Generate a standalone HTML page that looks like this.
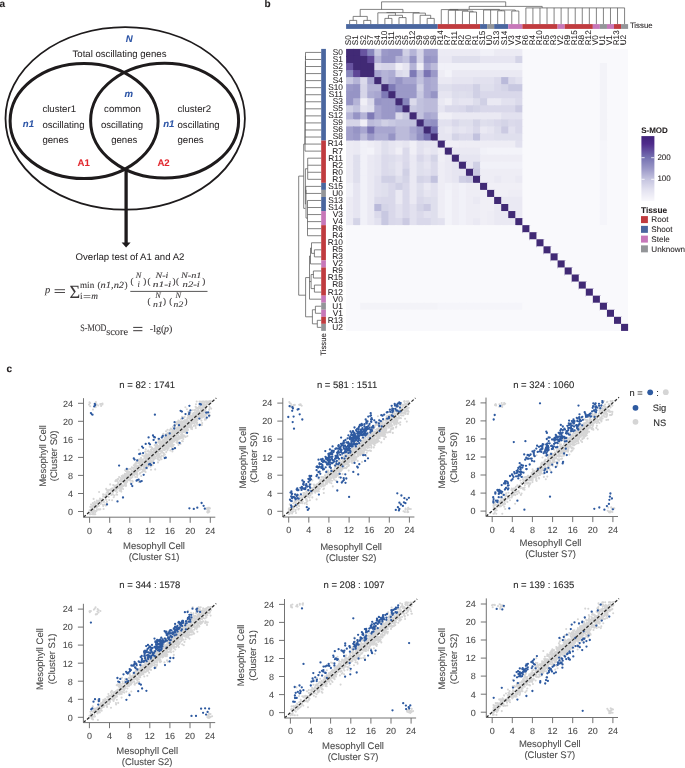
<!DOCTYPE html>
<html><head><meta charset="utf-8"><style>
html,body{margin:0;padding:0;background:#fff;}
body{width:685px;height:768px;overflow:hidden;}
svg{display:block;font-family:"Liberation Sans", sans-serif;text-rendering:geometricPrecision;filter:blur(0.35px);}
</style></head><body>
<svg width="685" height="768" viewBox="0 0 685 768">
<text x="-0.6" y="6.9" font-size="10" font-weight="bold" fill="#231f20" stroke="#231f20" stroke-width="0.08">a</text>
<text x="264.6" y="7" font-size="10" font-weight="bold" fill="#231f20" stroke="#231f20" stroke-width="0.08">b</text>
<text x="6.6" y="372" font-size="10" font-weight="bold" fill="#231f20" stroke="#231f20" stroke-width="0.08">c</text>
<ellipse cx="125.2" cy="118.4" rx="119.7" ry="91.3" fill="none" stroke="#1e1b1c" stroke-width="1.8"/>
<ellipse cx="84.1" cy="121.0" rx="74.0" ry="57.6" fill="none" stroke="#1e1b1c" stroke-width="3.0"/>
<ellipse cx="164.6" cy="120.7" rx="74.0" ry="57.4" fill="none" stroke="#1e1b1c" stroke-width="3.0"/>
<line x1="126.1" y1="168" x2="126.1" y2="243" stroke="#1e1b1c" stroke-width="3.3"/>
<path d="M121.6 242.4 L130.6 242.4 L126.1 247.6 Z" fill="#1e1b1c"/>
<text x="129.3" y="41.9" font-size="9.6" font-weight="bold" font-style="italic" text-anchor="middle" fill="#2d55a6" stroke="#2d55a6" stroke-width="0.08">N</text>
<text x="119.5" y="56.9" font-size="9.6" text-anchor="middle" fill="#2b2829" stroke="#2b2829" stroke-width="0.05">Total oscillating genes</text>
<text x="128.7" y="97.4" font-size="9.6" font-weight="bold" font-style="italic" text-anchor="middle" fill="#2d55a6" stroke="#2d55a6" stroke-width="0.08">m</text>
<text x="42.4" y="112" font-size="9.6" fill="#2b2829" stroke="#2b2829" stroke-width="0.05">cluster1</text>
<text x="42.4" y="127.5" font-size="9.6" fill="#2b2829" stroke="#2b2829" stroke-width="0.05">oscillating</text>
<text x="42.4" y="142.5" font-size="9.6" fill="#2b2829" stroke="#2b2829" stroke-width="0.05">genes</text>
<text x="22.8" y="127.3" font-size="9.6" font-weight="bold" font-style="italic" fill="#2d55a6" stroke="#2d55a6" stroke-width="0.08">n1</text>
<text x="122.5" y="112" font-size="9.6" text-anchor="middle" fill="#2b2829" stroke="#2b2829" stroke-width="0.05">common</text>
<text x="122" y="127.5" font-size="9.6" text-anchor="middle" fill="#2b2829" stroke="#2b2829" stroke-width="0.05">oscillating</text>
<text x="124.2" y="142.5" font-size="9.6" text-anchor="middle" fill="#2b2829" stroke="#2b2829" stroke-width="0.05">genes</text>
<text x="177.5" y="112" font-size="9.6" fill="#2b2829" stroke="#2b2829" stroke-width="0.05">cluster2</text>
<text x="177.5" y="127.5" font-size="9.6" fill="#2b2829" stroke="#2b2829" stroke-width="0.05">oscillating</text>
<text x="177.5" y="142.5" font-size="9.6" fill="#2b2829" stroke="#2b2829" stroke-width="0.05">genes</text>
<text x="163.2" y="127.3" font-size="9.6" font-weight="bold" font-style="italic" fill="#2d55a6" stroke="#2d55a6" stroke-width="0.08">n1</text>
<text x="77.6" y="166" font-size="9.6" font-weight="bold" fill="#e1272d" stroke="#e1272d" stroke-width="0.08">A1</text>
<text x="157.4" y="166" font-size="9.6" font-weight="bold" fill="#e1272d" stroke="#e1272d" stroke-width="0.08">A2</text>
<text x="130" y="260" font-size="9.6" text-anchor="middle" fill="#2b2829" stroke="#2b2829" stroke-width="0.05">Overlap test of A1 and A2</text>
<text x="45" y="292.8" font-size="10.5" font-family="Liberation Serif, serif" font-style="italic" fill="#3a3738" stroke="#3a3738" stroke-width="0.1">p</text>
<path d="M54.6 289.7H65M54.6 292.5H65" stroke="#3a3738" stroke-width="0.9"/>
<text x="69.4" y="297.6" font-size="18.5" font-family="Liberation Serif, serif" textLength="10.6" lengthAdjust="spacingAndGlyphs" fill="#3a3738" stroke="#3a3738" stroke-width="0.1">Σ</text>
<text x="80" y="287.6" font-size="9.3" font-family="Liberation Serif, serif" textLength="14.2" lengthAdjust="spacingAndGlyphs" fill="#3a3738" stroke="#3a3738" stroke-width="0.1">min</text>
<text x="97.4" y="287.6" font-size="9.3" font-family="Liberation Serif, serif" fill="#3a3738" stroke="#3a3738" stroke-width="0.1">(</text>
<text x="100.6" y="287.6" font-size="9.3" font-family="Liberation Serif, serif" font-style="italic" textLength="23.5" lengthAdjust="spacingAndGlyphs" fill="#3a3738" stroke="#3a3738" stroke-width="0.1">n1,n2</text>
<text x="124.6" y="287.6" font-size="9.3" font-family="Liberation Serif, serif" fill="#3a3738" stroke="#3a3738" stroke-width="0.1">)</text>
<text x="80" y="299.2" font-size="9.3" font-family="Liberation Serif, serif" fill="#3a3738" stroke="#3a3738" stroke-width="0.1">i</text>
<path d="M83.6 295.5H90.4M83.6 297.6H90.4" stroke="#3a3738" stroke-width="0.6"/>
<text x="91.2" y="299.2" font-size="9.3" font-family="Liberation Serif, serif" font-style="italic" fill="#3a3738" stroke="#3a3738" stroke-width="0.1">m</text>
<line x1="130.3" y1="291.4" x2="207.5" y2="291.4" stroke="#3a3738" stroke-width="0.85"/>
<text x="130.5" y="284.2" font-size="9" font-family="Liberation Serif, serif" fill="#3a3738" stroke="#3a3738" stroke-width="0.1">(</text>
<text x="138.6" y="277.9" font-size="8.4" font-family="Liberation Serif, serif" font-style="italic" text-anchor="middle" fill="#3a3738" stroke="#3a3738" stroke-width="0.1">N</text>
<text x="138.6" y="286.9" font-size="8.4" font-family="Liberation Serif, serif" font-style="italic" text-anchor="middle" fill="#3a3738" stroke="#3a3738" stroke-width="0.1">i</text>
<text x="143.2" y="284.2" font-size="9" font-family="Liberation Serif, serif" fill="#3a3738" stroke="#3a3738" stroke-width="0.1">)</text>
<text x="147.6" y="284.2" font-size="9" font-family="Liberation Serif, serif" fill="#3a3738" stroke="#3a3738" stroke-width="0.1">(</text>
<text x="162" y="277.9" font-size="8.4" font-family="Liberation Serif, serif" font-style="italic" text-anchor="middle" textLength="12.8" lengthAdjust="spacingAndGlyphs" fill="#3a3738" stroke="#3a3738" stroke-width="0.1">N-i</text>
<text x="162" y="286.9" font-size="8.4" font-family="Liberation Serif, serif" font-style="italic" text-anchor="middle" textLength="18.6" lengthAdjust="spacingAndGlyphs" fill="#3a3738" stroke="#3a3738" stroke-width="0.1">n1-i</text>
<text x="172.4" y="284.2" font-size="9" font-family="Liberation Serif, serif" fill="#3a3738" stroke="#3a3738" stroke-width="0.1">)</text>
<text x="175.9" y="284.2" font-size="9" font-family="Liberation Serif, serif" fill="#3a3738" stroke="#3a3738" stroke-width="0.1">(</text>
<text x="191.2" y="277.9" font-size="8.4" font-family="Liberation Serif, serif" font-style="italic" text-anchor="middle" textLength="20.6" lengthAdjust="spacingAndGlyphs" fill="#3a3738" stroke="#3a3738" stroke-width="0.1">N-n1</text>
<text x="191.2" y="286.9" font-size="8.4" font-family="Liberation Serif, serif" font-style="italic" text-anchor="middle" textLength="17.2" lengthAdjust="spacingAndGlyphs" fill="#3a3738" stroke="#3a3738" stroke-width="0.1">n2-i</text>
<text x="202.3" y="284.2" font-size="9" font-family="Liberation Serif, serif" fill="#3a3738" stroke="#3a3738" stroke-width="0.1">)</text>
<text x="147.6" y="303.8" font-size="9" font-family="Liberation Serif, serif" fill="#3a3738" stroke="#3a3738" stroke-width="0.1">(</text>
<text x="158" y="297.6" font-size="8.4" font-family="Liberation Serif, serif" font-style="italic" text-anchor="middle" fill="#3a3738" stroke="#3a3738" stroke-width="0.1">N</text>
<text x="158" y="306.8" font-size="8.4" font-family="Liberation Serif, serif" font-style="italic" text-anchor="middle" textLength="9.8" lengthAdjust="spacingAndGlyphs" fill="#3a3738" stroke="#3a3738" stroke-width="0.1">n1</text>
<text x="163" y="303.8" font-size="9" font-family="Liberation Serif, serif" fill="#3a3738" stroke="#3a3738" stroke-width="0.1">)</text>
<text x="169.2" y="303.8" font-size="9" font-family="Liberation Serif, serif" fill="#3a3738" stroke="#3a3738" stroke-width="0.1">(</text>
<text x="178.4" y="297.6" font-size="8.4" font-family="Liberation Serif, serif" font-style="italic" text-anchor="middle" fill="#3a3738" stroke="#3a3738" stroke-width="0.1">N</text>
<text x="178.4" y="306.8" font-size="8.4" font-family="Liberation Serif, serif" font-style="italic" text-anchor="middle" textLength="9.6" lengthAdjust="spacingAndGlyphs" fill="#3a3738" stroke="#3a3738" stroke-width="0.1">n2</text>
<text x="184.6" y="303.8" font-size="9" font-family="Liberation Serif, serif" fill="#3a3738" stroke="#3a3738" stroke-width="0.1">)</text>
<text x="80.2" y="331" font-size="9.8" font-family="Liberation Serif, serif" textLength="26.2" lengthAdjust="spacingAndGlyphs" fill="#3a3738" stroke="#3a3738" stroke-width="0.1">S-MOD</text>
<text x="106.2" y="335.3" font-size="10.2" font-family="Liberation Serif, serif" textLength="21.8" lengthAdjust="spacingAndGlyphs" fill="#3a3738" stroke="#3a3738" stroke-width="0.1">score</text>
<path d="M133.2 327.4H142.4M133.2 330.7H142.4" stroke="#3a3738" stroke-width="1.0"/>
<text x="149.8" y="332.2" font-size="10" font-family="Liberation Serif, serif" textLength="14.6" lengthAdjust="spacingAndGlyphs" fill="#3a3738" stroke="#3a3738" stroke-width="0.1">-lg(</text>
<text x="164" y="332.2" font-size="10" font-family="Liberation Serif, serif" font-style="italic" fill="#3a3738" stroke="#3a3738" stroke-width="0.1">p</text>
<text x="169" y="332.2" font-size="10" font-family="Liberation Serif, serif" fill="#3a3738" stroke="#3a3738" stroke-width="0.1">)</text>
<rect x="346.1" y="48.9" width="282" height="282" fill="#f9f9fc"/>
<rect x="346.1" y="48.9" width="8.05" height="8.05" fill="#412a75"/>
<rect x="353.15" y="48.9" width="8.05" height="8.05" fill="#412a75"/>
<rect x="360.2" y="48.9" width="8.05" height="8.05" fill="#6854a0"/>
<rect x="367.25" y="48.9" width="8.05" height="8.05" fill="#8785bc"/>
<rect x="374.3" y="48.9" width="8.05" height="8.05" fill="#c9c9e2"/>
<rect x="381.35" y="48.9" width="8.05" height="8.05" fill="#9b99c8"/>
<rect x="388.4" y="48.9" width="8.05" height="8.05" fill="#9694c5"/>
<rect x="395.45" y="48.9" width="8.05" height="8.05" fill="#9694c5"/>
<rect x="402.5" y="48.9" width="8.05" height="8.05" fill="#d0d0e5"/>
<rect x="409.55" y="48.9" width="8.05" height="8.05" fill="#b5b4d7"/>
<rect x="416.6" y="48.9" width="8.05" height="8.05" fill="#d6d5e8"/>
<rect x="423.65" y="48.9" width="8.05" height="8.05" fill="#a2a0cc"/>
<rect x="430.7" y="48.9" width="8.05" height="8.05" fill="#a2a0cc"/>
<rect x="437.75" y="48.9" width="8.05" height="8.05" fill="#ecebf4"/>
<rect x="444.8" y="48.9" width="8.05" height="8.05" fill="#ecebf4"/>
<rect x="451.85" y="48.9" width="8.05" height="8.05" fill="#ecebf4"/>
<rect x="458.9" y="48.9" width="8.05" height="8.05" fill="#ecebf4"/>
<rect x="465.95" y="48.9" width="8.05" height="8.05" fill="#ecebf4"/>
<rect x="473" y="48.9" width="8.05" height="8.05" fill="#ecebf4"/>
<rect x="480.05" y="48.9" width="8.05" height="8.05" fill="#f1f1f8"/>
<rect x="487.1" y="48.9" width="8.05" height="8.05" fill="#f1f1f8"/>
<rect x="494.15" y="48.9" width="8.05" height="8.05" fill="#ecebf4"/>
<rect x="501.2" y="48.9" width="8.05" height="8.05" fill="#ecebf4"/>
<rect x="508.25" y="48.9" width="8.05" height="8.05" fill="#ecebf4"/>
<rect x="515.3" y="48.9" width="8.05" height="8.05" fill="#ecebf4"/>
<rect x="522.35" y="48.9" width="8.05" height="8.05" fill="#f9f9fc"/>
<rect x="346.1" y="55.95" width="8.05" height="8.05" fill="#412a75"/>
<rect x="353.15" y="55.95" width="8.05" height="8.05" fill="#412a75"/>
<rect x="360.2" y="55.95" width="8.05" height="8.05" fill="#412a75"/>
<rect x="367.25" y="55.95" width="8.05" height="8.05" fill="#5e4696"/>
<rect x="374.3" y="55.95" width="8.05" height="8.05" fill="#b5b4d7"/>
<rect x="381.35" y="55.95" width="8.05" height="8.05" fill="#9694c5"/>
<rect x="388.4" y="55.95" width="8.05" height="8.05" fill="#9694c5"/>
<rect x="395.45" y="55.95" width="8.05" height="8.05" fill="#b5b4d7"/>
<rect x="402.5" y="55.95" width="8.05" height="8.05" fill="#c2c2de"/>
<rect x="409.55" y="55.95" width="8.05" height="8.05" fill="#9694c5"/>
<rect x="416.6" y="55.95" width="8.05" height="8.05" fill="#d6d5e8"/>
<rect x="423.65" y="55.95" width="8.05" height="8.05" fill="#9694c5"/>
<rect x="430.7" y="55.95" width="8.05" height="8.05" fill="#9b99c8"/>
<rect x="437.75" y="55.95" width="8.05" height="8.05" fill="#eae9f3"/>
<rect x="444.8" y="55.95" width="8.05" height="8.05" fill="#eae9f3"/>
<rect x="451.85" y="55.95" width="8.05" height="8.05" fill="#dfdfed"/>
<rect x="458.9" y="55.95" width="8.05" height="8.05" fill="#dfdfed"/>
<rect x="465.95" y="55.95" width="8.05" height="8.05" fill="#dfdfed"/>
<rect x="473" y="55.95" width="8.05" height="8.05" fill="#dfdfed"/>
<rect x="480.05" y="55.95" width="8.05" height="8.05" fill="#e6e5f1"/>
<rect x="487.1" y="55.95" width="8.05" height="8.05" fill="#e6e5f1"/>
<rect x="494.15" y="55.95" width="8.05" height="8.05" fill="#e6e5f1"/>
<rect x="501.2" y="55.95" width="8.05" height="8.05" fill="#e6e5f1"/>
<rect x="508.25" y="55.95" width="8.05" height="8.05" fill="#e6e5f1"/>
<rect x="515.3" y="55.95" width="8.05" height="8.05" fill="#d4d4e7"/>
<rect x="522.35" y="55.95" width="8.05" height="8.05" fill="#f9f9fc"/>
<rect x="346.1" y="63" width="8.05" height="8.05" fill="#6854a0"/>
<rect x="353.15" y="63" width="8.05" height="8.05" fill="#412a75"/>
<rect x="360.2" y="63" width="8.05" height="8.05" fill="#412a75"/>
<rect x="367.25" y="63" width="8.05" height="8.05" fill="#412a75"/>
<rect x="374.3" y="63" width="8.05" height="8.05" fill="#dbdaeb"/>
<rect x="381.35" y="63" width="8.05" height="8.05" fill="#d6d5e8"/>
<rect x="388.4" y="63" width="8.05" height="8.05" fill="#d6d5e8"/>
<rect x="395.45" y="63" width="8.05" height="8.05" fill="#f0eff6"/>
<rect x="402.5" y="63" width="8.05" height="8.05" fill="#e6e5f1"/>
<rect x="409.55" y="63" width="8.05" height="8.05" fill="#b5b4d7"/>
<rect x="416.6" y="63" width="8.05" height="8.05" fill="#f0eff6"/>
<rect x="423.65" y="63" width="8.05" height="8.05" fill="#a8a6d0"/>
<rect x="430.7" y="63" width="8.05" height="8.05" fill="#bcbbda"/>
<rect x="437.75" y="63" width="8.05" height="8.05" fill="#f1f1f8"/>
<rect x="444.8" y="63" width="8.05" height="8.05" fill="#f1f1f8"/>
<rect x="451.85" y="63" width="8.05" height="8.05" fill="#f1f1f8"/>
<rect x="458.9" y="63" width="8.05" height="8.05" fill="#f1f1f8"/>
<rect x="465.95" y="63" width="8.05" height="8.05" fill="#f1f1f8"/>
<rect x="473" y="63" width="8.05" height="8.05" fill="#f1f1f8"/>
<rect x="480.05" y="63" width="8.05" height="8.05" fill="#f1f1f8"/>
<rect x="487.1" y="63" width="8.05" height="8.05" fill="#f1f1f8"/>
<rect x="494.15" y="63" width="8.05" height="8.05" fill="#f1f1f8"/>
<rect x="501.2" y="63" width="8.05" height="8.05" fill="#f1f1f8"/>
<rect x="508.25" y="63" width="8.05" height="8.05" fill="#f1f1f8"/>
<rect x="515.3" y="63" width="8.05" height="8.05" fill="#f1f1f8"/>
<rect x="522.35" y="63" width="8.05" height="8.05" fill="#f9f9fc"/>
<rect x="599.9" y="63" width="8.05" height="8.05" fill="#f3f3f8"/>
<rect x="606.95" y="63" width="8.05" height="8.05" fill="#f9f9fc"/>
<rect x="346.1" y="70.05" width="8.05" height="8.05" fill="#8785bc"/>
<rect x="353.15" y="70.05" width="8.05" height="8.05" fill="#5e4696"/>
<rect x="360.2" y="70.05" width="8.05" height="8.05" fill="#412a75"/>
<rect x="367.25" y="70.05" width="8.05" height="8.05" fill="#412a75"/>
<rect x="374.3" y="70.05" width="8.05" height="8.05" fill="#a8a6d0"/>
<rect x="381.35" y="70.05" width="8.05" height="8.05" fill="#b5b4d7"/>
<rect x="388.4" y="70.05" width="8.05" height="8.05" fill="#aeadd3"/>
<rect x="395.45" y="70.05" width="8.05" height="8.05" fill="#dbdaeb"/>
<rect x="402.5" y="70.05" width="8.05" height="8.05" fill="#e0e0ee"/>
<rect x="409.55" y="70.05" width="8.05" height="8.05" fill="#7e7ab6"/>
<rect x="416.6" y="70.05" width="8.05" height="8.05" fill="#bcbbda"/>
<rect x="423.65" y="70.05" width="8.05" height="8.05" fill="#7a74b3"/>
<rect x="430.7" y="70.05" width="8.05" height="8.05" fill="#9b99c8"/>
<rect x="437.75" y="70.05" width="8.05" height="8.05" fill="#eeedf5"/>
<rect x="444.8" y="70.05" width="8.05" height="8.05" fill="#f3f3f9"/>
<rect x="451.85" y="70.05" width="8.05" height="8.05" fill="#eae9f3"/>
<rect x="458.9" y="70.05" width="8.05" height="8.05" fill="#eae9f3"/>
<rect x="465.95" y="70.05" width="8.05" height="8.05" fill="#eae9f3"/>
<rect x="473" y="70.05" width="8.05" height="8.05" fill="#eae9f3"/>
<rect x="480.05" y="70.05" width="8.05" height="8.05" fill="#eae9f3"/>
<rect x="487.1" y="70.05" width="8.05" height="8.05" fill="#eae9f3"/>
<rect x="494.15" y="70.05" width="8.05" height="8.05" fill="#eae9f3"/>
<rect x="501.2" y="70.05" width="8.05" height="8.05" fill="#eae9f3"/>
<rect x="508.25" y="70.05" width="8.05" height="8.05" fill="#eae9f3"/>
<rect x="515.3" y="70.05" width="8.05" height="8.05" fill="#eae9f3"/>
<rect x="522.35" y="70.05" width="8.05" height="8.05" fill="#f9f9fc"/>
<rect x="599.9" y="70.05" width="8.05" height="8.05" fill="#f3f3f8"/>
<rect x="606.95" y="70.05" width="8.05" height="8.05" fill="#f9f9fc"/>
<rect x="346.1" y="77.1" width="8.05" height="8.05" fill="#c9c9e2"/>
<rect x="353.15" y="77.1" width="8.05" height="8.05" fill="#b5b4d7"/>
<rect x="360.2" y="77.1" width="8.05" height="8.05" fill="#dbdaeb"/>
<rect x="367.25" y="77.1" width="8.05" height="8.05" fill="#a8a6d0"/>
<rect x="374.3" y="77.1" width="8.05" height="8.05" fill="#412a75"/>
<rect x="381.35" y="77.1" width="8.05" height="8.05" fill="#b5b4d7"/>
<rect x="388.4" y="77.1" width="8.05" height="8.05" fill="#a8a6d0"/>
<rect x="395.45" y="77.1" width="8.05" height="8.05" fill="#9694c5"/>
<rect x="402.5" y="77.1" width="8.05" height="8.05" fill="#a8a6d0"/>
<rect x="409.55" y="77.1" width="8.05" height="8.05" fill="#a8a6d0"/>
<rect x="416.6" y="77.1" width="8.05" height="8.05" fill="#c2c2de"/>
<rect x="423.65" y="77.1" width="8.05" height="8.05" fill="#a8a6d0"/>
<rect x="430.7" y="77.1" width="8.05" height="8.05" fill="#aeadd3"/>
<rect x="437.75" y="77.1" width="8.05" height="8.05" fill="#eae9f3"/>
<rect x="444.8" y="77.1" width="8.05" height="8.05" fill="#eae9f3"/>
<rect x="451.85" y="77.1" width="8.05" height="8.05" fill="#e6e5f1"/>
<rect x="458.9" y="77.1" width="8.05" height="8.05" fill="#e6e5f1"/>
<rect x="465.95" y="77.1" width="8.05" height="8.05" fill="#e6e5f1"/>
<rect x="473" y="77.1" width="8.05" height="8.05" fill="#e2e1ef"/>
<rect x="480.05" y="77.1" width="8.05" height="8.05" fill="#e2e1ef"/>
<rect x="487.1" y="77.1" width="8.05" height="8.05" fill="#e2e1ef"/>
<rect x="494.15" y="77.1" width="8.05" height="8.05" fill="#dbdaeb"/>
<rect x="501.2" y="77.1" width="8.05" height="8.05" fill="#babada"/>
<rect x="508.25" y="77.1" width="8.05" height="8.05" fill="#dbdaeb"/>
<rect x="515.3" y="77.1" width="8.05" height="8.05" fill="#e2e1ef"/>
<rect x="522.35" y="77.1" width="8.05" height="8.05" fill="#f9f9fc"/>
<rect x="599.9" y="77.1" width="8.05" height="8.05" fill="#f3f3f8"/>
<rect x="606.95" y="77.1" width="8.05" height="8.05" fill="#f9f9fc"/>
<rect x="346.1" y="84.15" width="8.05" height="8.05" fill="#9b99c8"/>
<rect x="353.15" y="84.15" width="8.05" height="8.05" fill="#9694c5"/>
<rect x="360.2" y="84.15" width="8.05" height="8.05" fill="#d6d5e8"/>
<rect x="367.25" y="84.15" width="8.05" height="8.05" fill="#b5b4d7"/>
<rect x="374.3" y="84.15" width="8.05" height="8.05" fill="#b5b4d7"/>
<rect x="381.35" y="84.15" width="8.05" height="8.05" fill="#412a75"/>
<rect x="388.4" y="84.15" width="8.05" height="8.05" fill="#7e7ab6"/>
<rect x="395.45" y="84.15" width="8.05" height="8.05" fill="#9b99c8"/>
<rect x="402.5" y="84.15" width="8.05" height="8.05" fill="#9b99c8"/>
<rect x="409.55" y="84.15" width="8.05" height="8.05" fill="#9b99c8"/>
<rect x="416.6" y="84.15" width="8.05" height="8.05" fill="#d0d0e5"/>
<rect x="423.65" y="84.15" width="8.05" height="8.05" fill="#a8a6d0"/>
<rect x="430.7" y="84.15" width="8.05" height="8.05" fill="#aeadd3"/>
<rect x="437.75" y="84.15" width="8.05" height="8.05" fill="#dfdfed"/>
<rect x="444.8" y="84.15" width="8.05" height="8.05" fill="#dfdfed"/>
<rect x="451.85" y="84.15" width="8.05" height="8.05" fill="#dbdaeb"/>
<rect x="458.9" y="84.15" width="8.05" height="8.05" fill="#dbdaeb"/>
<rect x="465.95" y="84.15" width="8.05" height="8.05" fill="#dbdaeb"/>
<rect x="473" y="84.15" width="8.05" height="8.05" fill="#d0d0e5"/>
<rect x="480.05" y="84.15" width="8.05" height="8.05" fill="#dfdfed"/>
<rect x="487.1" y="84.15" width="8.05" height="8.05" fill="#dfdfed"/>
<rect x="494.15" y="84.15" width="8.05" height="8.05" fill="#d9d8ea"/>
<rect x="501.2" y="84.15" width="8.05" height="8.05" fill="#d4d4e7"/>
<rect x="508.25" y="84.15" width="8.05" height="8.05" fill="#c8c8e1"/>
<rect x="515.3" y="84.15" width="8.05" height="8.05" fill="#c8c8e1"/>
<rect x="522.35" y="84.15" width="8.05" height="8.05" fill="#f9f9fc"/>
<rect x="599.9" y="84.15" width="8.05" height="8.05" fill="#f3f3f8"/>
<rect x="606.95" y="84.15" width="8.05" height="8.05" fill="#f9f9fc"/>
<rect x="346.1" y="91.2" width="8.05" height="8.05" fill="#9694c5"/>
<rect x="353.15" y="91.2" width="8.05" height="8.05" fill="#9694c5"/>
<rect x="360.2" y="91.2" width="8.05" height="8.05" fill="#d6d5e8"/>
<rect x="367.25" y="91.2" width="8.05" height="8.05" fill="#aeadd3"/>
<rect x="374.3" y="91.2" width="8.05" height="8.05" fill="#a8a6d0"/>
<rect x="381.35" y="91.2" width="8.05" height="8.05" fill="#7e7ab6"/>
<rect x="388.4" y="91.2" width="8.05" height="8.05" fill="#412a75"/>
<rect x="395.45" y="91.2" width="8.05" height="8.05" fill="#9b99c8"/>
<rect x="402.5" y="91.2" width="8.05" height="8.05" fill="#9b99c8"/>
<rect x="409.55" y="91.2" width="8.05" height="8.05" fill="#9b99c8"/>
<rect x="416.6" y="91.2" width="8.05" height="8.05" fill="#c9c9e2"/>
<rect x="423.65" y="91.2" width="8.05" height="8.05" fill="#a8a6d0"/>
<rect x="430.7" y="91.2" width="8.05" height="8.05" fill="#9694c5"/>
<rect x="437.75" y="91.2" width="8.05" height="8.05" fill="#e6e5f1"/>
<rect x="444.8" y="91.2" width="8.05" height="8.05" fill="#e6e5f1"/>
<rect x="451.85" y="91.2" width="8.05" height="8.05" fill="#ddddec"/>
<rect x="458.9" y="91.2" width="8.05" height="8.05" fill="#dfdfed"/>
<rect x="465.95" y="91.2" width="8.05" height="8.05" fill="#ddddec"/>
<rect x="473" y="91.2" width="8.05" height="8.05" fill="#d0d0e5"/>
<rect x="480.05" y="91.2" width="8.05" height="8.05" fill="#d9d8ea"/>
<rect x="487.1" y="91.2" width="8.05" height="8.05" fill="#d9d8ea"/>
<rect x="494.15" y="91.2" width="8.05" height="8.05" fill="#d9d8ea"/>
<rect x="501.2" y="91.2" width="8.05" height="8.05" fill="#d9d8ea"/>
<rect x="508.25" y="91.2" width="8.05" height="8.05" fill="#d9d8ea"/>
<rect x="515.3" y="91.2" width="8.05" height="8.05" fill="#d9d8ea"/>
<rect x="522.35" y="91.2" width="8.05" height="8.05" fill="#f9f9fc"/>
<rect x="599.9" y="91.2" width="8.05" height="8.05" fill="#f3f3f8"/>
<rect x="606.95" y="91.2" width="8.05" height="8.05" fill="#f9f9fc"/>
<rect x="346.1" y="98.25" width="8.05" height="8.05" fill="#9694c5"/>
<rect x="353.15" y="98.25" width="8.05" height="8.05" fill="#b5b4d7"/>
<rect x="360.2" y="98.25" width="8.05" height="8.05" fill="#f0eff6"/>
<rect x="367.25" y="98.25" width="8.05" height="8.05" fill="#dbdaeb"/>
<rect x="374.3" y="98.25" width="8.05" height="8.05" fill="#9694c5"/>
<rect x="381.35" y="98.25" width="8.05" height="8.05" fill="#9b99c8"/>
<rect x="388.4" y="98.25" width="8.05" height="8.05" fill="#9b99c8"/>
<rect x="395.45" y="98.25" width="8.05" height="8.05" fill="#412a75"/>
<rect x="402.5" y="98.25" width="8.05" height="8.05" fill="#8785bc"/>
<rect x="409.55" y="98.25" width="8.05" height="8.05" fill="#dbdaeb"/>
<rect x="416.6" y="98.25" width="8.05" height="8.05" fill="#c2c2de"/>
<rect x="423.65" y="98.25" width="8.05" height="8.05" fill="#bcbbda"/>
<rect x="430.7" y="98.25" width="8.05" height="8.05" fill="#bcbbda"/>
<rect x="437.75" y="98.25" width="8.05" height="8.05" fill="#eae9f3"/>
<rect x="444.8" y="98.25" width="8.05" height="8.05" fill="#f0eff6"/>
<rect x="451.85" y="98.25" width="8.05" height="8.05" fill="#e2e1ef"/>
<rect x="458.9" y="98.25" width="8.05" height="8.05" fill="#e6e5f1"/>
<rect x="465.95" y="98.25" width="8.05" height="8.05" fill="#e6e5f1"/>
<rect x="473" y="98.25" width="8.05" height="8.05" fill="#ddddec"/>
<rect x="480.05" y="98.25" width="8.05" height="8.05" fill="#d0d0e5"/>
<rect x="487.1" y="98.25" width="8.05" height="8.05" fill="#eae9f3"/>
<rect x="494.15" y="98.25" width="8.05" height="8.05" fill="#eae9f3"/>
<rect x="501.2" y="98.25" width="8.05" height="8.05" fill="#e2e1ef"/>
<rect x="508.25" y="98.25" width="8.05" height="8.05" fill="#e2e1ef"/>
<rect x="515.3" y="98.25" width="8.05" height="8.05" fill="#dbdaeb"/>
<rect x="522.35" y="98.25" width="8.05" height="8.05" fill="#f9f9fc"/>
<rect x="599.9" y="98.25" width="8.05" height="8.05" fill="#f3f3f8"/>
<rect x="606.95" y="98.25" width="8.05" height="8.05" fill="#f9f9fc"/>
<rect x="346.1" y="105.3" width="8.05" height="8.05" fill="#d0d0e5"/>
<rect x="353.15" y="105.3" width="8.05" height="8.05" fill="#c2c2de"/>
<rect x="360.2" y="105.3" width="8.05" height="8.05" fill="#e6e5f1"/>
<rect x="367.25" y="105.3" width="8.05" height="8.05" fill="#e0e0ee"/>
<rect x="374.3" y="105.3" width="8.05" height="8.05" fill="#a8a6d0"/>
<rect x="381.35" y="105.3" width="8.05" height="8.05" fill="#9b99c8"/>
<rect x="388.4" y="105.3" width="8.05" height="8.05" fill="#9b99c8"/>
<rect x="395.45" y="105.3" width="8.05" height="8.05" fill="#8785bc"/>
<rect x="402.5" y="105.3" width="8.05" height="8.05" fill="#412a75"/>
<rect x="409.55" y="105.3" width="8.05" height="8.05" fill="#c9c9e2"/>
<rect x="416.6" y="105.3" width="8.05" height="8.05" fill="#c2c2de"/>
<rect x="423.65" y="105.3" width="8.05" height="8.05" fill="#bcbbda"/>
<rect x="430.7" y="105.3" width="8.05" height="8.05" fill="#bcbbda"/>
<rect x="437.75" y="105.3" width="8.05" height="8.05" fill="#e6e5f1"/>
<rect x="444.8" y="105.3" width="8.05" height="8.05" fill="#dbdaeb"/>
<rect x="451.85" y="105.3" width="8.05" height="8.05" fill="#dbdaeb"/>
<rect x="458.9" y="105.3" width="8.05" height="8.05" fill="#d9d8ea"/>
<rect x="465.95" y="105.3" width="8.05" height="8.05" fill="#d0d0e5"/>
<rect x="473" y="105.3" width="8.05" height="8.05" fill="#d4d4e7"/>
<rect x="480.05" y="105.3" width="8.05" height="8.05" fill="#d9d8ea"/>
<rect x="487.1" y="105.3" width="8.05" height="8.05" fill="#d9d8ea"/>
<rect x="494.15" y="105.3" width="8.05" height="8.05" fill="#d9d8ea"/>
<rect x="501.2" y="105.3" width="8.05" height="8.05" fill="#d9d8ea"/>
<rect x="508.25" y="105.3" width="8.05" height="8.05" fill="#d9d8ea"/>
<rect x="515.3" y="105.3" width="8.05" height="8.05" fill="#cbcae2"/>
<rect x="522.35" y="105.3" width="8.05" height="8.05" fill="#f9f9fc"/>
<rect x="599.9" y="105.3" width="8.05" height="8.05" fill="#f3f3f8"/>
<rect x="606.95" y="105.3" width="8.05" height="8.05" fill="#f9f9fc"/>
<rect x="346.1" y="112.35" width="8.05" height="8.05" fill="#b5b4d7"/>
<rect x="353.15" y="112.35" width="8.05" height="8.05" fill="#9694c5"/>
<rect x="360.2" y="112.35" width="8.05" height="8.05" fill="#b5b4d7"/>
<rect x="367.25" y="112.35" width="8.05" height="8.05" fill="#7e7ab6"/>
<rect x="374.3" y="112.35" width="8.05" height="8.05" fill="#a8a6d0"/>
<rect x="381.35" y="112.35" width="8.05" height="8.05" fill="#9b99c8"/>
<rect x="388.4" y="112.35" width="8.05" height="8.05" fill="#9b99c8"/>
<rect x="395.45" y="112.35" width="8.05" height="8.05" fill="#dbdaeb"/>
<rect x="402.5" y="112.35" width="8.05" height="8.05" fill="#c9c9e2"/>
<rect x="409.55" y="112.35" width="8.05" height="8.05" fill="#412a75"/>
<rect x="416.6" y="112.35" width="8.05" height="8.05" fill="#c2c2de"/>
<rect x="423.65" y="112.35" width="8.05" height="8.05" fill="#a8a6d0"/>
<rect x="430.7" y="112.35" width="8.05" height="8.05" fill="#aeadd3"/>
<rect x="437.75" y="112.35" width="8.05" height="8.05" fill="#f0eff6"/>
<rect x="444.8" y="112.35" width="8.05" height="8.05" fill="#f0eff6"/>
<rect x="451.85" y="112.35" width="8.05" height="8.05" fill="#eae9f3"/>
<rect x="458.9" y="112.35" width="8.05" height="8.05" fill="#eae9f3"/>
<rect x="465.95" y="112.35" width="8.05" height="8.05" fill="#eae9f3"/>
<rect x="473" y="112.35" width="8.05" height="8.05" fill="#eae9f3"/>
<rect x="480.05" y="112.35" width="8.05" height="8.05" fill="#eae9f3"/>
<rect x="487.1" y="112.35" width="8.05" height="8.05" fill="#eae9f3"/>
<rect x="494.15" y="112.35" width="8.05" height="8.05" fill="#eae9f3"/>
<rect x="501.2" y="112.35" width="8.05" height="8.05" fill="#e2e1ef"/>
<rect x="508.25" y="112.35" width="8.05" height="8.05" fill="#e2e1ef"/>
<rect x="515.3" y="112.35" width="8.05" height="8.05" fill="#e2e1ef"/>
<rect x="522.35" y="112.35" width="8.05" height="8.05" fill="#f9f9fc"/>
<rect x="599.9" y="112.35" width="8.05" height="8.05" fill="#f3f3f8"/>
<rect x="606.95" y="112.35" width="8.05" height="8.05" fill="#f9f9fc"/>
<rect x="346.1" y="119.4" width="8.05" height="8.05" fill="#d6d5e8"/>
<rect x="353.15" y="119.4" width="8.05" height="8.05" fill="#d6d5e8"/>
<rect x="360.2" y="119.4" width="8.05" height="8.05" fill="#f0eff6"/>
<rect x="367.25" y="119.4" width="8.05" height="8.05" fill="#bcbbda"/>
<rect x="374.3" y="119.4" width="8.05" height="8.05" fill="#c2c2de"/>
<rect x="381.35" y="119.4" width="8.05" height="8.05" fill="#d0d0e5"/>
<rect x="388.4" y="119.4" width="8.05" height="8.05" fill="#c9c9e2"/>
<rect x="395.45" y="119.4" width="8.05" height="8.05" fill="#c2c2de"/>
<rect x="402.5" y="119.4" width="8.05" height="8.05" fill="#c2c2de"/>
<rect x="409.55" y="119.4" width="8.05" height="8.05" fill="#c2c2de"/>
<rect x="416.6" y="119.4" width="8.05" height="8.05" fill="#412a75"/>
<rect x="423.65" y="119.4" width="8.05" height="8.05" fill="#9694c5"/>
<rect x="430.7" y="119.4" width="8.05" height="8.05" fill="#918fc2"/>
<rect x="437.75" y="119.4" width="8.05" height="8.05" fill="#e2e1ef"/>
<rect x="444.8" y="119.4" width="8.05" height="8.05" fill="#e2e1ef"/>
<rect x="451.85" y="119.4" width="8.05" height="8.05" fill="#d9d8ea"/>
<rect x="458.9" y="119.4" width="8.05" height="8.05" fill="#dfdfed"/>
<rect x="465.95" y="119.4" width="8.05" height="8.05" fill="#dfdfed"/>
<rect x="473" y="119.4" width="8.05" height="8.05" fill="#d4d4e7"/>
<rect x="480.05" y="119.4" width="8.05" height="8.05" fill="#dfdfed"/>
<rect x="487.1" y="119.4" width="8.05" height="8.05" fill="#ddddec"/>
<rect x="494.15" y="119.4" width="8.05" height="8.05" fill="#d9d8ea"/>
<rect x="501.2" y="119.4" width="8.05" height="8.05" fill="#d4d4e7"/>
<rect x="508.25" y="119.4" width="8.05" height="8.05" fill="#dbdaeb"/>
<rect x="515.3" y="119.4" width="8.05" height="8.05" fill="#d9d8ea"/>
<rect x="522.35" y="119.4" width="8.05" height="8.05" fill="#f9f9fc"/>
<rect x="599.9" y="119.4" width="8.05" height="8.05" fill="#f3f3f8"/>
<rect x="606.95" y="119.4" width="8.05" height="8.05" fill="#f9f9fc"/>
<rect x="346.1" y="126.45" width="8.05" height="8.05" fill="#a2a0cc"/>
<rect x="353.15" y="126.45" width="8.05" height="8.05" fill="#9694c5"/>
<rect x="360.2" y="126.45" width="8.05" height="8.05" fill="#a8a6d0"/>
<rect x="367.25" y="126.45" width="8.05" height="8.05" fill="#7a74b3"/>
<rect x="374.3" y="126.45" width="8.05" height="8.05" fill="#a8a6d0"/>
<rect x="381.35" y="126.45" width="8.05" height="8.05" fill="#a8a6d0"/>
<rect x="388.4" y="126.45" width="8.05" height="8.05" fill="#a8a6d0"/>
<rect x="395.45" y="126.45" width="8.05" height="8.05" fill="#bcbbda"/>
<rect x="402.5" y="126.45" width="8.05" height="8.05" fill="#bcbbda"/>
<rect x="409.55" y="126.45" width="8.05" height="8.05" fill="#a8a6d0"/>
<rect x="416.6" y="126.45" width="8.05" height="8.05" fill="#9694c5"/>
<rect x="423.65" y="126.45" width="8.05" height="8.05" fill="#412a75"/>
<rect x="430.7" y="126.45" width="8.05" height="8.05" fill="#756fb0"/>
<rect x="437.75" y="126.45" width="8.05" height="8.05" fill="#e6e5f1"/>
<rect x="444.8" y="126.45" width="8.05" height="8.05" fill="#eae9f3"/>
<rect x="451.85" y="126.45" width="8.05" height="8.05" fill="#e2e1ef"/>
<rect x="458.9" y="126.45" width="8.05" height="8.05" fill="#e6e5f1"/>
<rect x="465.95" y="126.45" width="8.05" height="8.05" fill="#e2e1ef"/>
<rect x="473" y="126.45" width="8.05" height="8.05" fill="#d9d8ea"/>
<rect x="480.05" y="126.45" width="8.05" height="8.05" fill="#eae9f3"/>
<rect x="487.1" y="126.45" width="8.05" height="8.05" fill="#e6e5f1"/>
<rect x="494.15" y="126.45" width="8.05" height="8.05" fill="#ddddec"/>
<rect x="501.2" y="126.45" width="8.05" height="8.05" fill="#cbcae2"/>
<rect x="508.25" y="126.45" width="8.05" height="8.05" fill="#e2e1ef"/>
<rect x="515.3" y="126.45" width="8.05" height="8.05" fill="#d9d8ea"/>
<rect x="522.35" y="126.45" width="8.05" height="8.05" fill="#f9f9fc"/>
<rect x="599.9" y="126.45" width="8.05" height="8.05" fill="#f3f3f8"/>
<rect x="606.95" y="126.45" width="8.05" height="8.05" fill="#f9f9fc"/>
<rect x="346.1" y="133.5" width="8.05" height="8.05" fill="#a2a0cc"/>
<rect x="353.15" y="133.5" width="8.05" height="8.05" fill="#9b99c8"/>
<rect x="360.2" y="133.5" width="8.05" height="8.05" fill="#bcbbda"/>
<rect x="367.25" y="133.5" width="8.05" height="8.05" fill="#9b99c8"/>
<rect x="374.3" y="133.5" width="8.05" height="8.05" fill="#aeadd3"/>
<rect x="381.35" y="133.5" width="8.05" height="8.05" fill="#aeadd3"/>
<rect x="388.4" y="133.5" width="8.05" height="8.05" fill="#9694c5"/>
<rect x="395.45" y="133.5" width="8.05" height="8.05" fill="#bcbbda"/>
<rect x="402.5" y="133.5" width="8.05" height="8.05" fill="#bcbbda"/>
<rect x="409.55" y="133.5" width="8.05" height="8.05" fill="#aeadd3"/>
<rect x="416.6" y="133.5" width="8.05" height="8.05" fill="#918fc2"/>
<rect x="423.65" y="133.5" width="8.05" height="8.05" fill="#756fb0"/>
<rect x="430.7" y="133.5" width="8.05" height="8.05" fill="#412a75"/>
<rect x="437.75" y="133.5" width="8.05" height="8.05" fill="#e6e5f1"/>
<rect x="444.8" y="133.5" width="8.05" height="8.05" fill="#e6e5f1"/>
<rect x="451.85" y="133.5" width="8.05" height="8.05" fill="#d4d4e7"/>
<rect x="458.9" y="133.5" width="8.05" height="8.05" fill="#dbdaeb"/>
<rect x="465.95" y="133.5" width="8.05" height="8.05" fill="#dbdaeb"/>
<rect x="473" y="133.5" width="8.05" height="8.05" fill="#c2c2de"/>
<rect x="480.05" y="133.5" width="8.05" height="8.05" fill="#e2e1ef"/>
<rect x="487.1" y="133.5" width="8.05" height="8.05" fill="#e2e1ef"/>
<rect x="494.15" y="133.5" width="8.05" height="8.05" fill="#dfdfed"/>
<rect x="501.2" y="133.5" width="8.05" height="8.05" fill="#dfdfed"/>
<rect x="508.25" y="133.5" width="8.05" height="8.05" fill="#dfdfed"/>
<rect x="515.3" y="133.5" width="8.05" height="8.05" fill="#dfdfed"/>
<rect x="522.35" y="133.5" width="8.05" height="8.05" fill="#f9f9fc"/>
<rect x="599.9" y="133.5" width="8.05" height="8.05" fill="#f3f3f8"/>
<rect x="606.95" y="133.5" width="8.05" height="8.05" fill="#f9f9fc"/>
<rect x="346.1" y="140.55" width="8.05" height="8.05" fill="#ecebf4"/>
<rect x="353.15" y="140.55" width="8.05" height="8.05" fill="#eae9f3"/>
<rect x="360.2" y="140.55" width="8.05" height="8.05" fill="#f1f1f8"/>
<rect x="367.25" y="140.55" width="8.05" height="8.05" fill="#eeedf5"/>
<rect x="374.3" y="140.55" width="8.05" height="8.05" fill="#eae9f3"/>
<rect x="381.35" y="140.55" width="8.05" height="8.05" fill="#dfdfed"/>
<rect x="388.4" y="140.55" width="8.05" height="8.05" fill="#e6e5f1"/>
<rect x="395.45" y="140.55" width="8.05" height="8.05" fill="#eae9f3"/>
<rect x="402.5" y="140.55" width="8.05" height="8.05" fill="#e6e5f1"/>
<rect x="409.55" y="140.55" width="8.05" height="8.05" fill="#f0eff6"/>
<rect x="416.6" y="140.55" width="8.05" height="8.05" fill="#e2e1ef"/>
<rect x="423.65" y="140.55" width="8.05" height="8.05" fill="#e6e5f1"/>
<rect x="430.7" y="140.55" width="8.05" height="8.05" fill="#e6e5f1"/>
<rect x="437.75" y="140.55" width="8.05" height="8.05" fill="#412a75"/>
<rect x="444.8" y="140.55" width="8.05" height="8.05" fill="#f0eff6"/>
<rect x="451.85" y="140.55" width="8.05" height="8.05" fill="#f0eff6"/>
<rect x="458.9" y="140.55" width="8.05" height="8.05" fill="#eeedf5"/>
<rect x="465.95" y="140.55" width="8.05" height="8.05" fill="#eeedf5"/>
<rect x="473" y="140.55" width="8.05" height="8.05" fill="#eeedf5"/>
<rect x="480.05" y="140.55" width="8.05" height="8.05" fill="#eeedf5"/>
<rect x="487.1" y="140.55" width="8.05" height="8.05" fill="#eeedf5"/>
<rect x="494.15" y="140.55" width="8.05" height="8.05" fill="#eeedf5"/>
<rect x="501.2" y="140.55" width="8.05" height="8.05" fill="#eeedf5"/>
<rect x="508.25" y="140.55" width="8.05" height="8.05" fill="#eeedf5"/>
<rect x="515.3" y="140.55" width="8.05" height="8.05" fill="#e2e1ef"/>
<rect x="522.35" y="140.55" width="8.05" height="8.05" fill="#f9f9fc"/>
<rect x="599.9" y="140.55" width="8.05" height="8.05" fill="#f5f5fa"/>
<rect x="606.95" y="140.55" width="8.05" height="8.05" fill="#f9f9fc"/>
<rect x="346.1" y="147.6" width="8.05" height="8.05" fill="#ecebf4"/>
<rect x="353.15" y="147.6" width="8.05" height="8.05" fill="#eae9f3"/>
<rect x="360.2" y="147.6" width="8.05" height="8.05" fill="#f1f1f8"/>
<rect x="367.25" y="147.6" width="8.05" height="8.05" fill="#f3f3f9"/>
<rect x="374.3" y="147.6" width="8.05" height="8.05" fill="#eae9f3"/>
<rect x="381.35" y="147.6" width="8.05" height="8.05" fill="#dfdfed"/>
<rect x="388.4" y="147.6" width="8.05" height="8.05" fill="#e6e5f1"/>
<rect x="395.45" y="147.6" width="8.05" height="8.05" fill="#f0eff6"/>
<rect x="402.5" y="147.6" width="8.05" height="8.05" fill="#dbdaeb"/>
<rect x="409.55" y="147.6" width="8.05" height="8.05" fill="#f0eff6"/>
<rect x="416.6" y="147.6" width="8.05" height="8.05" fill="#e2e1ef"/>
<rect x="423.65" y="147.6" width="8.05" height="8.05" fill="#eae9f3"/>
<rect x="430.7" y="147.6" width="8.05" height="8.05" fill="#e6e5f1"/>
<rect x="437.75" y="147.6" width="8.05" height="8.05" fill="#f0eff6"/>
<rect x="444.8" y="147.6" width="8.05" height="8.05" fill="#412a75"/>
<rect x="451.85" y="147.6" width="8.05" height="8.05" fill="#eae9f3"/>
<rect x="458.9" y="147.6" width="8.05" height="8.05" fill="#eae9f3"/>
<rect x="465.95" y="147.6" width="8.05" height="8.05" fill="#eae9f3"/>
<rect x="473" y="147.6" width="8.05" height="8.05" fill="#eae9f3"/>
<rect x="480.05" y="147.6" width="8.05" height="8.05" fill="#f1f1f8"/>
<rect x="487.1" y="147.6" width="8.05" height="8.05" fill="#f3f3f9"/>
<rect x="494.15" y="147.6" width="8.05" height="8.05" fill="#f3f3f9"/>
<rect x="501.2" y="147.6" width="8.05" height="8.05" fill="#f3f3f9"/>
<rect x="508.25" y="147.6" width="8.05" height="8.05" fill="#f3f3f9"/>
<rect x="515.3" y="147.6" width="8.05" height="8.05" fill="#f3f3f9"/>
<rect x="522.35" y="147.6" width="8.05" height="8.05" fill="#f9f9fc"/>
<rect x="599.9" y="147.6" width="8.05" height="8.05" fill="#f5f5fa"/>
<rect x="606.95" y="147.6" width="8.05" height="8.05" fill="#f9f9fc"/>
<rect x="346.1" y="154.65" width="8.05" height="8.05" fill="#ecebf4"/>
<rect x="353.15" y="154.65" width="8.05" height="8.05" fill="#dfdfed"/>
<rect x="360.2" y="154.65" width="8.05" height="8.05" fill="#f1f1f8"/>
<rect x="367.25" y="154.65" width="8.05" height="8.05" fill="#eae9f3"/>
<rect x="374.3" y="154.65" width="8.05" height="8.05" fill="#e6e5f1"/>
<rect x="381.35" y="154.65" width="8.05" height="8.05" fill="#dbdaeb"/>
<rect x="388.4" y="154.65" width="8.05" height="8.05" fill="#ddddec"/>
<rect x="395.45" y="154.65" width="8.05" height="8.05" fill="#e2e1ef"/>
<rect x="402.5" y="154.65" width="8.05" height="8.05" fill="#dbdaeb"/>
<rect x="409.55" y="154.65" width="8.05" height="8.05" fill="#eae9f3"/>
<rect x="416.6" y="154.65" width="8.05" height="8.05" fill="#d9d8ea"/>
<rect x="423.65" y="154.65" width="8.05" height="8.05" fill="#e2e1ef"/>
<rect x="430.7" y="154.65" width="8.05" height="8.05" fill="#d4d4e7"/>
<rect x="437.75" y="154.65" width="8.05" height="8.05" fill="#f0eff6"/>
<rect x="444.8" y="154.65" width="8.05" height="8.05" fill="#eae9f3"/>
<rect x="451.85" y="154.65" width="8.05" height="8.05" fill="#412a75"/>
<rect x="458.9" y="154.65" width="8.05" height="8.05" fill="#e6e5f1"/>
<rect x="465.95" y="154.65" width="8.05" height="8.05" fill="#e6e5f1"/>
<rect x="473" y="154.65" width="8.05" height="8.05" fill="#e6e5f1"/>
<rect x="480.05" y="154.65" width="8.05" height="8.05" fill="#eeedf5"/>
<rect x="487.1" y="154.65" width="8.05" height="8.05" fill="#eeedf5"/>
<rect x="494.15" y="154.65" width="8.05" height="8.05" fill="#eeedf5"/>
<rect x="501.2" y="154.65" width="8.05" height="8.05" fill="#eeedf5"/>
<rect x="508.25" y="154.65" width="8.05" height="8.05" fill="#eeedf5"/>
<rect x="515.3" y="154.65" width="8.05" height="8.05" fill="#eeedf5"/>
<rect x="522.35" y="154.65" width="8.05" height="8.05" fill="#f9f9fc"/>
<rect x="599.9" y="154.65" width="8.05" height="8.05" fill="#f5f5fa"/>
<rect x="606.95" y="154.65" width="8.05" height="8.05" fill="#f9f9fc"/>
<rect x="346.1" y="161.7" width="8.05" height="8.05" fill="#ecebf4"/>
<rect x="353.15" y="161.7" width="8.05" height="8.05" fill="#dfdfed"/>
<rect x="360.2" y="161.7" width="8.05" height="8.05" fill="#f1f1f8"/>
<rect x="367.25" y="161.7" width="8.05" height="8.05" fill="#eae9f3"/>
<rect x="374.3" y="161.7" width="8.05" height="8.05" fill="#e6e5f1"/>
<rect x="381.35" y="161.7" width="8.05" height="8.05" fill="#dbdaeb"/>
<rect x="388.4" y="161.7" width="8.05" height="8.05" fill="#dfdfed"/>
<rect x="395.45" y="161.7" width="8.05" height="8.05" fill="#e6e5f1"/>
<rect x="402.5" y="161.7" width="8.05" height="8.05" fill="#d9d8ea"/>
<rect x="409.55" y="161.7" width="8.05" height="8.05" fill="#eae9f3"/>
<rect x="416.6" y="161.7" width="8.05" height="8.05" fill="#dfdfed"/>
<rect x="423.65" y="161.7" width="8.05" height="8.05" fill="#e6e5f1"/>
<rect x="430.7" y="161.7" width="8.05" height="8.05" fill="#dbdaeb"/>
<rect x="437.75" y="161.7" width="8.05" height="8.05" fill="#eeedf5"/>
<rect x="444.8" y="161.7" width="8.05" height="8.05" fill="#eae9f3"/>
<rect x="451.85" y="161.7" width="8.05" height="8.05" fill="#e6e5f1"/>
<rect x="458.9" y="161.7" width="8.05" height="8.05" fill="#412a75"/>
<rect x="465.95" y="161.7" width="8.05" height="8.05" fill="#e6e5f1"/>
<rect x="473" y="161.7" width="8.05" height="8.05" fill="#d0d0e5"/>
<rect x="480.05" y="161.7" width="8.05" height="8.05" fill="#f1f1f8"/>
<rect x="487.1" y="161.7" width="8.05" height="8.05" fill="#f1f1f8"/>
<rect x="494.15" y="161.7" width="8.05" height="8.05" fill="#f1f1f8"/>
<rect x="501.2" y="161.7" width="8.05" height="8.05" fill="#f1f1f8"/>
<rect x="508.25" y="161.7" width="8.05" height="8.05" fill="#f1f1f8"/>
<rect x="515.3" y="161.7" width="8.05" height="8.05" fill="#f1f1f8"/>
<rect x="522.35" y="161.7" width="8.05" height="8.05" fill="#f9f9fc"/>
<rect x="599.9" y="161.7" width="8.05" height="8.05" fill="#f5f5fa"/>
<rect x="606.95" y="161.7" width="8.05" height="8.05" fill="#f9f9fc"/>
<rect x="346.1" y="168.75" width="8.05" height="8.05" fill="#ecebf4"/>
<rect x="353.15" y="168.75" width="8.05" height="8.05" fill="#dfdfed"/>
<rect x="360.2" y="168.75" width="8.05" height="8.05" fill="#f1f1f8"/>
<rect x="367.25" y="168.75" width="8.05" height="8.05" fill="#eae9f3"/>
<rect x="374.3" y="168.75" width="8.05" height="8.05" fill="#e6e5f1"/>
<rect x="381.35" y="168.75" width="8.05" height="8.05" fill="#dbdaeb"/>
<rect x="388.4" y="168.75" width="8.05" height="8.05" fill="#ddddec"/>
<rect x="395.45" y="168.75" width="8.05" height="8.05" fill="#e6e5f1"/>
<rect x="402.5" y="168.75" width="8.05" height="8.05" fill="#d0d0e5"/>
<rect x="409.55" y="168.75" width="8.05" height="8.05" fill="#eae9f3"/>
<rect x="416.6" y="168.75" width="8.05" height="8.05" fill="#dfdfed"/>
<rect x="423.65" y="168.75" width="8.05" height="8.05" fill="#e2e1ef"/>
<rect x="430.7" y="168.75" width="8.05" height="8.05" fill="#dbdaeb"/>
<rect x="437.75" y="168.75" width="8.05" height="8.05" fill="#eeedf5"/>
<rect x="444.8" y="168.75" width="8.05" height="8.05" fill="#eae9f3"/>
<rect x="451.85" y="168.75" width="8.05" height="8.05" fill="#e6e5f1"/>
<rect x="458.9" y="168.75" width="8.05" height="8.05" fill="#e6e5f1"/>
<rect x="465.95" y="168.75" width="8.05" height="8.05" fill="#412a75"/>
<rect x="473" y="168.75" width="8.05" height="8.05" fill="#cbcae2"/>
<rect x="480.05" y="168.75" width="8.05" height="8.05" fill="#eeedf5"/>
<rect x="487.1" y="168.75" width="8.05" height="8.05" fill="#eeedf5"/>
<rect x="494.15" y="168.75" width="8.05" height="8.05" fill="#eeedf5"/>
<rect x="501.2" y="168.75" width="8.05" height="8.05" fill="#eeedf5"/>
<rect x="508.25" y="168.75" width="8.05" height="8.05" fill="#eeedf5"/>
<rect x="515.3" y="168.75" width="8.05" height="8.05" fill="#eeedf5"/>
<rect x="522.35" y="168.75" width="8.05" height="8.05" fill="#f9f9fc"/>
<rect x="599.9" y="168.75" width="8.05" height="8.05" fill="#f5f5fa"/>
<rect x="606.95" y="168.75" width="8.05" height="8.05" fill="#f9f9fc"/>
<rect x="346.1" y="175.8" width="8.05" height="8.05" fill="#ecebf4"/>
<rect x="353.15" y="175.8" width="8.05" height="8.05" fill="#dfdfed"/>
<rect x="360.2" y="175.8" width="8.05" height="8.05" fill="#f1f1f8"/>
<rect x="367.25" y="175.8" width="8.05" height="8.05" fill="#eae9f3"/>
<rect x="374.3" y="175.8" width="8.05" height="8.05" fill="#e2e1ef"/>
<rect x="381.35" y="175.8" width="8.05" height="8.05" fill="#d0d0e5"/>
<rect x="388.4" y="175.8" width="8.05" height="8.05" fill="#d0d0e5"/>
<rect x="395.45" y="175.8" width="8.05" height="8.05" fill="#ddddec"/>
<rect x="402.5" y="175.8" width="8.05" height="8.05" fill="#d4d4e7"/>
<rect x="409.55" y="175.8" width="8.05" height="8.05" fill="#eae9f3"/>
<rect x="416.6" y="175.8" width="8.05" height="8.05" fill="#d4d4e7"/>
<rect x="423.65" y="175.8" width="8.05" height="8.05" fill="#d9d8ea"/>
<rect x="430.7" y="175.8" width="8.05" height="8.05" fill="#c2c2de"/>
<rect x="437.75" y="175.8" width="8.05" height="8.05" fill="#eeedf5"/>
<rect x="444.8" y="175.8" width="8.05" height="8.05" fill="#eae9f3"/>
<rect x="451.85" y="175.8" width="8.05" height="8.05" fill="#e6e5f1"/>
<rect x="458.9" y="175.8" width="8.05" height="8.05" fill="#d0d0e5"/>
<rect x="465.95" y="175.8" width="8.05" height="8.05" fill="#cbcae2"/>
<rect x="473" y="175.8" width="8.05" height="8.05" fill="#412a75"/>
<rect x="480.05" y="175.8" width="8.05" height="8.05" fill="#eeedf5"/>
<rect x="487.1" y="175.8" width="8.05" height="8.05" fill="#eeedf5"/>
<rect x="494.15" y="175.8" width="8.05" height="8.05" fill="#eae9f3"/>
<rect x="501.2" y="175.8" width="8.05" height="8.05" fill="#eeedf5"/>
<rect x="508.25" y="175.8" width="8.05" height="8.05" fill="#eeedf5"/>
<rect x="515.3" y="175.8" width="8.05" height="8.05" fill="#eae9f3"/>
<rect x="522.35" y="175.8" width="8.05" height="8.05" fill="#f9f9fc"/>
<rect x="599.9" y="175.8" width="8.05" height="8.05" fill="#f5f5fa"/>
<rect x="606.95" y="175.8" width="8.05" height="8.05" fill="#f9f9fc"/>
<rect x="346.1" y="182.85" width="8.05" height="8.05" fill="#f1f1f8"/>
<rect x="353.15" y="182.85" width="8.05" height="8.05" fill="#e6e5f1"/>
<rect x="360.2" y="182.85" width="8.05" height="8.05" fill="#f1f1f8"/>
<rect x="367.25" y="182.85" width="8.05" height="8.05" fill="#eae9f3"/>
<rect x="374.3" y="182.85" width="8.05" height="8.05" fill="#e2e1ef"/>
<rect x="381.35" y="182.85" width="8.05" height="8.05" fill="#dfdfed"/>
<rect x="388.4" y="182.85" width="8.05" height="8.05" fill="#d9d8ea"/>
<rect x="395.45" y="182.85" width="8.05" height="8.05" fill="#d0d0e5"/>
<rect x="402.5" y="182.85" width="8.05" height="8.05" fill="#d9d8ea"/>
<rect x="409.55" y="182.85" width="8.05" height="8.05" fill="#eae9f3"/>
<rect x="416.6" y="182.85" width="8.05" height="8.05" fill="#dfdfed"/>
<rect x="423.65" y="182.85" width="8.05" height="8.05" fill="#eae9f3"/>
<rect x="430.7" y="182.85" width="8.05" height="8.05" fill="#e2e1ef"/>
<rect x="437.75" y="182.85" width="8.05" height="8.05" fill="#eeedf5"/>
<rect x="444.8" y="182.85" width="8.05" height="8.05" fill="#f1f1f8"/>
<rect x="451.85" y="182.85" width="8.05" height="8.05" fill="#eeedf5"/>
<rect x="458.9" y="182.85" width="8.05" height="8.05" fill="#f1f1f8"/>
<rect x="465.95" y="182.85" width="8.05" height="8.05" fill="#eeedf5"/>
<rect x="473" y="182.85" width="8.05" height="8.05" fill="#eeedf5"/>
<rect x="480.05" y="182.85" width="8.05" height="8.05" fill="#412a75"/>
<rect x="487.1" y="182.85" width="8.05" height="8.05" fill="#f0eff6"/>
<rect x="494.15" y="182.85" width="8.05" height="8.05" fill="#f0eff6"/>
<rect x="501.2" y="182.85" width="8.05" height="8.05" fill="#f0eff6"/>
<rect x="508.25" y="182.85" width="8.05" height="8.05" fill="#f0eff6"/>
<rect x="515.3" y="182.85" width="8.05" height="8.05" fill="#f0eff6"/>
<rect x="522.35" y="182.85" width="8.05" height="8.05" fill="#f9f9fc"/>
<rect x="599.9" y="182.85" width="8.05" height="8.05" fill="#f5f5fa"/>
<rect x="606.95" y="182.85" width="8.05" height="8.05" fill="#f9f9fc"/>
<rect x="346.1" y="189.9" width="8.05" height="8.05" fill="#f1f1f8"/>
<rect x="353.15" y="189.9" width="8.05" height="8.05" fill="#e6e5f1"/>
<rect x="360.2" y="189.9" width="8.05" height="8.05" fill="#f1f1f8"/>
<rect x="367.25" y="189.9" width="8.05" height="8.05" fill="#eae9f3"/>
<rect x="374.3" y="189.9" width="8.05" height="8.05" fill="#e2e1ef"/>
<rect x="381.35" y="189.9" width="8.05" height="8.05" fill="#dfdfed"/>
<rect x="388.4" y="189.9" width="8.05" height="8.05" fill="#d9d8ea"/>
<rect x="395.45" y="189.9" width="8.05" height="8.05" fill="#eae9f3"/>
<rect x="402.5" y="189.9" width="8.05" height="8.05" fill="#d9d8ea"/>
<rect x="409.55" y="189.9" width="8.05" height="8.05" fill="#eae9f3"/>
<rect x="416.6" y="189.9" width="8.05" height="8.05" fill="#ddddec"/>
<rect x="423.65" y="189.9" width="8.05" height="8.05" fill="#e6e5f1"/>
<rect x="430.7" y="189.9" width="8.05" height="8.05" fill="#e2e1ef"/>
<rect x="437.75" y="189.9" width="8.05" height="8.05" fill="#eeedf5"/>
<rect x="444.8" y="189.9" width="8.05" height="8.05" fill="#f3f3f9"/>
<rect x="451.85" y="189.9" width="8.05" height="8.05" fill="#eeedf5"/>
<rect x="458.9" y="189.9" width="8.05" height="8.05" fill="#f1f1f8"/>
<rect x="465.95" y="189.9" width="8.05" height="8.05" fill="#eeedf5"/>
<rect x="473" y="189.9" width="8.05" height="8.05" fill="#eeedf5"/>
<rect x="480.05" y="189.9" width="8.05" height="8.05" fill="#f0eff6"/>
<rect x="487.1" y="189.9" width="8.05" height="8.05" fill="#412a75"/>
<rect x="494.15" y="189.9" width="8.05" height="8.05" fill="#f0eff6"/>
<rect x="501.2" y="189.9" width="8.05" height="8.05" fill="#f0eff6"/>
<rect x="508.25" y="189.9" width="8.05" height="8.05" fill="#eeedf5"/>
<rect x="515.3" y="189.9" width="8.05" height="8.05" fill="#eeedf5"/>
<rect x="522.35" y="189.9" width="8.05" height="8.05" fill="#f9f9fc"/>
<rect x="599.9" y="189.9" width="8.05" height="8.05" fill="#f5f5fa"/>
<rect x="606.95" y="189.9" width="8.05" height="8.05" fill="#f9f9fc"/>
<rect x="346.1" y="196.95" width="8.05" height="8.05" fill="#ecebf4"/>
<rect x="353.15" y="196.95" width="8.05" height="8.05" fill="#e6e5f1"/>
<rect x="360.2" y="196.95" width="8.05" height="8.05" fill="#f1f1f8"/>
<rect x="367.25" y="196.95" width="8.05" height="8.05" fill="#eae9f3"/>
<rect x="374.3" y="196.95" width="8.05" height="8.05" fill="#dbdaeb"/>
<rect x="381.35" y="196.95" width="8.05" height="8.05" fill="#d9d8ea"/>
<rect x="388.4" y="196.95" width="8.05" height="8.05" fill="#d9d8ea"/>
<rect x="395.45" y="196.95" width="8.05" height="8.05" fill="#eae9f3"/>
<rect x="402.5" y="196.95" width="8.05" height="8.05" fill="#d9d8ea"/>
<rect x="409.55" y="196.95" width="8.05" height="8.05" fill="#eae9f3"/>
<rect x="416.6" y="196.95" width="8.05" height="8.05" fill="#d9d8ea"/>
<rect x="423.65" y="196.95" width="8.05" height="8.05" fill="#ddddec"/>
<rect x="430.7" y="196.95" width="8.05" height="8.05" fill="#dfdfed"/>
<rect x="437.75" y="196.95" width="8.05" height="8.05" fill="#eeedf5"/>
<rect x="444.8" y="196.95" width="8.05" height="8.05" fill="#f3f3f9"/>
<rect x="451.85" y="196.95" width="8.05" height="8.05" fill="#eeedf5"/>
<rect x="458.9" y="196.95" width="8.05" height="8.05" fill="#f1f1f8"/>
<rect x="465.95" y="196.95" width="8.05" height="8.05" fill="#eeedf5"/>
<rect x="473" y="196.95" width="8.05" height="8.05" fill="#eae9f3"/>
<rect x="480.05" y="196.95" width="8.05" height="8.05" fill="#f0eff6"/>
<rect x="487.1" y="196.95" width="8.05" height="8.05" fill="#f0eff6"/>
<rect x="494.15" y="196.95" width="8.05" height="8.05" fill="#412a75"/>
<rect x="501.2" y="196.95" width="8.05" height="8.05" fill="#eae9f3"/>
<rect x="508.25" y="196.95" width="8.05" height="8.05" fill="#eae9f3"/>
<rect x="515.3" y="196.95" width="8.05" height="8.05" fill="#eae9f3"/>
<rect x="522.35" y="196.95" width="8.05" height="8.05" fill="#f9f9fc"/>
<rect x="599.9" y="196.95" width="8.05" height="8.05" fill="#f5f5fa"/>
<rect x="606.95" y="196.95" width="8.05" height="8.05" fill="#f9f9fc"/>
<rect x="346.1" y="204" width="8.05" height="8.05" fill="#ecebf4"/>
<rect x="353.15" y="204" width="8.05" height="8.05" fill="#e6e5f1"/>
<rect x="360.2" y="204" width="8.05" height="8.05" fill="#f1f1f8"/>
<rect x="367.25" y="204" width="8.05" height="8.05" fill="#eae9f3"/>
<rect x="374.3" y="204" width="8.05" height="8.05" fill="#babada"/>
<rect x="381.35" y="204" width="8.05" height="8.05" fill="#d4d4e7"/>
<rect x="388.4" y="204" width="8.05" height="8.05" fill="#d9d8ea"/>
<rect x="395.45" y="204" width="8.05" height="8.05" fill="#e2e1ef"/>
<rect x="402.5" y="204" width="8.05" height="8.05" fill="#d9d8ea"/>
<rect x="409.55" y="204" width="8.05" height="8.05" fill="#e2e1ef"/>
<rect x="416.6" y="204" width="8.05" height="8.05" fill="#d4d4e7"/>
<rect x="423.65" y="204" width="8.05" height="8.05" fill="#cbcae2"/>
<rect x="430.7" y="204" width="8.05" height="8.05" fill="#dfdfed"/>
<rect x="437.75" y="204" width="8.05" height="8.05" fill="#eeedf5"/>
<rect x="444.8" y="204" width="8.05" height="8.05" fill="#f3f3f9"/>
<rect x="451.85" y="204" width="8.05" height="8.05" fill="#eeedf5"/>
<rect x="458.9" y="204" width="8.05" height="8.05" fill="#f1f1f8"/>
<rect x="465.95" y="204" width="8.05" height="8.05" fill="#eeedf5"/>
<rect x="473" y="204" width="8.05" height="8.05" fill="#eeedf5"/>
<rect x="480.05" y="204" width="8.05" height="8.05" fill="#f0eff6"/>
<rect x="487.1" y="204" width="8.05" height="8.05" fill="#f0eff6"/>
<rect x="494.15" y="204" width="8.05" height="8.05" fill="#eae9f3"/>
<rect x="501.2" y="204" width="8.05" height="8.05" fill="#412a75"/>
<rect x="508.25" y="204" width="8.05" height="8.05" fill="#eae9f3"/>
<rect x="515.3" y="204" width="8.05" height="8.05" fill="#eae9f3"/>
<rect x="522.35" y="204" width="8.05" height="8.05" fill="#f9f9fc"/>
<rect x="599.9" y="204" width="8.05" height="8.05" fill="#f5f5fa"/>
<rect x="606.95" y="204" width="8.05" height="8.05" fill="#f9f9fc"/>
<rect x="346.1" y="211.05" width="8.05" height="8.05" fill="#ecebf4"/>
<rect x="353.15" y="211.05" width="8.05" height="8.05" fill="#e6e5f1"/>
<rect x="360.2" y="211.05" width="8.05" height="8.05" fill="#f1f1f8"/>
<rect x="367.25" y="211.05" width="8.05" height="8.05" fill="#eae9f3"/>
<rect x="374.3" y="211.05" width="8.05" height="8.05" fill="#dbdaeb"/>
<rect x="381.35" y="211.05" width="8.05" height="8.05" fill="#c8c8e1"/>
<rect x="388.4" y="211.05" width="8.05" height="8.05" fill="#d9d8ea"/>
<rect x="395.45" y="211.05" width="8.05" height="8.05" fill="#e2e1ef"/>
<rect x="402.5" y="211.05" width="8.05" height="8.05" fill="#d9d8ea"/>
<rect x="409.55" y="211.05" width="8.05" height="8.05" fill="#e2e1ef"/>
<rect x="416.6" y="211.05" width="8.05" height="8.05" fill="#dbdaeb"/>
<rect x="423.65" y="211.05" width="8.05" height="8.05" fill="#e2e1ef"/>
<rect x="430.7" y="211.05" width="8.05" height="8.05" fill="#dfdfed"/>
<rect x="437.75" y="211.05" width="8.05" height="8.05" fill="#eeedf5"/>
<rect x="444.8" y="211.05" width="8.05" height="8.05" fill="#f3f3f9"/>
<rect x="451.85" y="211.05" width="8.05" height="8.05" fill="#eeedf5"/>
<rect x="458.9" y="211.05" width="8.05" height="8.05" fill="#f1f1f8"/>
<rect x="465.95" y="211.05" width="8.05" height="8.05" fill="#eeedf5"/>
<rect x="473" y="211.05" width="8.05" height="8.05" fill="#eeedf5"/>
<rect x="480.05" y="211.05" width="8.05" height="8.05" fill="#f0eff6"/>
<rect x="487.1" y="211.05" width="8.05" height="8.05" fill="#eeedf5"/>
<rect x="494.15" y="211.05" width="8.05" height="8.05" fill="#eae9f3"/>
<rect x="501.2" y="211.05" width="8.05" height="8.05" fill="#eae9f3"/>
<rect x="508.25" y="211.05" width="8.05" height="8.05" fill="#412a75"/>
<rect x="515.3" y="211.05" width="8.05" height="8.05" fill="#eae9f3"/>
<rect x="522.35" y="211.05" width="8.05" height="8.05" fill="#f9f9fc"/>
<rect x="599.9" y="211.05" width="8.05" height="8.05" fill="#f5f5fa"/>
<rect x="606.95" y="211.05" width="8.05" height="8.05" fill="#f9f9fc"/>
<rect x="346.1" y="218.1" width="8.05" height="8.05" fill="#ecebf4"/>
<rect x="353.15" y="218.1" width="8.05" height="8.05" fill="#d4d4e7"/>
<rect x="360.2" y="218.1" width="8.05" height="8.05" fill="#f1f1f8"/>
<rect x="367.25" y="218.1" width="8.05" height="8.05" fill="#eae9f3"/>
<rect x="374.3" y="218.1" width="8.05" height="8.05" fill="#e2e1ef"/>
<rect x="381.35" y="218.1" width="8.05" height="8.05" fill="#c8c8e1"/>
<rect x="388.4" y="218.1" width="8.05" height="8.05" fill="#d9d8ea"/>
<rect x="395.45" y="218.1" width="8.05" height="8.05" fill="#dbdaeb"/>
<rect x="402.5" y="218.1" width="8.05" height="8.05" fill="#cbcae2"/>
<rect x="409.55" y="218.1" width="8.05" height="8.05" fill="#e2e1ef"/>
<rect x="416.6" y="218.1" width="8.05" height="8.05" fill="#d9d8ea"/>
<rect x="423.65" y="218.1" width="8.05" height="8.05" fill="#d9d8ea"/>
<rect x="430.7" y="218.1" width="8.05" height="8.05" fill="#dfdfed"/>
<rect x="437.75" y="218.1" width="8.05" height="8.05" fill="#e2e1ef"/>
<rect x="444.8" y="218.1" width="8.05" height="8.05" fill="#f3f3f9"/>
<rect x="451.85" y="218.1" width="8.05" height="8.05" fill="#eeedf5"/>
<rect x="458.9" y="218.1" width="8.05" height="8.05" fill="#f1f1f8"/>
<rect x="465.95" y="218.1" width="8.05" height="8.05" fill="#eeedf5"/>
<rect x="473" y="218.1" width="8.05" height="8.05" fill="#eae9f3"/>
<rect x="480.05" y="218.1" width="8.05" height="8.05" fill="#f0eff6"/>
<rect x="487.1" y="218.1" width="8.05" height="8.05" fill="#eeedf5"/>
<rect x="494.15" y="218.1" width="8.05" height="8.05" fill="#eae9f3"/>
<rect x="501.2" y="218.1" width="8.05" height="8.05" fill="#eae9f3"/>
<rect x="508.25" y="218.1" width="8.05" height="8.05" fill="#eae9f3"/>
<rect x="515.3" y="218.1" width="8.05" height="8.05" fill="#412a75"/>
<rect x="522.35" y="218.1" width="8.05" height="8.05" fill="#f9f9fc"/>
<rect x="599.9" y="218.1" width="8.05" height="8.05" fill="#f5f5fa"/>
<rect x="606.95" y="218.1" width="8.05" height="8.05" fill="#f9f9fc"/>
<rect x="346.1" y="225.15" width="8.05" height="8.05" fill="#f9f9fc"/>
<rect x="353.15" y="225.15" width="8.05" height="8.05" fill="#f9f9fc"/>
<rect x="360.2" y="225.15" width="8.05" height="8.05" fill="#f9f9fc"/>
<rect x="367.25" y="225.15" width="8.05" height="8.05" fill="#f9f9fc"/>
<rect x="374.3" y="225.15" width="8.05" height="8.05" fill="#f9f9fc"/>
<rect x="381.35" y="225.15" width="8.05" height="8.05" fill="#f9f9fc"/>
<rect x="388.4" y="225.15" width="8.05" height="8.05" fill="#f9f9fc"/>
<rect x="395.45" y="225.15" width="8.05" height="8.05" fill="#f9f9fc"/>
<rect x="402.5" y="225.15" width="8.05" height="8.05" fill="#f9f9fc"/>
<rect x="409.55" y="225.15" width="8.05" height="8.05" fill="#f9f9fc"/>
<rect x="416.6" y="225.15" width="8.05" height="8.05" fill="#f9f9fc"/>
<rect x="423.65" y="225.15" width="8.05" height="8.05" fill="#f9f9fc"/>
<rect x="430.7" y="225.15" width="8.05" height="8.05" fill="#f9f9fc"/>
<rect x="437.75" y="225.15" width="8.05" height="8.05" fill="#f9f9fc"/>
<rect x="444.8" y="225.15" width="8.05" height="8.05" fill="#f9f9fc"/>
<rect x="451.85" y="225.15" width="8.05" height="8.05" fill="#f9f9fc"/>
<rect x="458.9" y="225.15" width="8.05" height="8.05" fill="#f9f9fc"/>
<rect x="465.95" y="225.15" width="8.05" height="8.05" fill="#f9f9fc"/>
<rect x="473" y="225.15" width="8.05" height="8.05" fill="#f9f9fc"/>
<rect x="480.05" y="225.15" width="8.05" height="8.05" fill="#f9f9fc"/>
<rect x="487.1" y="225.15" width="8.05" height="8.05" fill="#f9f9fc"/>
<rect x="494.15" y="225.15" width="8.05" height="8.05" fill="#f9f9fc"/>
<rect x="501.2" y="225.15" width="8.05" height="8.05" fill="#f9f9fc"/>
<rect x="508.25" y="225.15" width="8.05" height="8.05" fill="#f9f9fc"/>
<rect x="515.3" y="225.15" width="8.05" height="8.05" fill="#f9f9fc"/>
<rect x="522.35" y="225.15" width="8.05" height="8.05" fill="#412a75"/>
<rect x="529.4" y="225.15" width="8.05" height="8.05" fill="#f9f9fc"/>
<rect x="599.9" y="225.15" width="8.05" height="8.05" fill="#f9f9fc"/>
<rect x="606.95" y="225.15" width="8.05" height="8.05" fill="#f9f9fc"/>
<rect x="522.35" y="232.2" width="8.05" height="8.05" fill="#f9f9fc"/>
<rect x="529.4" y="232.2" width="8.05" height="8.05" fill="#412a75"/>
<rect x="536.45" y="232.2" width="8.05" height="8.05" fill="#f9f9fc"/>
<rect x="529.4" y="239.25" width="8.05" height="8.05" fill="#f9f9fc"/>
<rect x="536.45" y="239.25" width="8.05" height="8.05" fill="#412a75"/>
<rect x="543.5" y="239.25" width="8.05" height="8.05" fill="#f9f9fc"/>
<rect x="536.45" y="246.3" width="8.05" height="8.05" fill="#f9f9fc"/>
<rect x="543.5" y="246.3" width="8.05" height="8.05" fill="#412a75"/>
<rect x="550.55" y="246.3" width="8.05" height="8.05" fill="#f9f9fc"/>
<rect x="543.5" y="253.35" width="8.05" height="8.05" fill="#f9f9fc"/>
<rect x="550.55" y="253.35" width="8.05" height="8.05" fill="#412a75"/>
<rect x="557.6" y="253.35" width="8.05" height="8.05" fill="#f9f9fc"/>
<rect x="550.55" y="260.4" width="8.05" height="8.05" fill="#f9f9fc"/>
<rect x="557.6" y="260.4" width="8.05" height="8.05" fill="#412a75"/>
<rect x="564.65" y="260.4" width="8.05" height="8.05" fill="#f9f9fc"/>
<rect x="557.6" y="267.45" width="8.05" height="8.05" fill="#f9f9fc"/>
<rect x="564.65" y="267.45" width="8.05" height="8.05" fill="#412a75"/>
<rect x="571.7" y="267.45" width="8.05" height="8.05" fill="#f9f9fc"/>
<rect x="564.65" y="274.5" width="8.05" height="8.05" fill="#f9f9fc"/>
<rect x="571.7" y="274.5" width="8.05" height="8.05" fill="#412a75"/>
<rect x="578.75" y="274.5" width="8.05" height="8.05" fill="#f9f9fc"/>
<rect x="571.7" y="281.55" width="8.05" height="8.05" fill="#f9f9fc"/>
<rect x="578.75" y="281.55" width="8.05" height="8.05" fill="#412a75"/>
<rect x="585.8" y="281.55" width="8.05" height="8.05" fill="#f9f9fc"/>
<rect x="578.75" y="288.6" width="8.05" height="8.05" fill="#f9f9fc"/>
<rect x="585.8" y="288.6" width="8.05" height="8.05" fill="#412a75"/>
<rect x="592.85" y="288.6" width="8.05" height="8.05" fill="#f9f9fc"/>
<rect x="585.8" y="295.65" width="8.05" height="8.05" fill="#f9f9fc"/>
<rect x="592.85" y="295.65" width="8.05" height="8.05" fill="#412a75"/>
<rect x="599.9" y="295.65" width="8.05" height="8.05" fill="#f9f9fc"/>
<rect x="360.2" y="302.7" width="8.05" height="8.05" fill="#f3f3f8"/>
<rect x="367.25" y="302.7" width="8.05" height="8.05" fill="#f3f3f8"/>
<rect x="374.3" y="302.7" width="8.05" height="8.05" fill="#f3f3f8"/>
<rect x="381.35" y="302.7" width="8.05" height="8.05" fill="#f3f3f8"/>
<rect x="388.4" y="302.7" width="8.05" height="8.05" fill="#f3f3f8"/>
<rect x="395.45" y="302.7" width="8.05" height="8.05" fill="#f3f3f8"/>
<rect x="402.5" y="302.7" width="8.05" height="8.05" fill="#f3f3f8"/>
<rect x="409.55" y="302.7" width="8.05" height="8.05" fill="#f3f3f8"/>
<rect x="416.6" y="302.7" width="8.05" height="8.05" fill="#f3f3f8"/>
<rect x="423.65" y="302.7" width="8.05" height="8.05" fill="#f3f3f8"/>
<rect x="430.7" y="302.7" width="8.05" height="8.05" fill="#f3f3f8"/>
<rect x="437.75" y="302.7" width="8.05" height="8.05" fill="#f5f5fa"/>
<rect x="444.8" y="302.7" width="8.05" height="8.05" fill="#f5f5fa"/>
<rect x="451.85" y="302.7" width="8.05" height="8.05" fill="#f5f5fa"/>
<rect x="458.9" y="302.7" width="8.05" height="8.05" fill="#f5f5fa"/>
<rect x="465.95" y="302.7" width="8.05" height="8.05" fill="#f5f5fa"/>
<rect x="473" y="302.7" width="8.05" height="8.05" fill="#f5f5fa"/>
<rect x="480.05" y="302.7" width="8.05" height="8.05" fill="#f5f5fa"/>
<rect x="487.1" y="302.7" width="8.05" height="8.05" fill="#f5f5fa"/>
<rect x="494.15" y="302.7" width="8.05" height="8.05" fill="#f5f5fa"/>
<rect x="501.2" y="302.7" width="8.05" height="8.05" fill="#f5f5fa"/>
<rect x="508.25" y="302.7" width="8.05" height="8.05" fill="#f5f5fa"/>
<rect x="515.3" y="302.7" width="8.05" height="8.05" fill="#f5f5fa"/>
<rect x="522.35" y="302.7" width="8.05" height="8.05" fill="#f9f9fc"/>
<rect x="592.85" y="302.7" width="8.05" height="8.05" fill="#f9f9fc"/>
<rect x="599.9" y="302.7" width="8.05" height="8.05" fill="#412a75"/>
<rect x="606.95" y="302.7" width="8.05" height="8.05" fill="#f9f9fc"/>
<rect x="360.2" y="309.75" width="8.05" height="8.05" fill="#f9f9fc"/>
<rect x="367.25" y="309.75" width="8.05" height="8.05" fill="#f9f9fc"/>
<rect x="374.3" y="309.75" width="8.05" height="8.05" fill="#f9f9fc"/>
<rect x="381.35" y="309.75" width="8.05" height="8.05" fill="#f9f9fc"/>
<rect x="388.4" y="309.75" width="8.05" height="8.05" fill="#f9f9fc"/>
<rect x="395.45" y="309.75" width="8.05" height="8.05" fill="#f9f9fc"/>
<rect x="402.5" y="309.75" width="8.05" height="8.05" fill="#f9f9fc"/>
<rect x="409.55" y="309.75" width="8.05" height="8.05" fill="#f9f9fc"/>
<rect x="416.6" y="309.75" width="8.05" height="8.05" fill="#f9f9fc"/>
<rect x="423.65" y="309.75" width="8.05" height="8.05" fill="#f9f9fc"/>
<rect x="430.7" y="309.75" width="8.05" height="8.05" fill="#f9f9fc"/>
<rect x="437.75" y="309.75" width="8.05" height="8.05" fill="#f9f9fc"/>
<rect x="444.8" y="309.75" width="8.05" height="8.05" fill="#f9f9fc"/>
<rect x="451.85" y="309.75" width="8.05" height="8.05" fill="#f9f9fc"/>
<rect x="458.9" y="309.75" width="8.05" height="8.05" fill="#f9f9fc"/>
<rect x="465.95" y="309.75" width="8.05" height="8.05" fill="#f9f9fc"/>
<rect x="473" y="309.75" width="8.05" height="8.05" fill="#f9f9fc"/>
<rect x="480.05" y="309.75" width="8.05" height="8.05" fill="#f9f9fc"/>
<rect x="487.1" y="309.75" width="8.05" height="8.05" fill="#f9f9fc"/>
<rect x="494.15" y="309.75" width="8.05" height="8.05" fill="#f9f9fc"/>
<rect x="501.2" y="309.75" width="8.05" height="8.05" fill="#f9f9fc"/>
<rect x="508.25" y="309.75" width="8.05" height="8.05" fill="#f9f9fc"/>
<rect x="515.3" y="309.75" width="8.05" height="8.05" fill="#f9f9fc"/>
<rect x="522.35" y="309.75" width="8.05" height="8.05" fill="#f9f9fc"/>
<rect x="599.9" y="309.75" width="8.05" height="8.05" fill="#f9f9fc"/>
<rect x="606.95" y="309.75" width="8.05" height="8.05" fill="#412a75"/>
<rect x="614" y="309.75" width="8.05" height="8.05" fill="#f9f9fc"/>
<rect x="606.95" y="316.8" width="8.05" height="8.05" fill="#f9f9fc"/>
<rect x="614" y="316.8" width="8.05" height="8.05" fill="#412a75"/>
<rect x="621.05" y="316.8" width="7.05" height="8.05" fill="#f9f9fc"/>
<rect x="614" y="323.85" width="8.05" height="7.05" fill="#f9f9fc"/>
<rect x="621.05" y="323.85" width="7.05" height="7.05" fill="#412a75"/>
<rect x="346.1" y="24.1" width="91.65" height="4.8" fill="#4a669f"/>
<rect x="321.2" y="48.9" width="4.7" height="91.65" fill="#4a669f"/>
<rect x="437.75" y="24.1" width="42.3" height="4.8" fill="#c03b3f"/>
<rect x="321.2" y="140.55" width="4.7" height="42.3" fill="#c03b3f"/>
<rect x="480.05" y="24.1" width="7.05" height="4.8" fill="#4a669f"/>
<rect x="321.2" y="182.85" width="4.7" height="7.05" fill="#4a669f"/>
<rect x="487.1" y="24.1" width="7.05" height="4.8" fill="#939598"/>
<rect x="321.2" y="189.9" width="4.7" height="7.05" fill="#939598"/>
<rect x="494.15" y="24.1" width="14.1" height="4.8" fill="#4a669f"/>
<rect x="321.2" y="196.95" width="4.7" height="14.1" fill="#4a669f"/>
<rect x="508.25" y="24.1" width="14.1" height="4.8" fill="#c777b9"/>
<rect x="321.2" y="211.05" width="4.7" height="14.1" fill="#c777b9"/>
<rect x="522.35" y="24.1" width="35.25" height="4.8" fill="#c03b3f"/>
<rect x="321.2" y="225.15" width="4.7" height="35.25" fill="#c03b3f"/>
<rect x="557.6" y="24.1" width="7.05" height="4.8" fill="#c777b9"/>
<rect x="321.2" y="260.4" width="4.7" height="7.05" fill="#c777b9"/>
<rect x="564.65" y="24.1" width="28.2" height="4.8" fill="#c03b3f"/>
<rect x="321.2" y="267.45" width="4.7" height="28.2" fill="#c03b3f"/>
<rect x="592.85" y="24.1" width="7.05" height="4.8" fill="#c777b9"/>
<rect x="321.2" y="295.65" width="4.7" height="7.05" fill="#c777b9"/>
<rect x="599.9" y="24.1" width="7.05" height="4.8" fill="#939598"/>
<rect x="321.2" y="302.7" width="4.7" height="7.05" fill="#939598"/>
<rect x="606.95" y="24.1" width="7.05" height="4.8" fill="#c777b9"/>
<rect x="321.2" y="309.75" width="4.7" height="7.05" fill="#c777b9"/>
<rect x="614" y="24.1" width="7.05" height="4.8" fill="#c03b3f"/>
<rect x="321.2" y="316.8" width="4.7" height="7.05" fill="#c03b3f"/>
<rect x="621.05" y="24.1" width="7.05" height="4.8" fill="#939598"/>
<rect x="321.2" y="323.85" width="4.7" height="7.05" fill="#939598"/>
<text x="629.9" y="28.4" font-size="7.8" fill="#231f20" stroke="#231f20" stroke-width="0.08">Tissue</text>
<text transform="translate(326.0,355.8) rotate(-90)" font-size="7.8" fill="#231f20" stroke="#231f20" stroke-width="0.08">Tissue</text>
<text transform="translate(351.43,45.3) rotate(-90)" font-size="8.2" fill="#1f1c1d" stroke="#1f1c1d" stroke-width="0.06">S0</text>
<text x="342.9" y="54.82" font-size="8.3" text-anchor="end" fill="#1f1c1d" stroke="#1f1c1d" stroke-width="0.06">S0</text>
<text transform="translate(358.48,45.3) rotate(-90)" font-size="8.2" fill="#1f1c1d" stroke="#1f1c1d" stroke-width="0.06">S1</text>
<text x="342.9" y="61.87" font-size="8.3" text-anchor="end" fill="#1f1c1d" stroke="#1f1c1d" stroke-width="0.06">S1</text>
<text transform="translate(365.53,45.3) rotate(-90)" font-size="8.2" fill="#1f1c1d" stroke="#1f1c1d" stroke-width="0.06">S2</text>
<text x="342.9" y="68.93" font-size="8.3" text-anchor="end" fill="#1f1c1d" stroke="#1f1c1d" stroke-width="0.06">S2</text>
<text transform="translate(372.58,45.3) rotate(-90)" font-size="8.2" fill="#1f1c1d" stroke="#1f1c1d" stroke-width="0.06">S7</text>
<text x="342.9" y="75.98" font-size="8.3" text-anchor="end" fill="#1f1c1d" stroke="#1f1c1d" stroke-width="0.06">S7</text>
<text transform="translate(379.63,45.3) rotate(-90)" font-size="8.2" fill="#1f1c1d" stroke="#1f1c1d" stroke-width="0.06">S4</text>
<text x="342.9" y="83.03" font-size="8.3" text-anchor="end" fill="#1f1c1d" stroke="#1f1c1d" stroke-width="0.06">S4</text>
<text transform="translate(386.68,45.3) rotate(-90)" font-size="8.2" fill="#1f1c1d" stroke="#1f1c1d" stroke-width="0.06">S10</text>
<text x="342.9" y="90.08" font-size="8.3" text-anchor="end" fill="#1f1c1d" stroke="#1f1c1d" stroke-width="0.06">S10</text>
<text transform="translate(393.73,45.3) rotate(-90)" font-size="8.2" fill="#1f1c1d" stroke="#1f1c1d" stroke-width="0.06">S11</text>
<text x="342.9" y="97.12" font-size="8.3" text-anchor="end" fill="#1f1c1d" stroke="#1f1c1d" stroke-width="0.06">S11</text>
<text transform="translate(400.78,45.3) rotate(-90)" font-size="8.2" fill="#1f1c1d" stroke="#1f1c1d" stroke-width="0.06">S3</text>
<text x="342.9" y="104.18" font-size="8.3" text-anchor="end" fill="#1f1c1d" stroke="#1f1c1d" stroke-width="0.06">S3</text>
<text transform="translate(407.83,45.3) rotate(-90)" font-size="8.2" fill="#1f1c1d" stroke="#1f1c1d" stroke-width="0.06">S5</text>
<text x="342.9" y="111.22" font-size="8.3" text-anchor="end" fill="#1f1c1d" stroke="#1f1c1d" stroke-width="0.06">S5</text>
<text transform="translate(414.88,45.3) rotate(-90)" font-size="8.2" fill="#1f1c1d" stroke="#1f1c1d" stroke-width="0.06">S12</text>
<text x="342.9" y="118.28" font-size="8.3" text-anchor="end" fill="#1f1c1d" stroke="#1f1c1d" stroke-width="0.06">S12</text>
<text transform="translate(421.93,45.3) rotate(-90)" font-size="8.2" fill="#1f1c1d" stroke="#1f1c1d" stroke-width="0.06">S9</text>
<text x="342.9" y="125.32" font-size="8.3" text-anchor="end" fill="#1f1c1d" stroke="#1f1c1d" stroke-width="0.06">S9</text>
<text transform="translate(428.98,45.3) rotate(-90)" font-size="8.2" fill="#1f1c1d" stroke="#1f1c1d" stroke-width="0.06">S6</text>
<text x="342.9" y="132.38" font-size="8.3" text-anchor="end" fill="#1f1c1d" stroke="#1f1c1d" stroke-width="0.06">S6</text>
<text transform="translate(436.03,45.3) rotate(-90)" font-size="8.2" fill="#1f1c1d" stroke="#1f1c1d" stroke-width="0.06">S8</text>
<text x="342.9" y="139.43" font-size="8.3" text-anchor="end" fill="#1f1c1d" stroke="#1f1c1d" stroke-width="0.06">S8</text>
<text transform="translate(443.08,45.3) rotate(-90)" font-size="8.2" fill="#1f1c1d" stroke="#1f1c1d" stroke-width="0.06">R14</text>
<text x="342.9" y="146.47" font-size="8.3" text-anchor="end" fill="#1f1c1d" stroke="#1f1c1d" stroke-width="0.06">R14</text>
<text transform="translate(450.13,45.3) rotate(-90)" font-size="8.2" fill="#1f1c1d" stroke="#1f1c1d" stroke-width="0.06">R7</text>
<text x="342.9" y="153.53" font-size="8.3" text-anchor="end" fill="#1f1c1d" stroke="#1f1c1d" stroke-width="0.06">R7</text>
<text transform="translate(457.18,45.3) rotate(-90)" font-size="8.2" fill="#1f1c1d" stroke="#1f1c1d" stroke-width="0.06">R11</text>
<text x="342.9" y="160.57" font-size="8.3" text-anchor="end" fill="#1f1c1d" stroke="#1f1c1d" stroke-width="0.06">R11</text>
<text transform="translate(464.23,45.3) rotate(-90)" font-size="8.2" fill="#1f1c1d" stroke="#1f1c1d" stroke-width="0.06">R2</text>
<text x="342.9" y="167.62" font-size="8.3" text-anchor="end" fill="#1f1c1d" stroke="#1f1c1d" stroke-width="0.06">R2</text>
<text transform="translate(471.28,45.3) rotate(-90)" font-size="8.2" fill="#1f1c1d" stroke="#1f1c1d" stroke-width="0.06">R0</text>
<text x="342.9" y="174.68" font-size="8.3" text-anchor="end" fill="#1f1c1d" stroke="#1f1c1d" stroke-width="0.06">R0</text>
<text transform="translate(478.32,45.3) rotate(-90)" font-size="8.2" fill="#1f1c1d" stroke="#1f1c1d" stroke-width="0.06">R1</text>
<text x="342.9" y="181.72" font-size="8.3" text-anchor="end" fill="#1f1c1d" stroke="#1f1c1d" stroke-width="0.06">R1</text>
<text transform="translate(485.38,45.3) rotate(-90)" font-size="8.2" fill="#1f1c1d" stroke="#1f1c1d" stroke-width="0.06">S15</text>
<text x="342.9" y="188.78" font-size="8.3" text-anchor="end" fill="#1f1c1d" stroke="#1f1c1d" stroke-width="0.06">S15</text>
<text transform="translate(492.43,45.3) rotate(-90)" font-size="8.2" fill="#1f1c1d" stroke="#1f1c1d" stroke-width="0.06">U0</text>
<text x="342.9" y="195.83" font-size="8.3" text-anchor="end" fill="#1f1c1d" stroke="#1f1c1d" stroke-width="0.06">U0</text>
<text transform="translate(499.48,45.3) rotate(-90)" font-size="8.2" fill="#1f1c1d" stroke="#1f1c1d" stroke-width="0.06">S13</text>
<text x="342.9" y="202.88" font-size="8.3" text-anchor="end" fill="#1f1c1d" stroke="#1f1c1d" stroke-width="0.06">S13</text>
<text transform="translate(506.53,45.3) rotate(-90)" font-size="8.2" fill="#1f1c1d" stroke="#1f1c1d" stroke-width="0.06">S14</text>
<text x="342.9" y="209.93" font-size="8.3" text-anchor="end" fill="#1f1c1d" stroke="#1f1c1d" stroke-width="0.06">S14</text>
<text transform="translate(513.57,45.3) rotate(-90)" font-size="8.2" fill="#1f1c1d" stroke="#1f1c1d" stroke-width="0.06">V3</text>
<text x="342.9" y="216.97" font-size="8.3" text-anchor="end" fill="#1f1c1d" stroke="#1f1c1d" stroke-width="0.06">V3</text>
<text transform="translate(520.62,45.3) rotate(-90)" font-size="8.2" fill="#1f1c1d" stroke="#1f1c1d" stroke-width="0.06">V4</text>
<text x="342.9" y="224.03" font-size="8.3" text-anchor="end" fill="#1f1c1d" stroke="#1f1c1d" stroke-width="0.06">V4</text>
<text transform="translate(527.67,45.3) rotate(-90)" font-size="8.2" fill="#1f1c1d" stroke="#1f1c1d" stroke-width="0.06">R6</text>
<text x="342.9" y="231.08" font-size="8.3" text-anchor="end" fill="#1f1c1d" stroke="#1f1c1d" stroke-width="0.06">R6</text>
<text transform="translate(534.72,45.3) rotate(-90)" font-size="8.2" fill="#1f1c1d" stroke="#1f1c1d" stroke-width="0.06">R4</text>
<text x="342.9" y="238.12" font-size="8.3" text-anchor="end" fill="#1f1c1d" stroke="#1f1c1d" stroke-width="0.06">R4</text>
<text transform="translate(541.77,45.3) rotate(-90)" font-size="8.2" fill="#1f1c1d" stroke="#1f1c1d" stroke-width="0.06">R10</text>
<text x="342.9" y="245.18" font-size="8.3" text-anchor="end" fill="#1f1c1d" stroke="#1f1c1d" stroke-width="0.06">R10</text>
<text transform="translate(548.82,45.3) rotate(-90)" font-size="8.2" fill="#1f1c1d" stroke="#1f1c1d" stroke-width="0.06">R5</text>
<text x="342.9" y="252.22" font-size="8.3" text-anchor="end" fill="#1f1c1d" stroke="#1f1c1d" stroke-width="0.06">R5</text>
<text transform="translate(555.88,45.3) rotate(-90)" font-size="8.2" fill="#1f1c1d" stroke="#1f1c1d" stroke-width="0.06">R3</text>
<text x="342.9" y="259.27" font-size="8.3" text-anchor="end" fill="#1f1c1d" stroke="#1f1c1d" stroke-width="0.06">R3</text>
<text transform="translate(562.92,45.3) rotate(-90)" font-size="8.2" fill="#1f1c1d" stroke="#1f1c1d" stroke-width="0.06">V2</text>
<text x="342.9" y="266.32" font-size="8.3" text-anchor="end" fill="#1f1c1d" stroke="#1f1c1d" stroke-width="0.06">V2</text>
<text transform="translate(569.97,45.3) rotate(-90)" font-size="8.2" fill="#1f1c1d" stroke="#1f1c1d" stroke-width="0.06">R9</text>
<text x="342.9" y="273.37" font-size="8.3" text-anchor="end" fill="#1f1c1d" stroke="#1f1c1d" stroke-width="0.06">R9</text>
<text transform="translate(577.02,45.3) rotate(-90)" font-size="8.2" fill="#1f1c1d" stroke="#1f1c1d" stroke-width="0.06">R15</text>
<text x="342.9" y="280.42" font-size="8.3" text-anchor="end" fill="#1f1c1d" stroke="#1f1c1d" stroke-width="0.06">R15</text>
<text transform="translate(584.07,45.3) rotate(-90)" font-size="8.2" fill="#1f1c1d" stroke="#1f1c1d" stroke-width="0.06">R8</text>
<text x="342.9" y="287.47" font-size="8.3" text-anchor="end" fill="#1f1c1d" stroke="#1f1c1d" stroke-width="0.06">R8</text>
<text transform="translate(591.12,45.3) rotate(-90)" font-size="8.2" fill="#1f1c1d" stroke="#1f1c1d" stroke-width="0.06">R12</text>
<text x="342.9" y="294.52" font-size="8.3" text-anchor="end" fill="#1f1c1d" stroke="#1f1c1d" stroke-width="0.06">R12</text>
<text transform="translate(598.17,45.3) rotate(-90)" font-size="8.2" fill="#1f1c1d" stroke="#1f1c1d" stroke-width="0.06">V0</text>
<text x="342.9" y="301.57" font-size="8.3" text-anchor="end" fill="#1f1c1d" stroke="#1f1c1d" stroke-width="0.06">V0</text>
<text transform="translate(605.22,45.3) rotate(-90)" font-size="8.2" fill="#1f1c1d" stroke="#1f1c1d" stroke-width="0.06">U1</text>
<text x="342.9" y="308.62" font-size="8.3" text-anchor="end" fill="#1f1c1d" stroke="#1f1c1d" stroke-width="0.06">U1</text>
<text transform="translate(612.27,45.3) rotate(-90)" font-size="8.2" fill="#1f1c1d" stroke="#1f1c1d" stroke-width="0.06">V1</text>
<text x="342.9" y="315.67" font-size="8.3" text-anchor="end" fill="#1f1c1d" stroke="#1f1c1d" stroke-width="0.06">V1</text>
<text transform="translate(619.33,45.3) rotate(-90)" font-size="8.2" fill="#1f1c1d" stroke="#1f1c1d" stroke-width="0.06">R13</text>
<text x="342.9" y="322.72" font-size="8.3" text-anchor="end" fill="#1f1c1d" stroke="#1f1c1d" stroke-width="0.06">R13</text>
<text transform="translate(626.38,45.3) rotate(-90)" font-size="8.2" fill="#1f1c1d" stroke="#1f1c1d" stroke-width="0.06">U2</text>
<text x="342.9" y="329.77" font-size="8.3" text-anchor="end" fill="#1f1c1d" stroke="#1f1c1d" stroke-width="0.06">U2</text>
<g stroke="#5a5a5a" stroke-width="0.75" fill="none">
<path d="M349.62 24.1L349.62 20.4M356.68 24.1L356.68 20.4M349.62 20.4L356.68 20.4M363.73 24.1L363.73 20.4M370.78 24.1L370.78 20.4M363.73 20.4L370.78 20.4M353.15 20.4L353.15 16.4M367.25 20.4L367.25 16.4M353.15 16.4L367.25 16.4M384.88 24.1L384.88 18.4M391.93 24.1L391.93 18.4M384.88 18.4L391.93 18.4M398.98 24.1L398.98 17.6M406.03 24.1L406.03 17.6M398.98 17.6L406.03 17.6M388.4 18.4L388.4 15.3M402.5 17.6L402.5 15.3M388.4 15.3L402.5 15.3M377.83 24.1L377.83 12.8M395.45 15.3L395.45 12.8M377.83 12.8L395.45 12.8M427.18 24.1L427.18 18.4M434.23 24.1L434.23 18.4M427.18 18.4L434.23 18.4M420.12 24.1L420.12 15.3M430.7 18.4L430.7 15.3M420.12 15.3L430.7 15.3M413.08 24.1L413.08 13.1M425.41 15.3L425.41 13.1M413.08 13.1L425.41 13.1M386.64 12.8L386.64 12.6M419.24 13.1L419.24 12.6M386.64 12.6L419.24 12.6M360.2 16.4L360.2 9.4M402.94 12.6L402.94 9.4M360.2 9.4L402.94 9.4M469.48 24.1L469.48 12M476.52 24.1L476.52 12M469.48 12L476.52 12M462.43 24.1L462.43 11.2M473 12L473 11.2M462.43 11.2L473 11.2M448.33 24.1L448.33 10.3M455.38 24.1L455.38 10.3M467.71 11.2L467.71 10.3M448.33 10.3L467.71 10.3M441.28 24.1L441.28 9.6M458.02 10.3L458.02 9.6M441.28 9.6L458.02 9.6M497.68 24.1L497.68 10.8M504.73 24.1L504.73 10.8M497.68 10.8L504.73 10.8M511.77 24.1L511.77 11M518.83 24.1L518.83 11M511.77 11L518.83 11M483.58 24.1L483.58 10M490.62 24.1L490.62 10M501.2 10.8L501.2 10M515.3 11L515.3 10M483.58 10L515.3 10M449.65 9.6L449.65 9.4M499.44 10L499.44 9.4M449.65 9.4L499.44 9.4M525.88 24.1L525.88 7.9M532.92 24.1L532.92 7.9M539.98 24.1L539.98 7.9M547.02 24.1L547.02 7.9M554.08 24.1L554.08 7.9M561.12 24.1L561.12 7.9M568.17 24.1L568.17 7.9M575.23 24.1L575.23 7.9M582.27 24.1L582.27 7.9M589.33 24.1L589.33 7.9M596.38 24.1L596.38 7.9M603.42 24.1L603.42 7.9M610.48 24.1L610.48 7.9M617.53 24.1L617.53 7.9M624.58 24.1L624.58 7.9M525.88 7.9L624.58 7.9M469.2 9.4L469.2 6.4M542.2 7.9L542.2 6.4M469.2 6.4L542.2 6.4M381.57 9.4L381.57 1.84M505.7 6.4L505.7 1.84M381.57 1.84L505.7 1.84"/>
<path d="M321.2 52.42L305.5 52.42M321.2 59.47L305.5 59.47M305.5 52.42L305.5 59.47M305.5 55.95L305.46 55.95M321.2 66.53L305.46 66.53M305.46 55.95L305.46 66.53M305.46 61.24L305.42 61.24M321.2 73.58L305.42 73.58M305.42 61.24L305.42 73.58M305.42 67.41L305.38 67.41M321.2 80.62L305.38 80.62M305.38 67.41L305.38 80.62M305.38 74.02L305.35 74.02M321.2 87.67L305.35 87.67M305.35 74.02L305.35 87.67M305.35 80.85L305.31 80.85M321.2 94.72L305.31 94.72M305.31 80.85L305.31 94.72M305.31 87.79L305.27 87.79M321.2 101.78L305.27 101.78M305.27 87.79L305.27 101.78M305.27 94.78L305.23 94.78M321.2 108.82L305.23 108.82M305.23 94.78L305.23 108.82M305.23 101.8L305.19 101.8M321.2 115.88L305.19 115.88M305.19 101.8L305.19 115.88M305.19 108.84L305.15 108.84M321.2 122.92L305.15 122.92M305.15 108.84L305.15 122.92M305.15 115.88L305.12 115.88M321.2 129.97L305.12 129.97M305.12 115.88L305.12 129.97M305.12 122.93L305.08 122.93M321.2 137.03L305.08 137.03M305.08 122.93L305.08 137.03M305.08 129.98L305.04 129.98M321.2 144.07L305.04 144.07M305.04 129.98L305.04 144.07M305.04 137.03L305 137.03M321.2 151.12L305 151.12M305 137.03L305 151.12M321.2 158.17L307.7 158.17M321.2 165.22L307.7 165.22M321.2 172.28L307.7 172.28M321.2 179.32L307.7 179.32M307.7 158.17L307.7 179.32M321.2 186.38L305.8 186.38M321.2 193.43L305.8 193.43M305.8 186.38L305.8 193.43M321.2 200.47L307.5 200.47M321.2 207.53L307.5 207.53M321.2 214.57L307.5 214.57M321.2 221.62L307.5 221.62M321.2 228.68L307.5 228.68M321.2 235.72L307.5 235.72M307.5 200.47L307.5 235.72M305.8 189.9L306 189.9M307.5 218.1L306 218.1M306 189.9L306 218.1M307.7 168.75L305.4 168.75M306 204L305.4 204M305.4 168.75L305.4 204M305 144.08L303.7 144.08M305.4 208.4L303.7 208.4M303.7 144.08L303.7 208.4M321.2 249.82L314.4 249.82M321.2 256.88L314.4 256.88M314.4 249.82L314.4 256.88M321.2 242.78L311.5 242.78M314.4 253.35L311.5 253.35M311.5 242.78L311.5 253.35M311.5 248.06L310.5 248.06M321.2 263.93L310.5 263.93M310.5 248.06L310.5 263.93M321.2 270.97L313.4 270.97M321.2 278.02L313.4 278.02M313.4 270.97L313.4 278.02M321.2 285.07L314.4 285.07M321.2 292.12L314.4 292.12M314.4 285.07L314.4 292.12M313.4 274.5L311.1 274.5M314.4 288.6L311.1 288.6M311.1 274.5L311.1 288.6M310.5 255.99L309.5 255.99M311.1 281.55L309.5 281.55M321.2 299.18L309.5 299.18M309.5 255.99L309.5 299.18M321.2 306.22L315.4 306.22M321.2 313.27L315.4 313.27M315.4 306.22L315.4 313.27M321.2 320.32L317.3 320.32M321.2 327.37L317.3 327.37M317.3 320.32L317.3 327.37M315.4 309.75L312.4 309.75M317.3 323.85L312.4 323.85M312.4 309.75L312.4 323.85M309.5 277.58L305.6 277.58M312.4 316.8L305.6 316.8M305.6 277.58L305.6 316.8M303.7 176.1L298.7 176.1M305.6 295.2L298.7 295.2M298.7 176.1L298.7 295.2"/>
</g>
<text x="641.2" y="132.9" font-size="8" font-weight="bold" fill="#231f20" stroke="#231f20" stroke-width="0.08">S-MOD</text>
<defs><linearGradient id="cb" x1="0" y1="0" x2="0" y2="1"><stop offset="0" stop-color="#3f2379"/><stop offset="0.12" stop-color="#4f2b8b"/><stop offset="0.33" stop-color="#7571b1"/><stop offset="0.5" stop-color="#9a97c7"/><stop offset="0.66" stop-color="#c4c3df"/><stop offset="0.83" stop-color="#e3e2f0"/><stop offset="1" stop-color="#f9f8fc"/></linearGradient></defs>
<rect x="641.4" y="136.1" width="13" height="64.9" fill="url(#cb)"/>
<line x1="641.4" y1="157.7" x2="644.6" y2="157.7" stroke="#fff" stroke-width="0.8"/>
<line x1="651.2" y1="157.7" x2="654.4" y2="157.7" stroke="#fff" stroke-width="0.8"/>
<line x1="641.4" y1="179.3" x2="644.6" y2="179.3" stroke="#fff" stroke-width="0.8"/>
<line x1="651.2" y1="179.3" x2="654.4" y2="179.3" stroke="#fff" stroke-width="0.8"/>
<text x="657.4" y="159.9" font-size="8" fill="#231f20" stroke="#231f20" stroke-width="0.08">200</text>
<text x="657.4" y="181.3" font-size="8" fill="#231f20" stroke="#231f20" stroke-width="0.08">100</text>
<text x="641.0" y="212.9" font-size="8.3" font-weight="bold" fill="#231f20" stroke="#231f20" stroke-width="0.08">Tissue</text>
<rect x="641.0" y="216.1" width="6.9" height="7.0" fill="#c03b3f"/>
<text x="651.3" y="222.4" font-size="8.1" fill="#231f20" stroke="#231f20" stroke-width="0.08">Root</text>
<rect x="641.0" y="225.85" width="6.9" height="7.0" fill="#4a669f"/>
<text x="651.3" y="232.15" font-size="8.1" fill="#231f20" stroke="#231f20" stroke-width="0.08">Shoot</text>
<rect x="641.0" y="235.6" width="6.9" height="7.0" fill="#c777b9"/>
<text x="651.3" y="241.9" font-size="8.1" fill="#231f20" stroke="#231f20" stroke-width="0.08">Stele</text>
<rect x="641.0" y="245.35" width="6.9" height="7.0" fill="#939598"/>
<text x="651.3" y="251.65" font-size="8.1" fill="#231f20" stroke="#231f20" stroke-width="0.08">Unknown</text>
<path d="M145 463.9h0M187 432.7h0M145.1 451.8h0M127.3 481.8h0M111.3 495h0M146.1 453.6h0M193.8 413.7h0M90.3 506.9h0M172.5 431h0M144.2 470.9h0M136.8 463.4h0M184.4 427.9h0M161.5 452.4h0M148.5 451.2h0M192.8 419.1h0M180.9 419.3h0M168 436.7h0M141.3 459.9h0M136 472.4h0M165.2 445.7h0M172.6 434.5h0M153.5 454h0M137.1 477h0M177.9 427.5h0M180.1 427.1h0M113.7 497.3h0M106.6 495.3h0M161.8 445.5h0M157.5 448.4h0M107.3 491.1h0M202.8 404.1h0M176.1 434.6h0M161 448h0M207.1 401.5h0M90.8 511.8h0M189.8 414.1h0M171.6 438.4h0M118.3 488.2h0M187.1 423.8h0M180.3 430.5h0M136.1 469.2h0M171.5 435.1h0M176.4 439.6h0M126.2 482.9h0M147.3 466.7h0M131.3 472.4h0M92 508.2h0M132.5 471.9h0M138.5 470h0M182.1 430.2h0M133.8 470.7h0M185 428.6h0M179.5 431.7h0M151.3 455.2h0M166.4 448.5h0M95.4 505.3h0M173.8 449.1h0M179.5 433.1h0M148.2 454.5h0M135.9 469.8h0M196.9 411.9h0M131.4 475.1h0M197.3 410.6h0M122.2 480.6h0M181.7 426.3h0M189.1 424.1h0M203 415.9h0M113.3 490.2h0M116.1 480.1h0M93 513.2h0M142.5 460.6h0M164.6 441.7h0M169.6 430.2h0M150.3 455.4h0M158.4 450.2h0M181.2 422.3h0M129.1 476.5h0M175.5 439.2h0M132.8 471.2h0M188.1 422.2h0M205 410.9h0M179.5 438.8h0M169 440.5h0M161.9 451.4h0M198.2 414.1h0M186.5 433.1h0M167.1 441.3h0M123.3 486.3h0M143.2 470h0M170.3 438.7h0M205.9 419.5h0M158.1 442.4h0M182.8 441.2h0M141.2 461.7h0M153 461h0M191.5 417.6h0M167.8 436.4h0M167.4 440.7h0M200.2 407.4h0M147.2 466.5h0M153.4 459.9h0M135.4 466.1h0M120.9 479.3h0M92.1 508.8h0M151.3 452.9h0M183.1 421.4h0M158 462.4h0M125 474.2h0M183.4 430h0M209.1 409.8h0M158.7 454.1h0M115.1 485.7h0M175.6 430.3h0M185.6 436.9h0M187.4 436.1h0M186.9 409.3h0M173 432.9h0M197.2 417h0M127.4 480.6h0M107.4 495.6h0M132.5 477h0M211.2 408.6h0M154 459h0M185.9 429h0M167.3 448.7h0M208.1 401.5h0M156.3 446.7h0M191 420.7h0M146.4 453.9h0M165.5 440.5h0M137.8 471.3h0M171.5 442.5h0M184.6 416.9h0M182.4 424.6h0M155.9 445.5h0M198.2 408h0M190 422.4h0M143.1 464.1h0M126.9 473.1h0M183.5 429h0M125.2 480.6h0M149.9 462.7h0M137.9 465.9h0M89.6 510.2h0M200 413.4h0M126.6 476.9h0M188 429.9h0M191.6 423.9h0M203.2 410.5h0M94 506.6h0M181.8 433h0M172 429.8h0M171.6 436.5h0M170.6 440.9h0M172 434.2h0M169 446.8h0M124.4 483.8h0M154.1 455.6h0M192.2 421.4h0M103.6 509h0M190.1 426.8h0M161.3 444.9h0M127.9 473.2h0M206.4 401.5h0M169.7 437.2h0M168 434.8h0M150.6 455.4h0M170.3 440.5h0M172.7 439.9h0M144.7 466.3h0M189 414.3h0M165.1 438.1h0M187.6 423.5h0M132.4 473.5h0M174.9 436.7h0M200.8 416.2h0M187.7 429.5h0M150.9 449.7h0M151.6 455.8h0M167.6 437.1h0M133.3 470.7h0M118.4 482.6h0M179.3 431.4h0M178.5 444.9h0M153.6 452.8h0M133.7 467.7h0M129.7 472.4h0M126.3 470.7h0M165.1 446.6h0M194.9 415.2h0M167.5 440.3h0M171.1 437.2h0M181 429.9h0M178.1 438.5h0M136.9 472.3h0M161.8 455.6h0M122.3 479h0M205.5 401.5h0M102.3 498.9h0M186.8 422.1h0M95.8 503.5h0M205 414.9h0M178.3 439.5h0M122.8 478.1h0M168.6 438.3h0M170.6 436.9h0M113.1 488.7h0M145.2 468.9h0M143.5 462.3h0M119.5 490.7h0M165.6 441.1h0M125.8 470.9h0M174.2 448.2h0M200.7 410.1h0M187.4 419.4h0M127 474h0M184.3 426.1h0M148.1 466.3h0M177.8 433.7h0M117.1 494.8h0M145.4 460.1h0M187.6 424.1h0M196.6 416h0M125.4 482.6h0M169 443h0M126.6 481.9h0M123.9 478.4h0M172.2 434.1h0M125.8 483.5h0M143.2 463.9h0M158.2 451.8h0M100.3 500.7h0M198.1 409.9h0M148.6 454.4h0M167.7 449.1h0M152.7 458.8h0M151 469.7h0M192.8 423h0M124.8 479.5h0M146.1 457.2h0M126.5 473.5h0M126.3 479.6h0M182.8 422.4h0M155.8 446.2h0M182.5 427.2h0M192.9 423h0M96.4 510.9h0M173.2 435.9h0M179.4 431.8h0M210.7 401.5h0M197.5 419.7h0M210.6 401.5h0M151.2 462.1h0M181.9 434.2h0M161 446.8h0M128 471.6h0M203.6 411.1h0M165.1 443.3h0M210.8 402.9h0M172.9 446.5h0M168.4 444.1h0M199.7 404.8h0M197.6 414.9h0M183.1 429.3h0M151.1 450.9h0M172.6 437.8h0M200.4 418.6h0M185.4 423.4h0M191.2 423.3h0M162.3 442.7h0M153.3 449.1h0M94.7 501.8h0M125.7 475.2h0M172.1 432.1h0M124.9 474.6h0M145.7 449.4h0M171 438.3h0M116.6 488.6h0M125.2 481.8h0M176 432.8h0M178.3 442.5h0M194 417.1h0M201.6 415.1h0M206 405h0M170.9 428.6h0M194 418.6h0M155 445h0M205.1 404.9h0M112.8 494.4h0M165.3 438.5h0M104.5 504.5h0M176.6 431.1h0M161.9 447.4h0M97.3 509.6h0M93.8 504.4h0M116.4 494.4h0M182 434.1h0M177.1 442.9h0M168.7 434.7h0M192.8 421.4h0M164.6 444.4h0M174.1 438.2h0M133.8 465.3h0M158 458h0M185.3 421.2h0M146.6 457.6h0M184.7 430.2h0M145.2 463.1h0M178.3 428.4h0M113.9 488.2h0M155.1 456.7h0M159.1 449.5h0M149.5 464h0M181.5 427.3h0M130.1 477.9h0M187.2 427.3h0M172.6 432h0M189.4 425.9h0M93.5 505.7h0M196 413h0M157.5 457.5h0M206 406.1h0M124.8 478.9h0M161.5 446.6h0M185.2 431.6h0M195.2 410.1h0M181 426.8h0M93.6 498.9h0M160.7 446.9h0M179.2 427.7h0M132.7 481.7h0M171.5 440h0M136.1 465.7h0M142.9 459.5h0M123 475.3h0M156 451.2h0M189.8 424.9h0M209.7 401.5h0M196.4 417.2h0M181.4 424.3h0M167.5 436.4h0M140.5 460h0M144.4 464.2h0M97.2 502.5h0M183.6 417.9h0M186.4 420.5h0M95.9 503.2h0M130.8 468.7h0M195.9 414.2h0M187.3 420.8h0M177.4 439.5h0M101.6 502.7h0M132.4 470.6h0M170.4 432.4h0M138.1 471h0M203.1 401.5h0M93.9 511.8h0M187.9 417.9h0M123.4 481.8h0M173.3 445.6h0M199.5 401.5h0M167.6 434.4h0M168.5 436.6h0M106.9 501.7h0M197.6 424.6h0M145.3 462.8h0M159.9 445.6h0M191.2 418.8h0M134.4 467.3h0M185 426.2h0M197.1 422.8h0M185.1 420.3h0M182.1 427.7h0M187.3 429.1h0M167 447.1h0M156.3 452.2h0M106.4 489.5h0M192.1 427.5h0M140 469.7h0M190.4 415h0M162.7 443.7h0M134.7 473.8h0M185.7 428h0M198.6 407.5h0M167 440.2h0M176.5 434h0M176.2 422.9h0M149 463.5h0M113.6 485.5h0M155 449.4h0M137.9 469.5h0M175.5 434h0M195 417.3h0M167.2 447.7h0M150.7 455.9h0M205.4 406.1h0M175.1 439.5h0M210.6 401.5h0M108.4 491.5h0M202.4 409.4h0M184.7 425.4h0M191 425.4h0M186.9 428.3h0M131 475.3h0M179 437.6h0M187.9 427.4h0M193.4 416.9h0M110.3 490.1h0M143.1 471.1h0M181.4 423.8h0M132.4 473.4h0M195.1 418h0M128.3 475.8h0M145.3 462.6h0M152.1 454.3h0M117.4 488h0M158 446.3h0M185.9 431.2h0M176.2 438.5h0M162.2 446h0M176.9 433.7h0M147.1 464.9h0M156.8 451.7h0M122.6 481.7h0M169.5 446.4h0M134 470.1h0M187.3 423.3h0M153.1 456.8h0M148 465.2h0M210 415.5h0M205.2 401.5h0M167.9 446h0M171.6 437.8h0M154.9 449.6h0M130 479.9h0M171.9 442.5h0M164.8 454.6h0M180.8 428.7h0M137.7 460.1h0M157.2 454.3h0M166 431.2h0M148.2 461h0M183.7 430.5h0M171.6 433.1h0M94.1 506h0M208.5 401.5h0M91.5 511.3h0M190.5 425.9h0M144.2 461.3h0M129.4 477h0M201.4 403.2h0M93.4 504.3h0M197.9 413.1h0M201 412.7h0M170.8 433h0M171.1 440.9h0M199.1 406.4h0M173.6 437.8h0M127.2 471.4h0M146.3 455.8h0M192.8 418.2h0M152.9 457.8h0M99 501.7h0M147.3 456.6h0M176.1 432.7h0M194.1 421.3h0M111.1 489h0M167.4 433.3h0M169.4 441.5h0M183.3 439h0M150.3 460.5h0M195.6 406.8h0M172.1 436.7h0M205.4 415.7h0M145.7 461.2h0M147.9 460.2h0M152.5 461.5h0M177.3 429.5h0M199.6 404.6h0M181.2 421.4h0M180.1 430.4h0M114.8 488.8h0M167.4 437.9h0M166.8 438.5h0M138.9 482h0M164.9 444.6h0M127.3 477.3h0M166.1 438.6h0M199.1 415.6h0M158.8 454.8h0M202.2 403.6h0M154.2 457.8h0M149.9 454.3h0M182.3 431.8h0M164.1 446h0M117.8 484h0M192.1 429.1h0M165.5 437h0M119.7 480.8h0M139 463.1h0M124.9 473.8h0M159.2 443h0M173.8 444.7h0M141.3 465.6h0M179.1 429.1h0M195.1 418.4h0M122.7 478.8h0M175.2 436.2h0M145.6 458.6h0M152 455.6h0M138.9 463.5h0M150 462.2h0M204.5 408.1h0M96.2 510.9h0M126.1 483.2h0M150.6 453.1h0M167.7 443.1h0M181.3 427.6h0M202.5 413.4h0M189.4 415.3h0M165 441.5h0M197.3 420.4h0M153.5 454.6h0M135.5 463.4h0M194.7 425.3h0M153.8 458.9h0M180.3 430.6h0M156.1 452.4h0M106.2 488.9h0M116.6 489.9h0M190.6 413h0M185.5 432.7h0M131.2 472.5h0M161.5 459.2h0M148.6 451.7h0M151.6 455.3h0M181.9 430.8h0M164.8 446h0M136.4 470.1h0M163.7 440.6h0M145.1 458.7h0M152 453.8h0M186.9 420.3h0M161.3 450.5h0M116.1 486.5h0M164.1 453.6h0M175 431.1h0M177.9 432.4h0M202 417.3h0M155 448.4h0M135.8 468.9h0M193.5 414h0M203.7 412.3h0M115.9 489.9h0M96.8 500.5h0M123.2 477.3h0M179.7 430.8h0M107.1 495.5h0M181.7 430.5h0M160.1 445.5h0M135.6 468.1h0M180.6 429.3h0M108.7 490.5h0M166.8 443.4h0M151.2 464.9h0M199.5 413.1h0M92.8 503.1h0M151.2 462.4h0M94.3 514.2h0M102.9 504.7h0M99.6 502.1h0M149.9 465.3h0M174.5 436.1h0M149.8 460.8h0M176 435.2h0M178.2 429h0M105.3 496.5h0M138.5 467.5h0M182.1 441h0M163.9 444.5h0M204.9 419.7h0M158.1 452.3h0M128.5 475.3h0M159.2 456.9h0M138.7 461.6h0M132.5 471h0M132.7 481.2h0M167.5 429.8h0M179.7 429.5h0M139.9 466.2h0M133 473.3h0M196 404.3h0M165.8 444.9h0M120.7 481.6h0M166.2 436.8h0M111.2 491.1h0M176.2 422.7h0M158.5 439.9h0M163.4 446.1h0M178.6 437.1h0M100.6 504h0M207 414.2h0M170.3 450.4h0M207.9 402.5h0M187.5 425.2h0M164.4 444.1h0M146.9 459.1h0M186.7 421.2h0M197.8 416.2h0M109.1 489.9h0M92.5 506.8h0M159 448.8h0M157.6 451.7h0M106.7 492.7h0M160.8 457.4h0M188.1 421.7h0M203.6 409.8h0M160.7 446.5h0M209.7 403.3h0M143.8 469.9h0M173.6 428.2h0M176.5 430h0M194.4 421.2h0M168.7 442.7h0M176.7 430.2h0M93.8 503.1h0M179.4 430.1h0M179.8 432.8h0M164.8 440.5h0M166.7 446.1h0M137 474.7h0M134.6 473.9h0M133.1 470.2h0M133.1 468.2h0M204.4 412.4h0M117.7 484.9h0M148.3 463.9h0M161 451.5h0M197.7 418.3h0M137 470.6h0M195.3 422.3h0M202.2 423.1h0M179.9 426.9h0M127.4 470.3h0M190.9 424.8h0M138.1 467.7h0M165.9 438.6h0M190.6 420.3h0M180.8 426.6h0M177.6 433.7h0M146.8 460.1h0M174.7 437.2h0M138.8 449.7h0M161.7 452.5h0M140.9 467.6h0M170.5 441.1h0M121.3 491.6h0M175 426.6h0M186.7 425.2h0M182.6 425.8h0M168.4 433.8h0M163.2 434.6h0M176.5 430.7h0M124.3 478.7h0M156.8 444.8h0M200.6 408.9h0M139.7 473.8h0M209.5 412.6h0M155.3 451.6h0M160.4 458.5h0M186.9 427.5h0M178.8 435.9h0M165.3 440.6h0M179.1 428.1h0M163.6 456.4h0M179.7 429.8h0M124.2 482.2h0M174.1 433.1h0M104.8 496.7h0M163.9 439.9h0M159.2 450.8h0M150.8 460h0M177.5 437.7h0M121 489.9h0M162.2 436.5h0M164.9 444.5h0M168 439.4h0M154 457.8h0M105.6 499.2h0M154.6 454h0M180.1 427.9h0M143.3 463.1h0M124.9 475.6h0M184.4 427.1h0M195.6 418.4h0M175.9 432.8h0M153.9 459.5h0M117 484.8h0M192.5 410.3h0M188.5 415.4h0M162.8 440.3h0M148.5 456.7h0M144.4 458h0M172.7 440.7h0M115.4 481.1h0M191.4 423.9h0M203.6 401.5h0M189.8 423.7h0M143.2 466.8h0M170 438.3h0M159.2 450.3h0M130.3 474.9h0M129.2 471.7h0M166.1 443.8h0M124.4 476.4h0M132.7 475.3h0M167.3 439.3h0M121 480.5h0M161.6 451.3h0M164.9 449.5h0M195.8 412.9h0M143.7 464.1h0M164 454.9h0M144.9 471.1h0M151.1 454.7h0M204.1 411h0M144.1 467.6h0M114.2 488.9h0M113.2 485.1h0M108.5 493.3h0M92.3 510.7h0M130.9 469.6h0M158.6 454h0M168.3 440.7h0M151.7 465.2h0M182.4 435.1h0M134.2 465.6h0M203.5 409h0M149.6 460.6h0M160 444.5h0M211.2 401.5h0M180 422.1h0M158.1 447.4h0M106.5 502.7h0M140.3 468.9h0M143.7 469.4h0M193 413.9h0M120.9 485.7h0M190.2 422.7h0M136.9 467.5h0M194.4 410h0M178 428.7h0M172.9 434.7h0M121.3 484.9h0M124.8 478.9h0M201.5 425.1h0M184.4 430.7h0M205.3 411.9h0M114 489.5h0M199.4 406.2h0M163 441.9h0M178.7 437.8h0M177.2 441.1h0M114.8 487.2h0M147.8 461.3h0M130.6 478.3h0M165.8 442.2h0M144.9 462.8h0M154.9 453.9h0M94 504.4h0M141.6 464.3h0M187.3 425.9h0M126.1 485.2h0M162.7 444h0M160.2 453.7h0M171.1 435.2h0M167.5 442h0M152.1 455.4h0M176.1 430.2h0M197.7 412.4h0M112.3 488.3h0M125.6 483.1h0M196.8 415.3h0M151.1 462.3h0M171.4 446.1h0M136.2 463.2h0M177 422h0M127.6 478.9h0M98.1 503.4h0M171.4 435.8h0M179.7 428.4h0M185.1 421.9h0M171.2 439.1h0M162.7 443.4h0M121.5 486.6h0M125.5 475.2h0M141.6 465.9h0M157.9 448.8h0M182.6 429.4h0M156.4 456.2h0M113.1 489.6h0M156.4 452.8h0M191.1 426.2h0M151.1 461.1h0M135.5 464.2h0M136.2 474.1h0M161.2 441.8h0M136 469.6h0M147.2 462.3h0M172.1 444.1h0M205.3 418.8h0M146.7 463.8h0M145 462.9h0M170.2 435.6h0M178.7 422.5h0M156.1 453.3h0M113.1 491.8h0M165.6 439.8h0M103.9 502.1h0M167.3 444.7h0M160.6 457.4h0M153.9 449.6h0M147 455.2h0M181.9 425.2h0M163.9 443.9h0M209.4 402.7h0M170.4 429.5h0M173.7 439.7h0M140.9 461.7h0M139.6 461.8h0M147 457.3h0M126.8 479.8h0M203.7 406.9h0M178.4 420.5h0M148.8 460.5h0M112.2 489.2h0M126.1 482h0M180.7 425.1h0M173.3 435.6h0M197.3 411.5h0M156.8 451.6h0M179 427.1h0M199.6 411.6h0M136.5 470.4h0M131.2 474.3h0M166.2 452.1h0M172.1 438.3h0M132.1 471.1h0M125.9 484.6h0M100.1 509.4h0M206.5 403.3h0M182.1 427.9h0M194.2 412.9h0M184.9 422h0M91 504.5h0M202.2 409.8h0M140.2 466.2h0M161.1 444h0M200.9 408.1h0M141.2 476h0M140.7 466.1h0M150.6 459.3h0M142.8 461h0M118.4 478.9h0M190.7 417.6h0M186.9 430.8h0M133.1 472h0M156.7 447.8h0M178 433.1h0M139.9 464.5h0M160.7 447.8h0M176.4 428.3h0M190 419.1h0M182.4 436.7h0M137.9 466.5h0M90.1 510.4h0M173 437.2h0M154.6 445.2h0M178.9 436.5h0M205.2 410.9h0M105.6 495.6h0M126 474.2h0M200.9 401.5h0M198.3 416.5h0M176.2 432.4h0M163.1 442.5h0M131.9 467.3h0M135.3 477h0M146.2 466.2h0M152.4 458.3h0M116.2 487.7h0M142.5 455.5h0M153.7 450h0M176.9 437.4h0M140.5 462.8h0M148.9 454.3h0M105.8 499.6h0M124.9 484.9h0M180.2 428.9h0M119.1 477h0M93.9 510.1h0M171.9 436.5h0M192.5 422.8h0M124.4 482.6h0M189.8 421.3h0M173 430.6h0M163.3 433.8h0M185.7 421.1h0M152.6 462h0M202.5 407.6h0M160.5 441.6h0M132.2 480.8h0M148.3 450.5h0M184.6 424.8h0M201 409.3h0M123.3 476h0M165.9 434.2h0M172 433.6h0M204.3 405.4h0M152.1 455.4h0M179.1 427.9h0M154.9 450h0M136.3 462.2h0M99.3 501.8h0M186.2 431.4h0M151 457.5h0M144.2 456.2h0M196.2 408.1h0M140.5 459.5h0M191.5 418.8h0M170.5 441.2h0M186.1 430.4h0M122.3 482.1h0M151.3 450.6h0M95.6 505.7h0M90.4 514.2h0M94.6 504.8h0M210.3 401.5h0M148.6 460.7h0M202.6 407.9h0M122.1 486.9h0M176.1 430.1h0M168.3 443.6h0M171.7 437.8h0M165.9 440.9h0M138.3 470.8h0M183 431.1h0M126.1 481.9h0M189.5 425.3h0M199 411.6h0M184.4 424.5h0M172.7 434.6h0M115.8 485.8h0M153.9 454.9h0M133.3 473h0M166.8 442.4h0M129 472.4h0M165.3 442.9h0M185.4 407.2h0M170.1 443.5h0M128.3 473.6h0M171 445.2h0M204.2 404.7h0M185.9 424.7h0M151 457.5h0M187.5 420h0M89.7 514.2h0M153.5 451.4h0M141.6 462.9h0M167.5 449.7h0M188 415.4h0M151.9 453.9h0M165 449.6h0M189.3 425.6h0M145.2 456.3h0M93.5 506.1h0M171 441h0M134.7 464.2h0M122.9 481.3h0M171.6 438.6h0M100.3 509.3h0M103.2 506.1h0M174.7 425h0M186.6 421.1h0M141.8 459.8h0M185.3 430h0M197.6 411.8h0M132.5 473.4h0M103.9 501.2h0M181.3 424h0M107 504.2h0M157.3 454.3h0M160.3 448.5h0M175.2 430h0M143.1 465.7h0M162.9 442h0M191.5 417h0M185.5 424.7h0M181.1 435.1h0M158 459.5h0M187.4 422.8h0M165.8 446.3h0M142.5 462.9h0M200 406.7h0M166.2 444.1h0M184.3 427.6h0M94 508.4h0M152.1 462.4h0M186.2 425.9h0M159.4 455.7h0M168.4 440.1h0M183.6 430.7h0M171.1 440.5h0M184.7 426.5h0M149 458.6h0M184.9 426.7h0M173.2 445.2h0M188.9 427.2h0M138.3 466.3h0M105.9 505.6h0M198.6 414.8h0M178.4 438h0M178.7 430.4h0M125.1 474.6h0M157.4 458.8h0M162.7 441h0M209.2 401.8h0M207.8 404.3h0M139.9 462.8h0M165.1 440.3h0M152.6 456.8h0M202.9 414.3h0M125.8 482.9h0M196.1 413.8h0M127.8 478.6h0M94.3 510.6h0M108.3 492.6h0M165.6 442.2h0M183.7 428.5h0M109.2 500h0M148.9 458.8h0M140.7 465.3h0M158 438.9h0M147.2 460.4h0M202.4 405.5h0M196.6 423.7h0M127.8 477.7h0M181.8 428.4h0M147.8 462.6h0M115.5 491.3h0M139.3 462.7h0M180.7 429.4h0M169.8 439.3h0M169.6 439.4h0M209.4 401.5h0M162.2 444h0M168.4 441.3h0M159.4 460.2h0M177 430.4h0M190.7 422.2h0M158.8 441.5h0M202.6 401.5h0M131.6 477.8h0M205.9 408.9h0M116.5 485h0M195.2 421.5h0M128.6 480h0M193.6 417.2h0M201 407.4h0M141.7 464.3h0M210.9 401.5h0M92.5 505.6h0M149.6 462.2h0M119.4 484h0M181.5 425.8h0M170.8 445.1h0M162.9 446.2h0M157.6 455h0M171 442h0M177.5 437.9h0M173.2 432.3h0M190 417.7h0M170.7 434.7h0M175.2 428h0M193.9 416.6h0M205.2 401.5h0M197.4 415.9h0M196.7 407.9h0M201.3 412.9h0M160.5 446.3h0M187.6 417.8h0M189 423.8h0M169.9 440.2h0M152.5 462h0M161.7 450.9h0M192.5 416.2h0M151.1 457.8h0M145.5 465.2h0M183.3 436.3h0M156.9 446.3h0M172.6 442.4h0M161.4 443.1h0M195.8 409.9h0M170.6 440.4h0M144 463h0M168.6 448.3h0M180.1 425.6h0M152.6 465.2h0M198.8 415.2h0M189.7 423.4h0M194.8 417.1h0M150.1 459h0M108.9 494.2h0M164.2 437.6h0M164.5 439.9h0M167.3 434.7h0M195.2 412.2h0M102 499.7h0M184.5 422.5h0M178.6 429.1h0M125.9 486.1h0M195.9 421.3h0M193.7 426h0M171 433.4h0M145.3 466.2h0M101.3 500.5h0M168.9 433h0M155.2 469.4h0M159.9 439.9h0M130.6 475.5h0M118 488.5h0M187.5 422h0M173.2 432.3h0M201.4 420.6h0M151.5 457h0M165.8 446.6h0M97.1 501.8h0M151.2 447h0M162.9 443.3h0M175.1 434.7h0M110.2 484.4h0M141.5 462.2h0M168.9 444.7h0M183.3 435.3h0M125.1 470.3h0M122.3 485.9h0M145.8 466.9h0M200.3 408.2h0M198.1 407.8h0M171.7 433.4h0M150.5 461.4h0M164.1 450.3h0M98.7 509.4h0M167.3 448h0M147 463.2h0M185.2 428.9h0M188.3 424.5h0M176.7 435.4h0M156.4 448.2h0M119.3 487h0M200.3 416.8h0M181 438.2h0M162.2 447.8h0M148 451h0M147 468.4h0M156 449.8h0M147.3 451.2h0M124.1 485.4h0M209.6 406.9h0M152.6 455.1h0M149.5 451.8h0M181.2 435.7h0M192.2 423.3h0M121.7 476.1h0M204.4 408.9h0M122.2 476.6h0M115.9 489.3h0M114.3 495.6h0M101.6 499.9h0M182.7 430.6h0M140.8 468.9h0M145.2 455.6h0M156.7 448.6h0M93.8 511.4h0M125.4 477.5h0M147.8 459h0M186.4 433.3h0M185.4 429.2h0M169.9 441.3h0M93.3 507.5h0M136.7 461.8h0M188.4 421.7h0M132.3 472.9h0M97.7 504.4h0M179.5 430.6h0M157.8 445.6h0M110.8 489.9h0M202.5 411.6h0M180.1 426.4h0M182.2 423.8h0M127.1 479.4h0M177.6 432.4h0M188.5 421.9h0M187.8 423.2h0M143 469.2h0M189.1 425.7h0M125.3 480.3h0M148.3 457.8h0M194.3 412.8h0M180.3 426.1h0M209.7 407.3h0M100 498.5h0M196.3 415.7h0M174.1 437.8h0M183.5 432.1h0M187.6 430.3h0M95.3 514.2h0M131.4 473.1h0M145.5 465.5h0M127.1 470.9h0M193.3 416.2h0M146.5 465.8h0M141.5 465.4h0M93.2 514.2h0M180.5 444h0M141.5 464.6h0M167 433.6h0M99.6 500.3h0M149 462.8h0M159.1 456h0M125.8 476.6h0M183.4 436.8h0M189 416.2h0M205.3 405.1h0M90 513.8h0M175.4 427.5h0M190.7 427.1h0M164.5 443.4h0M170.7 439h0M183.3 424.8h0M175.4 437.3h0M177.5 424.3h0M156.3 454.6h0M201.8 408.7h0M171.5 446.9h0M209.6 401.5h0M121.9 484.8h0M115.9 488.9h0M112.6 490.6h0M185.8 426.1h0M139.6 466.1h0M150.8 454.8h0M167.4 444.2h0M103.2 496.5h0M165.3 449.5h0M152 451.7h0M128.7 473.9h0M159.1 442.7h0M174.7 440.6h0M134.4 475.1h0M199.7 424.5h0M195.6 425.9h0M183.6 424.7h0M118.6 483.3h0M140.6 459.8h0M144.7 466.6h0M176.3 433.5h0M166.6 439.2h0M181.2 427.1h0M158.9 447.8h0M159.9 450.2h0M176.5 442.2h0M151.8 452.8h0M185.5 421.7h0M201.4 411h0M182.1 416.7h0M175.2 436.5h0M183.1 432.1h0M100.9 501.7h0M170.2 435h0M172.9 426.8h0M162 446.8h0M107.8 490.4h0M135.7 463.2h0M181.6 425.8h0M141 457.9h0M103.1 494.4h0M184.4 435.6h0M184 436.6h0M105.4 494.9h0M142.1 461.2h0M203.1 409.2h0M178.2 423.5h0M132.4 473.3h0M193.4 413.1h0M159.1 451.3h0M197 420.6h0M203.2 413h0M132.2 475.5h0M178.4 426.3h0M194.3 423.3h0M166.4 446.7h0M97.7 506.2h0M168.9 444.2h0M175 435.8h0M150.9 462.6h0M206.2 411.9h0M106.4 499.7h0M156.2 447.3h0M153.9 456h0M138.5 467.4h0M170.3 443.5h0M135.6 464.5h0M140 468.1h0M151.9 449h0M158.5 456.6h0M137.6 469.9h0M172.4 439.6h0M194.7 421.2h0M159.9 446.4h0M151.2 464.1h0M156.1 447.6h0M191.1 428.7h0M148.8 455.6h0M209.1 416.8h0M105.9 497.2h0M168.1 432.5h0M135.4 468.1h0M164.7 450h0M175.2 440.2h0M181.5 432.2h0M130.3 480.8h0M140.4 462.2h0M112.1 500.2h0M156.7 455.6h0M157.7 450.2h0M172.1 442.7h0M206.6 401.5h0M174 439.9h0M182.5 437.6h0M165.9 443.2h0M209.3 402.2h0M157.3 455.2h0M162.7 445.3h0M163 452.8h0M136.9 473.3h0M127.1 479.8h0M164.7 446.8h0M120.5 487.3h0M175.3 431.5h0M148 458.8h0M149.7 446.8h0M136.4 470h0M157.1 450.1h0M196.9 411.7h0M130.5 475.1h0M171.2 441.1h0M152.1 447.8h0M176.4 432.8h0M193.4 419.1h0M94.5 514.2h0M155.3 458.4h0M118.9 485.3h0M201.9 425.1h0M196.6 417.1h0M106.5 495h0M209.2 409.3h0M184.5 429.9h0M91.3 507.2h0M178.8 422.2h0M126.6 478.4h0M145.7 464.9h0M181 434.8h0M192.8 423.3h0M98.9 505.8h0M199.3 414.8h0M198.5 412.6h0M199.8 408.2h0M151.3 457.5h0M145.4 459.2h0M92.2 512.5h0M139.3 459.3h0M199.9 415.6h0M173.5 440.6h0M174.2 431.8h0M117.1 492.2h0M176.2 424.1h0M112.2 492.2h0M179.6 423.2h0M163.3 435.1h0M205.6 415.6h0M202.5 417.5h0M126.7 479.8h0M198.7 412.2h0M120.8 478h0M113.8 485.3h0M178.2 434.7h0M178.4 432.6h0M124.3 480.6h0M116.5 489h0M162.4 440.2h0M181.2 437.1h0M98.5 500.9h0M162.2 437.7h0M95.5 507.3h0M162.8 446.6h0M90.4 514.2h0M142.3 461.1h0M156 451.2h0M166.3 447h0M108.7 497h0M197.5 415.9h0M95.3 512.1h0M172.6 434.3h0M116.8 487.5h0M120.9 489.4h0M163.7 446.3h0M189.5 418.6h0M146.7 458.3h0M134.4 469.9h0M140.3 472.9h0M142 472h0M145.5 454.7h0M129.5 479.5h0M198.8 413.7h0M164.8 438.9h0M191.5 422.2h0M171.6 435.6h0M124.9 479h0M167.5 438.5h0M174 437.6h0M129 469.1h0M131 474.4h0M168.6 442.6h0M117.5 479.4h0M184.5 420.2h0M167.5 450.3h0M153.5 451.3h0M91.6 510.6h0M182.4 425.8h0M180.2 436.7h0M173 439.6h0M149.5 461.3h0M196.7 414.8h0M204.3 402.7h0M194.8 419.9h0M174.9 436.7h0M180.6 429.2h0M197.7 416.6h0M144.4 465h0M156.8 446.9h0M159.1 446.1h0M161.1 446.3h0M145.6 460.9h0M96.7 507.8h0M150.9 457.3h0M196.4 416h0M203.1 407.8h0M161.8 445.7h0M171.9 449.2h0M130.3 476.7h0M174.7 430.6h0M198.2 414h0M139.2 469.9h0M124.5 483.1h0M187.9 424.7h0M92.6 514.2h0M120 489h0M199.8 414.4h0M131.9 474.4h0M170.2 445.4h0M178.2 428.4h0M143.6 463.3h0M127.1 478.1h0M113 492.2h0M133.6 474.6h0M150.6 452.7h0M141.2 465.1h0M188.3 411.8h0M119.4 485.9h0M179.9 429.8h0M204 416.8h0M174.1 440h0M191.6 427.4h0M197 418.9h0M189.3 421.8h0M176.6 437.8h0M172.7 435.3h0M127.6 474.9h0M154 454.4h0M125.4 483.4h0M174.8 436.2h0M156.6 447.7h0M184.5 421.3h0M150.6 466.7h0M130.8 483h0M171 438.3h0M145.6 472h0M99.7 502.8h0M176.9 432.9h0M157.8 448.6h0M123.1 489h0M154.7 450.9h0M90.8 509.6h0M205.5 401.5h0M180.2 422.1h0M200.8 407.5h0M163.2 449.4h0M191.2 415.5h0M195.8 428h0M147.2 454.2h0M152.7 455h0M174.1 441.4h0M158.5 453.6h0M145.7 467.7h0M189.5 422.5h0M196.7 401.5h0M166.4 448h0M165.6 447.3h0M193.4 417.2h0M142.3 469.6h0M99.1 492h0M173.2 437.9h0M188.2 415.8h0M186.2 422.4h0M178 429.5h0M196.5 419.3h0M162 444.5h0M179.1 421.1h0M111 494.4h0M180.3 424.9h0M185.2 424.3h0M183.5 425.3h0M121.5 488.3h0M170.3 437.8h0M183.9 429.9h0M137.4 475.1h0M175.6 438.5h0M166.6 437.2h0M184.5 421.6h0M154.8 453.8h0M178.9 438.8h0M166.9 444.4h0M190.2 417.1h0M193 415.4h0M164.4 447.7h0M117.4 481.4h0M152.2 451.8h0M180.8 428.6h0M177.1 438.6h0M90.7 514.2h0M150 462.1h0M186.5 419.9h0M208.2 413h0M175.3 426.9h0M172.4 451.5h0M164.5 443.1h0M160.9 443.5h0M155.7 453.1h0M186.8 429.3h0M173.2 435.5h0M105.2 494.5h0M203.8 406.5h0M151.8 452.5h0M199.2 414.4h0M137.1 474.1h0M101.9 403.9h0M90.2 406.3h0M102.5 404.5h0M89 404.6h0M90.2 403.1h0M100.3 404.1h0M101.1 406h0M93 409.6h0M95.9 402.1h0M95.7 407.1h0M102.5 403.6h0M96.7 404.2h0M98.2 405.5h0M89.5 402.3h0M208.7 512.3h0M209.9 508.4h0M206.5 508.2h0M209.3 511.4h0M208.8 511.5h0M206.6 509.3h0M208.1 507.9h0M209.1 507.7h0M209.7 508h0M208.1 510.6h0M207.2 512h0M208.6 510.3h0M208.7 508.9h0M207.9 512.6h0" stroke="#d5d5d5" stroke-width="2.1" stroke-linecap="round" fill="none"/>
<path d="M94.8 403.9h0M95.2 405.2h0M94.2 406.4h0M90.9 413.1h0M91.9 414.3h0M92.5 414.7h0M154.9 414.7h0M180.6 410.8h0M181.9 411.6h0M185.5 414.1h0M189.4 405.8h0M190.4 410.4h0M189.4 412.7h0M189 414.1h0M199.7 403.9h0M200.9 404.5h0M206.2 412.7h0M208.1 412.3h0M209.1 415.7h0M206.8 417.7h0M199.3 418.6h0M199.7 425h0M174.6 422.2h0M174.6 425.5h0M174.2 428.5h0M179 425.2h0M182.5 418.3h0M187.1 432.8h0M169.7 433.4h0M165.8 435.4h0M162.8 436h0M161.8 437.4h0M158.9 438.8h0M153 435.4h0M153.9 436.8h0M154.9 437.4h0M153.6 439.9h0M148.6 437.4h0M145.7 443.9h0M149 443.3h0M150 444.3h0M155.9 442.7h0M142.1 446.6h0M143.1 447.8h0M140.2 453.7h0M139.2 454.1h0M143.1 453.1h0M133.8 458.5h0M134.6 459.6h0M137.2 460.4h0M179.6 442.9h0M172.7 449.2h0M175 448.2h0M165.8 457.7h0M164.8 458.1h0M150 464h0M151 465h0M149 464.4h0M153.9 463h0M146.5 467.9h0M119.1 465.6h0M126.8 468.9h0M143.7 474.8h0M137.2 480.1h0M138.6 479.7h0M140.2 481.7h0M141.7 481.1h0M136.6 480.7h0M131.3 484.1h0M132.3 486.1h0M123 497.5h0M117.5 501.4h0M107 504.4h0M189.4 508.3h0M193.8 508.9h0M197.3 507.7h0M201.6 503h0M203.6 505.8h0M204.8 508.7h0" stroke="#2e5aa0" stroke-width="2.3" stroke-linecap="round" fill="none"/>
<line x1="83.5" y1="517.2" x2="216.3" y2="398.1" stroke="#2b2b2b" stroke-width="1.3" stroke-dasharray="3 1.8"/>
<path d="M83.5 398.2V517.2H215.3" fill="none" stroke="#6b6b6b" stroke-width="0.95"/>
<path d="M89.6 517.2v5.6M83.5 511.5h-5.5M109.7 517.2v5.6M83.5 493.5h-5.5M129.8 517.2v5.6M83.5 475.4h-5.5M150 517.2v5.6M83.5 457.4h-5.5M170.1 517.2v5.6M83.5 439.3h-5.5M190.2 517.2v5.6M83.5 421.3h-5.5M210.3 517.2v5.6M83.5 403.3h-5.5" stroke="#6b6b6b" stroke-width="0.95" fill="none"/>
<text x="89.6" y="533.6" font-size="9" fill="#4a4a4a" text-anchor="middle" stroke="#4a4a4a" stroke-width="0.08">0</text>
<text x="72.9" y="514.8" font-size="9" fill="#4a4a4a" text-anchor="end" stroke="#4a4a4a" stroke-width="0.08">0</text>
<text x="109.7" y="533.6" font-size="9" fill="#4a4a4a" text-anchor="middle" stroke="#4a4a4a" stroke-width="0.08">4</text>
<text x="72.9" y="496.8" font-size="9" fill="#4a4a4a" text-anchor="end" stroke="#4a4a4a" stroke-width="0.08">4</text>
<text x="129.8" y="533.6" font-size="9" fill="#4a4a4a" text-anchor="middle" stroke="#4a4a4a" stroke-width="0.08">8</text>
<text x="72.9" y="478.7" font-size="9" fill="#4a4a4a" text-anchor="end" stroke="#4a4a4a" stroke-width="0.08">8</text>
<text x="150" y="533.6" font-size="9" fill="#4a4a4a" text-anchor="middle" stroke="#4a4a4a" stroke-width="0.08">12</text>
<text x="72.9" y="460.7" font-size="9" fill="#4a4a4a" text-anchor="end" stroke="#4a4a4a" stroke-width="0.08">12</text>
<text x="170.1" y="533.6" font-size="9" fill="#4a4a4a" text-anchor="middle" stroke="#4a4a4a" stroke-width="0.08">16</text>
<text x="72.9" y="442.6" font-size="9" fill="#4a4a4a" text-anchor="end" stroke="#4a4a4a" stroke-width="0.08">16</text>
<text x="190.2" y="533.6" font-size="9" fill="#4a4a4a" text-anchor="middle" stroke="#4a4a4a" stroke-width="0.08">20</text>
<text x="72.9" y="424.6" font-size="9" fill="#4a4a4a" text-anchor="end" stroke="#4a4a4a" stroke-width="0.08">20</text>
<text x="210.3" y="533.6" font-size="9" fill="#4a4a4a" text-anchor="middle" stroke="#4a4a4a" stroke-width="0.08">24</text>
<text x="72.9" y="406.6" font-size="9" fill="#4a4a4a" text-anchor="end" stroke="#4a4a4a" stroke-width="0.08">24</text>
<text x="119.3" y="387.8" font-size="9.5" fill="#2a2a2a" stroke="#2a2a2a" stroke-width="0.1">n = 82 : 1741</text>
<text x="154" y="548.9" font-size="9.5" fill="#4a4a4a" text-anchor="middle" stroke="#4a4a4a" stroke-width="0.08">Mesophyll Cell</text>
<text x="154" y="559.9" font-size="9.5" fill="#4a4a4a" text-anchor="middle" stroke="#4a4a4a" stroke-width="0.08">(Cluster S1)</text>
<text transform="translate(46.1,455.9) rotate(-90)" font-size="9.5" fill="#4a4a4a" text-anchor="middle" stroke="#4a4a4a" stroke-width="0.08">Mesophyll Cell</text>
<text transform="translate(57.3,455.9) rotate(-90)" font-size="9.5" fill="#4a4a4a" text-anchor="middle" stroke="#4a4a4a" stroke-width="0.08">(Cluster S0)</text>
<path d="M343.6 457.4h0M345.5 463.8h0M373 435.8h0M299.5 502.2h0M346.1 463.8h0M341.1 468.7h0M388.9 427.7h0M334.9 477.6h0M370.1 444.8h0M291.4 508.3h0M357.4 448.9h0M307.1 495.2h0M358.1 455.2h0M354.1 453.1h0M378.3 431.6h0M403.9 408.8h0M334.9 470.5h0M337.5 475.4h0M381.3 442.4h0M405.2 404h0M296.9 505.2h0M322.6 485h0M402.8 409.9h0M392.9 417.3h0M368.2 432.7h0M364.8 444.2h0M347.8 462.4h0M355.9 459.4h0M371.3 440.5h0M296.8 503.8h0M330.4 480.2h0M378.5 430.3h0M370.6 442.9h0M381.1 431.1h0M344.1 462.1h0M381.4 429.4h0M350.5 451.3h0M403.9 412.9h0M338.8 468.7h0M379.6 422.7h0M372.9 441.4h0M385 431.6h0M338.3 470.8h0M315.1 487.5h0M317 484.3h0M377.3 424.9h0M293.3 511.6h0M368.2 442.2h0M396.4 407.4h0M366.3 446.9h0M293.7 509h0M406.8 421.6h0M296 513h0M317.3 488.5h0M356.7 446.7h0M396.5 424.4h0M325.8 483.6h0M308.7 493.8h0M391.4 420.7h0M346.4 463.5h0M397.3 421.1h0M378.2 436h0M396.8 407.1h0M370.5 440.6h0M358.7 435.4h0M295.6 503.5h0M408.7 402.6h0M384.8 428.1h0M406.9 408.5h0M381 433.4h0M394.8 416.9h0M379.9 432.1h0M352 457.6h0M348.2 460.9h0M296.5 504.5h0M391.5 422.7h0M387.2 417.8h0M388.9 419.5h0M399.4 412.8h0M378.9 441.3h0M319.8 488.7h0M357.7 452.5h0M370.8 437.4h0M386.9 423.6h0M349.5 456.9h0M385.2 424.4h0M328.4 477.4h0M307.5 495.5h0M339.8 464.9h0M354.8 455.1h0M357.1 453.4h0M352.7 458.6h0M402.2 404.7h0M301.9 502.3h0M390.5 431.1h0M301.4 498.2h0M390.4 417.8h0M361.2 447.7h0M374.5 437h0M389.5 425.3h0M341.2 469.5h0M394.5 410.5h0M366.5 442.2h0M382.5 431.2h0M395.7 421.2h0M321.6 481.5h0M385.2 436.6h0M385.1 431.4h0M322.1 481.4h0M368.6 443.5h0M372.5 431.8h0M311 488.5h0M323.1 481.9h0M383.9 432h0M317.6 485.4h0M309.5 497.6h0M329.5 475.9h0M374.2 435.5h0M359.3 450.5h0M359.5 447.9h0M339.3 467.8h0M328.3 473.2h0M348.2 461.7h0M351.6 456.7h0M399.6 406.4h0M408 413.9h0M380.2 435.8h0M390.2 426.5h0M406.3 406.3h0M369.3 440.3h0M391.3 420.2h0M340.2 465.3h0M374.3 431.5h0M361.4 452.7h0M377.5 435.4h0M364.6 447.5h0M343.6 464.3h0M380.5 431.9h0M326.5 480.6h0M374.3 435.9h0M371.1 435.2h0M383 436h0M294.9 501.9h0M385 434.4h0M297 494.3h0M360.5 450.3h0M295.3 501.6h0M333.7 470.5h0M387 426h0M342.2 463.1h0M354.8 456.4h0M377.1 436.7h0M343.7 461.9h0M370.2 435.5h0M351.5 460h0M372.2 435h0M342.1 469h0M373 434.3h0M399.8 413.3h0M404.1 401.4h0M362.5 446.8h0M289.8 504.4h0M369.8 443h0M327 483.7h0M305 497.7h0M348.6 461.5h0M321 482.4h0M365.2 444.6h0M405.1 412.7h0M391.1 423.2h0M404.6 402.1h0M408.7 407.7h0M385.7 426.7h0M358.6 443.1h0M380.2 424.4h0M335.3 465.4h0M371.3 433.7h0M381.5 435.8h0M351.9 454.9h0M363.9 444.9h0M400.2 410.4h0M354.9 458h0M325.6 484.2h0M323.3 483.6h0M360.3 455.2h0M381.1 430.4h0M334.6 468.5h0M312.9 488.6h0M325.5 477.3h0M391.4 421.5h0M320.6 483.3h0M403.4 415.4h0M378.7 433.6h0M363 447.1h0M407 401.3h0M362.2 447.5h0M315.7 489.6h0M358.5 452.6h0M390.7 418.1h0M348 460.9h0M398.6 413.8h0M364 444.1h0M385.8 431.4h0M318.6 478.8h0M356.3 449.5h0M400.3 422.2h0M368.5 437.5h0M384.7 429.8h0M339.9 467.7h0M332.7 472.6h0M366.3 441.4h0M290 500.3h0M347.3 461.1h0M352.1 450.2h0M364.3 451h0M379.7 429.4h0M373.6 437.5h0M333 472.4h0M385.2 420.8h0M408.4 401.3h0M389.3 421.9h0M298.4 509.4h0M386.4 425.2h0M380.2 432.9h0M318 485.2h0M376.2 439.3h0M401.8 410.1h0M408 410.3h0M364.6 447.9h0M400.9 415.2h0M379.7 435.4h0M349.5 455.3h0M386.5 420.9h0M360.6 450.2h0M365.1 438h0M384.8 423.9h0M327 480.8h0M359.3 451.8h0M353.3 458.9h0M370.9 433.4h0M327.8 480.3h0M397.4 420.2h0M336.3 472.9h0M391.6 422h0M353.3 456.9h0M342.5 462.6h0M377.8 429.2h0M378.6 422.8h0M394.9 415.8h0M386.1 430.2h0M326.8 479.8h0M294.7 501.3h0M339 472.2h0M400.1 413.2h0M334.8 471.2h0M342.2 464.2h0M383.8 428.5h0M357.5 455.7h0M384.2 430.7h0M377.2 440.2h0M293.3 503.2h0M302.3 503.3h0M341.4 462.1h0M372.2 442.9h0M330.6 472.5h0M366.3 440.3h0M387 420.1h0M379.8 430.1h0M369.6 444.3h0M391.9 429.1h0M291.6 509.1h0M344.9 464.8h0M390.5 418.5h0M356.3 451.2h0M394 421.8h0M339.7 465.4h0M385.1 423h0M357.2 453.1h0M379.2 419.9h0M392.6 416.9h0M378.2 431.7h0M380.3 430.1h0M340.4 465h0M383.6 428.3h0M370.4 443.4h0M382.9 430.4h0M351.4 457.8h0M321.3 477.1h0M349.9 458.4h0M380.2 432.6h0M345.6 461.7h0M324 488.6h0M401.7 415.5h0M350.5 454.6h0M408.4 404.9h0M353.5 448.2h0M392.4 417.2h0M398.8 417.8h0M396 427.5h0M400.8 405.1h0M355.2 453.3h0M288.8 509.1h0M380.4 424.2h0M372.6 438.3h0M379.8 429.2h0M316.3 484.7h0M351.7 457.9h0M322.2 484.1h0M389.6 415.1h0M395.4 417h0M342.5 465.6h0M371.4 446.9h0M340.3 467.6h0M290.2 511.8h0M334.4 472.4h0M323.4 489.3h0M388.2 425.2h0M295.7 509.8h0M367.8 446.4h0M352.4 452.8h0M348.1 462.7h0M320.7 486.1h0M407.5 413.9h0M309.8 490.3h0M348.2 461h0M348.5 460.8h0M348.6 464.5h0M363.5 441.9h0M401.1 412h0M336.2 477h0M297.6 500.1h0M378.6 427.9h0M351.5 454.5h0M360.7 448.3h0M369.8 441.5h0M361.1 443.8h0M352.2 460.8h0M329.5 482.4h0M358.6 452.3h0M317.5 491.4h0M346.5 458h0M352.3 458.7h0M389.4 422.2h0M367.2 446.8h0M337.9 470.6h0M329.2 475.9h0M321.9 477.2h0M363.9 441.7h0M340.7 468.9h0M380.2 426.8h0M341.1 465.1h0M381.5 428.4h0M380.1 433h0M347.6 459.3h0M347.1 455.2h0M339.4 469.8h0M311.6 488.1h0M359.5 451.2h0M377.5 431.7h0M338 463.6h0M335.6 466.8h0M400 410.8h0M302.8 497.7h0M370.5 445.2h0M288.7 513.3h0M336.1 470.1h0M378.3 428.6h0M308 496.8h0M362.9 440.7h0M377.8 433.1h0M349.6 458.6h0M341 464.5h0M406.3 404h0M315.3 492.8h0M383.1 431.3h0M383.9 424.7h0M329 477.2h0M370 437.8h0M392.1 407.9h0M298.9 501.3h0M335 476.2h0M314.2 485.2h0M298.4 504.9h0M355.9 451.9h0M335.6 474.1h0M318.8 483.9h0M314.6 487.9h0M401 403.1h0M367.2 440.9h0M381.9 433.2h0M327.5 474.8h0M379.3 436.2h0M380.9 428.5h0M338 474.9h0M407.6 402.4h0M323.3 483.6h0M380 431.3h0M314 489.3h0M312.4 480.4h0M384.9 424.1h0M402.7 407h0M363.6 447.2h0M334.2 473.2h0M395.3 422.7h0M383.4 426.2h0M395.4 405.8h0M394 413.8h0M354.6 460.3h0M387.8 426.5h0M306.4 491.6h0M382.9 432.6h0M342 455.5h0M345.2 455.4h0M318.4 489.6h0M296.2 505.1h0M375.6 436.1h0M393.8 423.2h0M374.1 433.2h0M392.2 425.8h0M326 478.5h0M316.8 490.9h0M364 442.3h0M378.5 436.8h0M353.7 444.2h0M394.2 420.1h0M360.9 441.3h0M362.9 445h0M365.9 442.8h0M371.7 442.6h0M362.1 446.3h0M394 420.5h0M339.5 477h0M321.7 482h0M361.3 440.7h0M375.7 440.3h0M381.3 427.4h0M373.8 447.4h0M407 406.6h0M403.5 404.7h0M379.4 425.5h0M372.8 432.8h0M406.6 403.5h0M377.9 439.7h0M292.7 506.1h0M299.1 506.1h0M386.1 427h0M356.1 447.5h0M382.9 432.2h0M386.6 428.7h0M378.4 436.1h0M361.6 445.3h0M377 429.1h0M392.8 418h0M396.8 415.1h0M393.2 427.7h0M347.9 463h0M362.5 441h0M359.9 451.9h0M364.2 450.4h0M290 508.9h0M370.9 434.2h0M397.2 412.9h0M371.8 429.7h0M303.8 493.1h0M347.1 461h0M390.3 432.2h0M327 482.5h0M311.4 484.3h0M373.8 432.7h0M342 468.1h0M352.8 453.8h0M374.9 437h0M356.5 457.4h0M341.7 465.3h0M357.9 453.9h0M341.8 459.2h0M376.8 431.6h0M404.7 404.7h0M392.9 418.1h0M378.9 437h0M397.3 411.4h0M375.1 433.1h0M289 511.1h0M360 445.6h0M335.7 472.8h0M331.6 477.4h0M368.8 436.9h0M384.2 426.3h0M320.9 484.4h0M339.4 463.1h0M320.1 486.2h0M341.6 470.3h0M323 477.1h0M359.1 448.9h0M334 477.3h0M391.5 428.6h0M394.9 413.9h0M300.4 497.7h0M334.1 474.6h0M377 435.4h0M329.1 462.9h0M371.9 435.1h0M320.7 480.6h0M323.5 478.3h0M363.6 445.7h0M377.2 432.6h0M359.5 448.2h0M356.8 456.7h0M387 422.1h0M379 423.8h0M299.3 503h0M353.7 453.9h0M376.8 442h0M342.4 459.2h0M320 481.5h0M379.4 422.5h0M329.7 478h0M323.5 479.6h0M356.9 456.8h0M368.2 439.3h0M395.9 418.3h0M348.5 460.3h0M386.8 426.8h0M353 458.6h0M408.5 402h0M368 450.7h0M381.5 423.6h0M374.3 439h0M378.1 433.8h0M345.2 453.9h0M381.3 427.1h0M372.2 439.7h0M382.2 421.7h0M329.3 480h0M362.3 442.2h0M326.7 477h0M367.8 442h0M295.2 496.8h0M364.4 441.4h0M347.9 460.1h0M370.8 436.4h0M396.7 412.7h0M336.3 472.4h0M337.3 465.8h0M317.9 486.6h0M389.1 425.4h0M379.8 434.2h0M366.7 443.1h0M384.1 439.1h0M347.5 462.7h0M378.8 435.3h0M369.9 436.3h0M390.7 416.4h0M323.8 493h0M331.9 477.7h0M371.7 427.8h0M373.8 428.8h0M331 473h0M400.1 418h0M321.8 483.3h0M370.4 440.9h0M370.1 440.9h0M310.3 491.1h0M391.5 428.6h0M389.6 423.5h0M338.4 466.5h0M365.2 439h0M369.2 444.2h0M374.9 439.2h0M389.2 424.5h0M377.1 433.1h0M307.9 496.1h0M356.2 452.2h0M374 437.7h0M299 500.4h0M402.3 410.4h0M396.1 417h0M371.1 443.4h0M372.9 440h0M353.6 450.9h0M336.1 466.6h0M305.7 498.3h0M385.2 428.3h0M407 411.3h0M358.4 450.8h0M365.8 443.9h0M349.4 448.7h0M377.9 416.3h0M379.4 436.1h0M362 453.3h0M379.5 428.9h0M377.9 440.5h0M383 429.3h0M362.1 447.3h0M367.9 438.8h0M354.8 449.1h0M383.2 428.2h0M354.7 451.8h0M405.5 412.2h0M363 443.5h0M300.9 502h0M360 445.4h0M378.2 432.2h0M382.7 427.9h0M377.4 433.2h0M312.3 497.4h0M353.1 452.4h0M330.8 469.1h0M381.6 435.2h0M334.6 475.3h0M349.7 459.8h0M368 435h0M324.2 479.6h0M398.8 416h0M393.2 428.8h0M400.1 410.1h0M350.1 452.6h0M339.6 467.7h0M352.3 452.7h0M371.6 441.9h0M401.9 412.6h0M378 433.8h0M382.3 427h0M331.8 470.2h0M288.8 514h0M335.3 467.2h0M385.4 424.1h0M380.5 431.9h0M324.9 481h0M379.4 431h0M334 476.4h0M389.9 418.3h0M384 436.5h0M393.8 416.5h0M357.4 454.2h0M310.4 492.1h0M346.2 464.1h0M334.3 476.3h0M325.3 475.4h0M371.7 436.7h0M345.5 460.8h0M363.5 444.9h0M390.1 423.9h0M403.5 405.8h0M362.2 450.9h0M363.2 448.1h0M380.4 428.1h0M366.1 441.6h0M370.4 440h0M348.9 465.4h0M367.1 441.7h0M322.5 483.9h0M343.3 453h0M363.4 452.5h0M329.7 481.7h0M360.1 446.8h0M357.1 444.1h0M363.6 444.7h0M347.1 463h0M328.1 475.5h0M390.7 426.4h0M404.5 401.3h0M404.3 410.6h0M304.9 495.5h0M379.6 422.7h0M359.5 444.8h0M388.1 415.7h0M374 436.2h0M344 467.1h0M300 501.2h0M384.5 424.9h0M336.5 474.7h0M386.6 432.4h0M374.7 433.7h0M306.3 495.5h0M337.7 468.9h0M336 480.6h0M382.4 424.7h0M367.6 442.2h0M362.5 454h0M383.9 432.5h0M379.4 435h0M365.5 443.3h0M395.9 417.4h0M373.3 438.2h0M304.6 493.1h0M303.4 493h0M361.6 446.6h0M303.5 495.9h0M347 466.9h0M352.7 455.5h0M379.6 427.5h0M362 442.8h0M325.7 482.5h0M396.3 426.7h0M364 440.3h0M377 438.4h0M335.9 462.6h0M379 434.4h0M365.9 444.6h0M364 443.9h0M382.9 431.1h0M383.6 431.1h0M380.7 424.5h0M329.1 479.2h0M326 484h0M308.8 494.8h0M297.9 500.4h0M384.3 431.8h0M372.6 438h0M369.7 434.7h0M397.3 413.9h0M392.2 416.4h0M389.9 423.3h0M314.3 486.7h0M383.1 427.6h0M350.8 456.9h0M360.9 448.3h0M396.6 412h0M343.5 465.8h0M376.8 429.4h0M368.9 439.9h0M366.5 444h0M301.5 495.7h0M289.3 512.7h0M320.3 480.8h0M317.1 485h0M358 448.2h0M391 429.1h0M322.5 482h0M315.3 491.6h0M363.9 449.1h0M309.9 500.2h0M318.4 488.5h0M372.3 440h0M389.7 411.7h0M396.7 420.2h0M292.1 511.6h0M308.7 495.4h0M306.9 492.5h0M366.7 452.7h0M293.1 511.4h0M346.8 454.1h0M365.6 447.6h0M339.9 460.6h0M346.3 459.8h0M337.1 473.2h0M320.3 481.1h0M364 448.4h0M321.1 480h0M313.3 488h0M307.7 489.9h0M396.1 419.9h0M398.9 418.5h0M389.6 422.8h0M389.1 427.1h0M398.6 423.3h0M384.9 432.6h0M402 410.7h0M374.8 426.8h0M335 467.1h0M385.8 419.8h0M304.7 496.9h0M320.7 485h0M371.7 439.8h0M375.8 434.7h0M406.7 404.3h0M371 445.1h0M373 442h0M372.5 434.5h0M383.1 420h0M387.9 425.8h0M367.7 443.9h0M370.9 437h0M394.6 418h0M371 438.1h0M402.4 410.7h0M372.2 441.3h0M366.8 441.2h0M352.2 448.8h0M357.7 460.9h0M314.1 491.4h0M337.6 473.6h0M355.6 453h0M368.8 445.7h0M371.3 435.2h0M380.3 435.1h0M360.6 448.2h0M323.4 479.1h0M370.6 434.6h0M394.9 415.8h0M372.8 436h0M348.9 459.1h0M336.2 474.2h0M378.3 432.7h0M315.2 489.1h0M384.4 425.9h0M372.4 439.6h0M338.5 471.3h0M379 429.6h0M346.2 457.8h0M367.1 437.6h0M375.7 443.1h0M398.6 411.6h0M362.2 447.3h0M347.3 462.6h0M393.4 420.9h0M372.2 435h0M382.6 428.8h0M358.4 449.7h0M327.2 479.9h0M354.9 452.7h0M313.6 490.3h0M393.3 421.7h0M370.5 438.8h0M324.9 475.4h0M339.7 465.6h0M388 422.7h0M328.2 470.5h0M348.4 457.9h0M355.7 441.2h0M363.9 445.5h0M397.2 422h0M348.5 458.6h0M368 439.4h0M371.5 433.9h0M389.5 423.9h0M369.8 445.1h0M332.8 473.3h0M362 449h0M356.3 446.6h0M391.2 418.5h0M342.5 468.1h0M382.7 422.8h0M345.5 461.8h0M348.7 470.6h0M350.3 456.2h0M381.9 427h0M344 456.5h0M320.3 485.2h0M378.1 432.7h0M395.2 422h0M343.6 467h0M321.4 486.7h0M365.1 441.4h0M377.3 432.4h0M367.2 437.6h0M383.5 430.1h0M302.5 498.8h0M395.7 421.5h0M329.5 474.6h0M354.1 454.3h0M330.9 478.7h0M344.4 459.2h0M331.3 472.9h0M295.4 511h0M292.9 506.1h0M365.8 440.3h0M370.9 450.9h0M295.8 501.9h0M356 447.7h0M376.7 431.2h0M375 443.2h0M372.4 439.7h0M321.3 479.6h0M356.2 453.2h0M405.9 409.8h0M380.4 429h0M318.9 491.2h0M397.1 414.7h0M376.5 435.1h0M336.1 475.3h0M369.7 437.1h0M328.3 471.2h0M341 470.4h0M342.2 463.7h0M333.9 473.4h0M394.3 424.7h0M392.9 413.1h0M394.1 415.1h0M326.2 472.8h0M332.6 474.6h0M375.4 439.6h0M380.9 428h0M328.1 472.2h0M348.2 455.8h0M370.2 435.1h0M390.2 424.5h0M348.3 466h0M331.8 471.1h0M316 489.4h0M357.6 449.4h0M347.1 460.6h0M365.2 449.5h0M373.3 434.3h0M331.8 474.7h0M351.3 449.3h0M359 447.7h0M354.1 448h0M391.2 415.2h0M342.9 464.6h0M342.8 459.9h0M346.2 461.3h0M334.6 469.8h0M365.1 443.5h0M371.3 447.8h0M301 501.4h0M401 418.2h0M326.9 479.4h0M339.8 473.2h0M314.6 490.4h0M373.5 440.3h0M377.3 437.2h0M391.8 415.6h0M380.2 435.5h0M349.8 457.6h0M376 429.7h0M361.9 448.6h0M370.6 431.9h0M306.9 492.5h0M391.7 417h0M332.7 474.3h0M324.8 485.4h0M320.7 482.1h0M332.9 476h0M293 506.2h0M384 424.7h0M379.2 426.5h0M341.2 462.7h0M408.6 411.7h0M368.3 443.3h0M359.6 451.1h0M363.4 438.6h0M366.4 446.2h0M390.1 431.5h0M365.3 447.7h0M320.6 486.2h0M374.2 442.5h0M399.6 407.8h0M361.6 450.2h0M296.9 507.4h0M327.4 474.7h0M357.7 455.6h0M375.1 435.3h0M406.1 409h0M344 462.8h0M340.4 470.9h0M385.8 437.1h0M331.1 477.2h0M372.3 438.8h0M376 433.4h0M377.4 436.5h0M361 453.7h0M365.2 447.2h0M383.5 433.9h0M379 426.8h0M383.8 425.8h0M348.5 456.5h0M334.3 475.2h0M385.9 418.5h0M347.3 456.6h0M321.3 481.1h0M376.5 423.8h0M312 492.1h0M328.7 473.1h0M320.4 479.9h0M344.2 463.3h0M372.7 441.5h0M354 454.9h0M361.4 447.2h0M379.8 436h0M330.5 477.8h0M352.4 455.2h0M302.7 501.6h0M345.2 468.1h0M301.9 497.8h0M358.2 447.3h0M390.3 418.4h0M365.9 440.4h0M351.8 455.8h0M389.8 424.8h0M374.3 437.1h0M349 462.2h0M383.8 427.3h0M395.8 415.3h0M319.5 482.4h0M298.7 505.5h0M301.2 498.4h0M388.6 421.7h0M361.1 429.7h0M385.6 431.3h0M363.1 453.3h0M390.8 420.5h0M350.2 454.8h0M361.4 429.3h0M357.8 451.4h0M313.3 488.1h0M371.7 439.6h0M348.3 459.2h0M394.1 422.3h0M389.3 417h0M338.8 460.8h0M366.6 450.2h0M295.9 501.6h0M346.3 457.8h0M368.3 441.3h0M383.8 435.1h0M334.4 474.9h0M397.5 418.3h0M358.2 450.3h0M349.5 458.6h0M367.1 441.8h0M364.8 448.2h0M316.6 499.4h0M313.1 489.5h0M373.3 440.6h0M374.3 426.3h0M383.6 427.5h0M353.8 460.1h0M351.3 453.5h0M373.1 429h0M379.3 430.9h0M367.3 446.1h0M383.6 430h0M348.1 462.8h0M366.9 442.9h0M372.3 435.9h0M382.7 424.1h0M343.7 463h0M389.7 416.7h0M365.8 446.2h0M379.8 438h0M369.8 450.5h0M393.6 422.2h0M353.5 449.8h0M328.9 474.3h0M381.1 425h0M347.1 460h0M379.9 428.8h0M350.8 457.7h0M292.1 513.4h0M351.1 453.2h0M314.9 485.9h0M389.1 432h0M360.1 448.6h0M363 445.2h0M353.1 452.4h0M291.8 511.2h0M369.2 443h0M378.4 438h0M386.6 416.2h0M387.7 424.5h0M366.3 440.9h0M349.2 456h0M356.9 451.2h0M311.6 488.5h0M396.8 418.6h0M331.4 483.3h0M391.1 414.5h0M404.8 401.3h0M306.8 499.2h0M308.5 491h0M354.2 461.7h0M354.6 447h0M307.5 500.9h0M379.4 434h0M374.6 445.3h0M369.3 437.7h0M398.2 414.1h0M351.9 457.2h0M381.3 428.1h0M402.5 409.4h0M377.3 442.3h0M371.9 437.6h0M366.1 442.5h0M367.7 442.4h0M405.9 410.1h0M367.2 445.4h0M360.7 444.6h0M384.3 424.8h0M332.9 472h0M383.4 428.9h0M377.2 430.7h0M391.1 425.3h0M359.3 453.8h0M335.3 469.7h0M393.8 414.9h0M353.6 451.9h0M392.2 415.1h0M371.5 440.7h0M376.2 441.3h0M402.1 413.2h0M337.2 464.4h0M339 468h0M375.3 439.2h0M405.1 418.8h0M352.2 457.2h0M396.6 417.7h0M368.5 439.4h0M392.1 419.1h0M323 484.9h0M376 441.7h0M377.5 437.7h0M367.5 447.9h0M402 408.8h0M289.9 513h0M299.1 496.1h0M357.4 444.4h0M329.5 474h0M305.8 493.9h0M371.1 445.5h0M358.3 456.1h0M327.2 478.1h0M324.1 477.8h0M371.6 436.4h0M296.5 499h0M318.3 483.5h0M322.9 482.9h0M382.7 427.2h0M390.1 421h0M388.1 423.3h0M403.9 408.7h0M353.4 452.2h0M304.7 503.4h0M288.9 512.9h0M362 461.9h0M388.9 417.4h0M289.4 514h0M316.9 485.9h0M408 403.4h0M382.1 430.2h0M343.7 468.3h0M310.1 486.7h0M378.8 432h0M372.9 433.1h0M370.1 444.4h0M350.1 455.5h0M404.7 401.7h0M398.4 411.4h0M400.6 407.7h0M356.5 442.6h0M358.5 445.6h0M297 504.8h0M357.2 453.8h0M372.6 437.7h0M337.7 470.7h0M352.9 458h0M391.5 421.5h0M338 474h0M379.5 433.2h0M375.3 432.1h0M373.4 444h0M378.6 428.4h0M346.5 462.3h0M358 450.2h0M371.4 439.8h0M344.1 458.3h0M336.5 471.2h0M298.9 508.8h0M344.1 462.6h0M354.5 454.4h0M359 454.3h0M374.2 440.6h0M391 426.4h0M394.7 423.4h0M355.4 452.2h0M332.8 470.3h0M354.6 460.6h0M357.7 449.6h0M376.5 433.6h0M313.9 489.6h0M363.9 453h0M332.8 486.4h0M342.9 460.5h0M372.9 433.8h0M300.9 494.6h0M365.7 442.1h0M381.8 424h0M373.7 439.9h0M356.4 456.9h0M357.3 452.7h0M374.6 435.1h0M352.3 452.7h0M363.5 446.2h0M374.9 432.1h0M357 448.2h0M299.9 503.1h0M323.3 486h0M365.4 447.9h0M344.5 462.4h0M341 466.8h0M400.2 424.8h0M328.6 481.6h0M356.3 450.6h0M346.9 464.1h0M331.1 477.8h0M369.6 438.9h0M378.1 432.4h0M334.3 473.1h0M388 426.5h0M366.7 433.4h0M384.7 426h0M372.9 441.5h0M356.8 456.6h0M374.6 433.2h0M300.5 503h0M349.4 461.9h0M396.8 422.7h0M361.4 451.5h0M346 463.7h0M366.2 455.9h0M383.6 432.7h0M300.7 501h0M394.3 411.3h0M381.6 422.5h0M332 480.7h0M358.8 445.1h0M310.4 495.4h0M334.5 465h0M290.6 508h0M353.8 451.2h0M343.5 460.4h0M382.6 427.3h0M336.9 474.6h0M312.2 493.5h0M361.9 438.2h0M360 451.9h0M297.5 500h0M306.6 492h0M333.6 478.1h0M367.4 420.5h0M380.2 435.1h0M362.3 451h0M360.7 449.3h0M306.9 504.3h0M345.2 467.9h0M374.7 441h0M378.8 441.3h0M348.9 458.7h0M341.6 468h0M358 452.5h0M401.3 412.5h0M341.2 464.6h0M401.3 413h0M380.2 424.2h0M376.7 430.4h0M348.6 465.9h0M340.4 469.1h0M363.4 443.1h0M383.5 425.3h0M342.5 474.1h0M392.8 432.9h0M385.3 426.2h0M381.7 432.5h0M320.9 482.9h0M381.7 430.6h0M351.6 461.7h0M405.1 411.1h0M356.9 450.1h0M348.5 451.8h0M340.9 470.9h0M370.1 425.8h0M346.3 455h0M387.9 432.5h0M340.8 465.3h0M306.5 502.2h0M390.6 421h0M393.5 415.9h0M351.6 451.4h0M332.6 474.3h0M327.9 478.7h0M366.7 441.9h0M289.2 508.3h0M289.1 510.6h0M344.8 463.6h0M318 487.8h0M368.1 440.3h0M391.7 424.9h0M314 484.6h0M300.9 500.5h0M360.1 449.5h0M377.2 429.5h0M360.5 445.4h0M394.3 411.4h0M318.9 488.1h0M353.1 442.4h0M387.2 423h0M320.3 481.8h0M348 456.4h0M362 445.3h0M334.1 479.8h0M352.7 455.6h0M372.9 438.4h0M350.4 458h0M397.4 414.2h0M334.4 470.1h0M327 470.7h0M382.9 422h0M343.1 460.2h0M311.3 493.5h0M400.4 406.9h0M405.3 413.9h0M382.3 434.8h0M358 455.4h0M344.8 463.2h0M400.1 410.3h0M371.1 440h0M396.3 411.5h0M345.4 453.9h0M371.7 431.2h0M332.5 471.2h0M336.9 473.8h0M366.8 443.3h0M379.2 427.4h0M393.5 422.2h0M336.9 470.3h0M346.3 468.1h0M341.9 459.6h0M395.4 419.5h0M383.4 429.7h0M375.5 425h0M379 436.1h0M386.4 420.2h0M322.5 482.4h0M328.6 477.7h0M369.2 447.5h0M393.8 413.5h0M303.6 494.7h0M343.2 462.9h0M360.9 443.8h0M404.7 404.2h0M381.5 433.7h0M399 417.1h0M351.5 457.6h0M368.7 436.3h0M351.1 455.4h0M359.3 448.8h0M366.3 443.7h0M355.5 449h0M338.8 462.1h0M349.5 453.7h0M349.5 458.1h0M346.8 458.3h0M366.5 441.7h0M381.8 425.9h0M364.6 450.2h0M364.3 445.5h0M340.5 464h0M334.4 475.6h0M346.6 452.2h0M349.6 456.5h0M306 499.7h0M288.8 514h0M352.1 463h0M335.7 474.7h0M339 477.3h0M330.7 476.5h0M318.2 490.3h0M380.5 434.9h0M290.1 403.2h0M301.7 405.8h0M293.3 407.3h0M290.7 403.5h0M289.3 402.1h0M299.2 404.7h0M299.9 404.9h0M300 404.5h0M290.7 406.9h0M293.7 405.1h0M291.5 405.4h0M300.6 404.2h0M289.9 406.2h0M294.8 404.9h0M403.5 511.2h0M408.3 507.9h0M408.1 507.9h0M407.2 512.1h0M405 512h0M407.6 509.6h0M407.7 511.3h0M410.8 509h0M408.3 512h0M408.8 508.7h0M405.4 509.7h0M405.6 508.6h0M409.1 508.9h0M405.6 508.6h0" stroke="#d5d5d5" stroke-width="2.1" stroke-linecap="round" fill="none"/>
<path d="M358.7 436.7h0M350.7 438.6h0M329.6 453.5h0M359.9 431.9h0M341.6 449.9h0M345.1 451.7h0M360.2 440.4h0M344.6 448.7h0M335.7 457.5h0M328.6 458.8h0M351.5 433.1h0M353 431.2h0M368 428.9h0M348.4 453.1h0M348.8 449.3h0M339.3 452.5h0M361.2 430h0M362.5 428.2h0M353.2 440.8h0M353.7 437h0M357 444h0M338.3 464.3h0M347.4 448.4h0M341.8 445h0M330.1 462.8h0M358.7 439.3h0M354 443.2h0M348.4 435.3h0M352.3 435.2h0M346.4 442.5h0M348 445.8h0M351.6 442.4h0M346.2 446.9h0M344 448.7h0M336.8 460.9h0M351.7 443.3h0M337.1 456.8h0M348.1 442.2h0M362.1 432.2h0M338.1 452.5h0M365.7 419.5h0M358.2 437.5h0M348.4 444.8h0M352.2 440h0M354.1 437.9h0M330.7 462.7h0M356.1 430.1h0M350.1 445.7h0M354.5 433.5h0M337.6 453.8h0M355.5 437.3h0M349.9 438.6h0M343.6 446h0M366.3 422.5h0M352.7 446.3h0M355.9 446.4h0M354.6 435h0M349.2 443.3h0M369.6 423.8h0M333.8 451h0M343.9 442.8h0M370.4 415.8h0M370.8 431.6h0M337.7 448.6h0M353.2 438.9h0M371.1 419.3h0M350.3 452.5h0M346.1 451.1h0M348.2 449.3h0M367.7 426.8h0M341.1 451.9h0M338.3 445.9h0M358.7 429.3h0M372 419.3h0M360.4 440.7h0M361.7 435h0M354.5 427.5h0M352.7 438.5h0M349.8 437.7h0M354.8 444.6h0M358.6 431.5h0M365.2 429.8h0M365.1 433.2h0M337.7 456.2h0M328.4 454h0M359.9 433.4h0M365.2 428.3h0M370.3 432.5h0M358 441.2h0M364.1 434.5h0M342.7 443.3h0M361 429.7h0M357.1 438.6h0M340.1 448.1h0M338.4 451.2h0M337.5 455.1h0M358.3 436.8h0M330.1 457.1h0M341.1 437.6h0M349 447.8h0M361.7 424h0M349.5 448.7h0M368.5 425.6h0M348.1 450.6h0M350.4 445.8h0M346.3 451.9h0M355.9 440.3h0M346.2 449.2h0M336.1 456.8h0M355.1 438h0M370.2 429.6h0M359.7 435.5h0M359.6 426.1h0M339.1 448.9h0M337.1 452.7h0M358.5 435.8h0M338.7 445.2h0M343.7 447.8h0M343.6 446.8h0M341 443.8h0M359.9 424.8h0M349.8 445h0M326 458.8h0M342.3 453.7h0M356.7 437h0M354.3 441.4h0M361.2 433.6h0M345.5 439.9h0M350 448.6h0M340.6 449h0M361.4 431.4h0M335.8 458h0M372.1 427.2h0M358.3 435.6h0M371.6 418.1h0M369.7 427.6h0M366.5 434.1h0M335.6 456h0M340.7 450h0M352.2 435h0M371.7 429.5h0M349 443.9h0M361.7 425.5h0M350 450.8h0M347.1 448.8h0M355.6 435.9h0M353.4 434.8h0M348.5 449.7h0M340.6 447.1h0M362.7 435.2h0M351.2 434.9h0M351.8 445.8h0M371.3 421.9h0M367.5 421.5h0M343.9 441h0M360.7 431.1h0M366.7 421.3h0M350.2 436.9h0M345.1 445.7h0M353.3 432.3h0M333.7 460.4h0M359.1 435.3h0M350 439.2h0M371 421.5h0M357.3 436.5h0M356.5 439.9h0M365.4 435.7h0M370.7 413.2h0M351.2 444.5h0M343.6 442.2h0M351.3 443.5h0M359.2 443.2h0M350.5 451.3h0M353.3 437.2h0M359.1 426.7h0M339.2 463.2h0M324.7 461.6h0M364.4 426.3h0M336.4 461.5h0M358.5 428.2h0M354.3 440.1h0M360.5 433.5h0M350 445.9h0M366.3 430.7h0M366.4 434.7h0M359 433.2h0M354.4 432.9h0M373.2 426.6h0M363.1 437.6h0M357.2 428.8h0M352.9 444.8h0M352.1 441.1h0M362.1 432.3h0M357.5 433.5h0M338.1 457.9h0M347.9 443.1h0M336.2 458.2h0M345.3 450.3h0M367 428.6h0M361.1 430h0M353.6 439.8h0M361.1 424.6h0M329.4 454.9h0M348.9 445.4h0M361 434.6h0M339.4 447.6h0M343.6 452.8h0M326.3 471.9h0M351.3 441.1h0M345.8 456.2h0M363.2 429.6h0M331.4 470.9h0M340.8 446.3h0M366.5 427.2h0M347.6 438.3h0M351.9 446.7h0M370.1 438.1h0M371 415.4h0M345 452.3h0M350.5 431.4h0M358.2 435.6h0M352.6 438.6h0M358.1 438.3h0M343.7 443.5h0M355 434.1h0M362.2 432.4h0M364 433.3h0M367.3 433.4h0M362.2 431.7h0M340.5 449h0M374.3 420.3h0M335.1 458.8h0M340.2 454.8h0M344.5 458.6h0M357.8 432.4h0M373.5 427.5h0M364.5 424.2h0M373.1 426h0M341.9 458h0M365.7 429.3h0M368.3 416.6h0M362.3 425.1h0M364.9 431.7h0M336.4 448.4h0M329.6 461h0M354.8 444h0M334 461.4h0M328.7 461.5h0M372.1 430.8h0M339.7 448.9h0M364.1 431.3h0M335.4 448.9h0M365 429.6h0M359 438.4h0M356.2 439.2h0M331.9 450.7h0M361.9 433h0M356.6 431.1h0M357.2 433.6h0M339 458.8h0M358 433.3h0M348.3 446.2h0M351.9 440.6h0M356.2 444h0M355 435.6h0M358.4 433.1h0M355.9 439.5h0M366.9 429h0M351.7 437.9h0M354.2 441h0M381.3 415.2h0M390.3 411.8h0M397.6 404.1h0M400.1 404h0M396.5 405.5h0M387.2 418.7h0M400 407.6h0M395.3 408.8h0M393.1 408.9h0M380.9 421.2h0M395 405.5h0M394.7 404h0M400.4 411.4h0M381.8 426.5h0M392.4 408.6h0M396.4 410.5h0M397.8 403.6h0M389.9 409.7h0M379.3 420.3h0M399.3 402.4h0M393 411h0M384.2 414.6h0M399.7 403.4h0M379.2 426h0M388.9 418.3h0M392.4 410.6h0M386.8 412.4h0M397.5 410.6h0M376.4 422.4h0M391.8 415.5h0M397.8 406.1h0M382.5 415.7h0M392.4 412.3h0M375.8 422.4h0M393 416.2h0M392.1 410.2h0M397 406.5h0M378.9 423.5h0M398.6 411.7h0M379.5 431.1h0M383.1 419.2h0M391.7 405.8h0M389 416.9h0M387.7 412.1h0M400.6 403.1h0M328 464h0M329.7 466.9h0M318.5 472.2h0M324 469.1h0M327.1 464.5h0M318.1 467.7h0M327.6 459.1h0M316.5 476.2h0M322.1 464.8h0M316.6 470.2h0M332.6 460.2h0M328.8 455.5h0M322.5 465.9h0M330 464.8h0M316.6 466.9h0M328.2 457.7h0M326.2 462.5h0M332.3 456.7h0M327.5 460h0M329.9 462.4h0M322.6 467.5h0M325.7 467.3h0M322.3 464.8h0M330.8 467.9h0M318.7 477.7h0M326.1 457.6h0M325.3 451.1h0M331.1 454.2h0M328.5 464.4h0M323.6 461h0M329.9 449.4h0M333.5 452.1h0M329.9 459.5h0M317.1 466.5h0M324.2 460.6h0M336.5 463.8h0M320.3 473.8h0M336.1 456.3h0M321.4 464.1h0M319.4 463.4h0M319.5 463.3h0M322.6 459h0M333.4 452.2h0M332.6 446.4h0M322.6 468.3h0M326.8 458.6h0M319.2 466.9h0M321 459.4h0M329.9 460.2h0M323 469.5h0M325.5 456.8h0M335.2 465.6h0M332 457h0M317.1 474.9h0M331.9 458.9h0M332.2 454.2h0M319.1 467.1h0M319.6 464.4h0M328.5 459.5h0M333.4 462.3h0M321.4 467.9h0M331.2 452.4h0M318.5 459.7h0M321.9 461.1h0M319.6 471.7h0M332 463.3h0M323 462h0M328.5 462.7h0M321.1 467.1h0M318.4 472.1h0M298.5 490.1h0M294.7 497.9h0M302.6 488h0M309.9 478.4h0M292.7 497h0M304 481.9h0M297.6 494.9h0M310.3 479.8h0M300.5 487.8h0M297.5 498.2h0M304.2 489h0M302.4 480.5h0M297.3 490.2h0M308.5 482h0M295.7 505.2h0M297.1 495.3h0M291.4 491.5h0M294 497.1h0M311 479.3h0M291.2 496.5h0M311.2 491.2h0M292.1 493.7h0M296.7 489.5h0M305.9 485.6h0M296.8 496.1h0M311.2 476h0M308.3 490.2h0M297.3 488.3h0M308.4 478.8h0M310.1 487.8h0M291.8 501.1h0M305.5 487.9h0M303.2 484.2h0M291.9 494.2h0M308.6 479.2h0M309.9 480.4h0M309.5 476h0M303.5 483.2h0M309.6 486.3h0M303.7 484.8h0M295.6 499.4h0M310.3 476.8h0M298.7 498.7h0M291.6 507h0M290 499.7h0M301.5 489.9h0M307.4 486.5h0M292.1 498.3h0M309.9 484.4h0M300.9 494.3h0M305.3 489h0M301.9 487h0M306.3 484.2h0M295.2 498.1h0M302.2 488.5h0M291.5 507.2h0M295.1 494.5h0M291.1 505.4h0M291.1 500.9h0M290.5 492.6h0M363.2 455.2h0M365.1 460.9h0M341.8 482.5h0M357.2 466.7h0M368 458.3h0M359.3 464.2h0M365.2 455.1h0M342.7 466.3h0M343.9 480h0M346.3 478.5h0M340.7 477.6h0M345.3 474.3h0M357.8 467.5h0M353.3 471.9h0M337.2 482h0M337.3 490.5h0M339.7 473.9h0M345.5 482.8h0M358.2 474.4h0M354.5 462.9h0M342.7 481.3h0M343.7 478.2h0M292.4 407.2h0M289.6 406.2h0M297.6 409.6h0M299.7 414.3h0M293.6 416.6h0M288.3 417h0M298.6 409.1h0M294 428.7h0M292.2 410.8h0M292.9 408.4h0M302.3 419.5h0M292.7 422.1h0M395.8 509.9h0M397.9 507.2h0M399.4 509h0M400.9 504.5h0M402.9 505.9h0M403.9 502.3h0M405.4 503.2h0M406.9 499.6h0M408.9 497.8h0M397.3 493.3h0M401.4 495.5h0M404.4 498.2h0M399.4 502.7h0M398.9 510.4h0M307.8 509.9h0M308.8 508.6h0M306.8 507.2h0M349.1 496.9h0M318.9 494.6h0M366.7 423.4h0" stroke="#2e5aa0" stroke-width="2.3" stroke-linecap="round" fill="none"/>
<line x1="282.8" y1="517" x2="415.4" y2="398.1" stroke="#2b2b2b" stroke-width="1.3" stroke-dasharray="3 1.8"/>
<path d="M282.8 397.9V517H414.4" fill="none" stroke="#6b6b6b" stroke-width="0.95"/>
<path d="M288.7 517v5.6M282.8 511.3h-5.5M308.8 517v5.6M282.8 493.3h-5.5M328.9 517v5.6M282.8 475.2h-5.5M349.1 517v5.6M282.8 457.2h-5.5M369.2 517v5.6M282.8 439.1h-5.5M389.3 517v5.6M282.8 421.1h-5.5M409.4 517v5.6M282.8 403.1h-5.5" stroke="#6b6b6b" stroke-width="0.95" fill="none"/>
<text x="288.7" y="533.4" font-size="9" fill="#4a4a4a" text-anchor="middle" stroke="#4a4a4a" stroke-width="0.08">0</text>
<text x="272.2" y="514.6" font-size="9" fill="#4a4a4a" text-anchor="end" stroke="#4a4a4a" stroke-width="0.08">0</text>
<text x="308.8" y="533.4" font-size="9" fill="#4a4a4a" text-anchor="middle" stroke="#4a4a4a" stroke-width="0.08">4</text>
<text x="272.2" y="496.6" font-size="9" fill="#4a4a4a" text-anchor="end" stroke="#4a4a4a" stroke-width="0.08">4</text>
<text x="328.9" y="533.4" font-size="9" fill="#4a4a4a" text-anchor="middle" stroke="#4a4a4a" stroke-width="0.08">8</text>
<text x="272.2" y="478.5" font-size="9" fill="#4a4a4a" text-anchor="end" stroke="#4a4a4a" stroke-width="0.08">8</text>
<text x="349.1" y="533.4" font-size="9" fill="#4a4a4a" text-anchor="middle" stroke="#4a4a4a" stroke-width="0.08">12</text>
<text x="272.2" y="460.5" font-size="9" fill="#4a4a4a" text-anchor="end" stroke="#4a4a4a" stroke-width="0.08">12</text>
<text x="369.2" y="533.4" font-size="9" fill="#4a4a4a" text-anchor="middle" stroke="#4a4a4a" stroke-width="0.08">16</text>
<text x="272.2" y="442.4" font-size="9" fill="#4a4a4a" text-anchor="end" stroke="#4a4a4a" stroke-width="0.08">16</text>
<text x="389.3" y="533.4" font-size="9" fill="#4a4a4a" text-anchor="middle" stroke="#4a4a4a" stroke-width="0.08">20</text>
<text x="272.2" y="424.4" font-size="9" fill="#4a4a4a" text-anchor="end" stroke="#4a4a4a" stroke-width="0.08">20</text>
<text x="409.4" y="533.4" font-size="9" fill="#4a4a4a" text-anchor="middle" stroke="#4a4a4a" stroke-width="0.08">24</text>
<text x="272.2" y="406.4" font-size="9" fill="#4a4a4a" text-anchor="end" stroke="#4a4a4a" stroke-width="0.08">24</text>
<text x="316.9" y="387.8" font-size="9.5" fill="#2a2a2a" stroke="#2a2a2a" stroke-width="0.1">n = 581 : 1511</text>
<text x="351.1" y="549.6" font-size="9.5" fill="#4a4a4a" text-anchor="middle" stroke="#4a4a4a" stroke-width="0.08">Mesophyll Cell</text>
<text x="351.1" y="560.6" font-size="9.5" fill="#4a4a4a" text-anchor="middle" stroke="#4a4a4a" stroke-width="0.08">(Cluster S2)</text>
<text transform="translate(245.6,457.5) rotate(-90)" font-size="9.5" fill="#4a4a4a" text-anchor="middle" stroke="#4a4a4a" stroke-width="0.08">Mesophyll Cell</text>
<text transform="translate(257.1,457.5) rotate(-90)" font-size="9.5" fill="#4a4a4a" text-anchor="middle" stroke="#4a4a4a" stroke-width="0.08">(Cluster S0)</text>
<path d="M567.2 446.3h0M567.4 450.1h0M556.7 462.1h0M562.6 450.1h0M590.8 427.5h0M549.8 463.1h0M567.8 445.9h0M532.7 478.1h0M585.4 436.2h0M517.4 485.2h0M566.6 451h0M590.3 421.9h0M601.5 420.8h0M563.6 453.8h0M597.8 429.5h0M564.2 451.3h0M544.7 460.6h0M523.2 489.3h0M548.9 462.7h0M509.6 497.8h0M502 501.7h0M543 465.2h0M565.3 445.4h0M547.7 459.6h0M590.6 420.5h0M503.5 504.7h0M563.5 439.7h0M515.2 492.5h0M571.2 435.8h0M579.3 437.2h0M554.5 457.5h0M515.1 503.7h0M547.1 470.3h0M559.9 450.6h0M568 443.9h0M555.1 455.5h0M570 432.7h0M603 409.7h0M574.5 441.6h0M594.4 420h0M574.3 439.2h0M579.9 435.5h0M500.4 502h0M540.3 469.4h0M561.2 449.9h0M505.5 496.3h0M551.5 458h0M610.3 405.5h0M610.6 401.1h0M528.6 479.7h0M563.6 451.8h0M605.2 409.5h0M590 421.9h0M591.7 429.1h0M502.6 493.7h0M582.1 442h0M495.1 507.8h0M589.9 418.2h0M605.1 404.5h0M563.4 451.3h0M591.2 428.1h0M500.1 504.9h0M504.1 501.3h0M533.3 476.6h0M596.6 419.1h0M592.6 425.9h0M584 437.9h0M595.5 412.3h0M553.4 462.6h0M553 461.3h0M591.7 423.3h0M573.8 442.9h0M571.2 441.1h0M536.6 469.2h0M570.7 440.8h0M606.5 413h0M610.5 407.5h0M558.7 449.4h0M545.5 455.9h0M585.7 434.5h0M521.6 493.5h0M572.4 434.5h0M577.2 435.2h0M576.8 441h0M544.3 461.8h0M577.7 436.8h0M583.6 426.6h0M603.1 408.5h0M558.6 455h0M554.9 454.9h0M559 451.8h0M548.3 457.8h0M563.9 452.4h0M575 444.5h0M599 419.8h0M505.2 509h0M533.3 475.1h0M587.6 438.6h0M600.8 410.2h0M609 411.6h0M583.5 424.5h0M507.4 501.9h0M507 495.5h0M531.2 478.7h0M586.8 435.2h0M534.9 473.2h0M578.2 436.5h0M589.4 420.2h0M606.8 402.2h0M572.4 439h0M581.9 435.4h0M545.1 469.5h0M593.4 429.7h0M552.3 457.8h0M598.3 421.9h0M600.3 417.9h0M544.6 469.5h0M578.7 427.7h0M552.5 458.7h0M564.2 448.4h0M543.7 465h0M580.6 433.2h0M606.7 416.5h0M593.9 418.8h0M549.6 454.8h0M558.4 453.2h0M572.4 447.6h0M551.7 455.2h0M584.3 431.6h0M585.3 430.9h0M544.7 463.9h0M586.3 420h0M522.8 479.3h0M502.5 494.7h0M555.6 458.2h0M575.5 440.4h0M536.4 478.9h0M569.6 446.4h0M570.3 439.3h0M571.6 438.2h0M586.6 430.6h0M569.7 440.4h0M560 445.1h0M589.4 425.4h0M560.2 446.6h0M593.1 416.2h0M588.9 423.1h0M567.7 451h0M590.6 420.3h0M537.8 469.5h0M528.5 475.7h0M593.1 411.3h0M571.5 444.2h0M520.1 486h0M560.4 451h0M513.6 488.5h0M495.5 510.3h0M518.3 486.4h0M607.1 407.9h0M500.9 500.3h0M594.8 415.2h0M561 459h0M585.2 432.2h0M541.2 472.1h0M564.9 446.4h0M542.9 463.4h0M569.1 438.3h0M532.3 477.5h0M553.6 457.5h0M530.1 479.3h0M593 428.9h0M497.1 506.3h0M497.7 506.6h0M584.6 435.7h0M599.4 408.3h0M601 420.4h0M576.5 431.1h0M505 498.2h0M504.8 503.3h0M508.5 498.1h0M505.5 495h0M587.4 429.3h0M581.1 428.9h0M543.8 465.2h0M586.5 425.3h0M546.7 463.9h0M591.3 424.7h0M590.6 424.5h0M501.1 506.1h0M511.4 490.1h0M573.7 448.6h0M519 487.2h0M552.8 465.7h0M576.8 430.1h0M578.3 435.8h0M597.8 417h0M578 430.1h0M535.7 473.4h0M586.1 432.3h0M551.4 455.6h0M575 439.6h0M579.5 425.8h0M590 427.5h0M502.3 513.8h0M537.8 468.1h0M518.6 491.1h0M526.8 479.3h0M512.8 489.6h0M563.5 449.9h0M574 445.2h0M577.2 431.8h0M513 491.5h0M604.3 416.7h0M561.2 450.3h0M601.4 421.5h0M520.9 494.9h0M550.3 461.5h0M528.9 485.9h0M608.2 410.5h0M580.3 429.5h0M547 470.2h0M571.8 438.3h0M493.5 505.5h0M541.7 468.4h0M567.4 437.9h0M547.9 457.7h0M576.1 441.3h0M573.1 440.6h0M587.1 421.8h0M566.1 451.1h0M506.2 493.3h0M552.2 457.1h0M565.9 448.2h0M594.8 421.7h0M579 434.1h0M571.2 437.8h0M536.6 480.9h0M493.7 503.9h0M502.4 498.5h0M571.6 448.2h0M495 504.6h0M538.1 472.7h0M606.6 407.5h0M604.3 412.1h0M589 422.6h0M573.4 444.9h0M580.9 433.6h0M524.2 480.5h0M607 413.7h0M496.3 513.8h0M571 447.1h0M567 444.8h0M535 474.6h0M532.6 469.4h0M567.9 447.8h0M586.2 422.2h0M582.4 438.3h0M563 439.1h0M559.4 442.3h0M575 439.5h0M590.1 416.3h0M556.7 455.6h0M603.9 411.6h0M604.8 413.4h0M584.4 426.5h0M583.4 435h0M575.4 441.5h0M515 488.4h0M599.1 415.9h0M592.4 428.1h0M515.9 489.8h0M610.3 406.5h0M542.4 470.3h0M499.9 506.5h0M575.6 438.3h0M581.8 433h0M543.2 468.2h0M553.8 458.1h0M599.4 423h0M494.4 508.8h0M547 462h0M586.4 431.1h0M603.8 401.1h0M563.2 448.9h0M550.8 462.5h0M540.9 470.8h0M556.9 463.3h0M554 457.8h0M600.9 406.1h0M552.7 459.4h0M533.2 471.4h0M594.2 421.6h0M581 431h0M569.1 442.2h0M559 452.7h0M534.1 476.8h0M518.5 487.5h0M505.1 503.9h0M549.8 464h0M610 415.1h0M559.3 452.4h0M547.3 476.6h0M561.6 453.4h0M605.6 409.2h0M591.1 420.5h0M561.9 449.5h0M583.4 419.6h0M559 459.3h0M605.5 414.2h0M548.7 464.7h0M612.4 411.9h0M580.2 428.2h0M584.7 429.6h0M612.4 405.6h0M538.4 472.7h0M527.1 480.1h0M588.6 417h0M545.7 467.4h0M532.9 473.9h0M517.2 494h0M534.4 475.9h0M539.4 473.2h0M565.8 447.5h0M576.6 431.1h0M585.6 430.5h0M499.7 501.9h0M592.1 424.9h0M553.2 456.2h0M535.6 475h0M525.8 479.4h0M577.1 440.5h0M599.6 419.2h0M558.8 452.1h0M539.9 472.7h0M494 513.8h0M494.8 512.2h0M559 443.3h0M592.4 429.2h0M550.2 460.8h0M579.8 432.4h0M560.9 450.9h0M604.3 416.3h0M536.3 473h0M545.7 463.6h0M538.5 467.9h0M562.8 448.4h0M554.6 461.9h0M497.4 504.8h0M573.1 445.1h0M597.6 420.2h0M558.7 455.7h0M554.3 456.1h0M586.4 429.3h0M602.1 408h0M602.6 418.6h0M588.7 428.5h0M535.2 471.6h0M542.1 469.2h0M541.9 468.4h0M590.9 424.7h0M581.5 426.6h0M579.2 435.2h0M595.9 415.4h0M598.3 416.6h0M607.8 410.7h0M563.5 455.7h0M497.7 501.4h0M600.1 408.8h0M581.1 429.8h0M568.1 443.7h0M550.4 470.3h0M601.3 413.9h0M598.5 408.3h0M553.3 454.5h0M554.9 452.6h0M554 449.8h0M580.3 428.6h0M584.1 427h0M577.3 434.4h0M561.6 451h0M522.8 488h0M593.5 418h0M578.3 435.6h0M601.4 418h0M562.7 450.1h0M580.6 428.5h0M570 444.2h0M520.8 486.8h0M541.4 463.9h0M526.9 478.1h0M585.3 426.9h0M533.1 471.6h0M586.2 425.8h0M594.4 420.6h0M583.6 434.3h0M577.6 438.1h0M594.2 416h0M550.7 453.3h0M549.1 459.7h0M601.4 412.2h0M606.2 411.6h0M589.8 419.3h0M531 477.7h0M554.3 456.2h0M524.5 489.8h0M495.4 508.8h0M580.3 436.8h0M565.1 446h0M580.2 427.6h0M557.6 459.4h0M566.1 445.6h0M499.4 503.7h0M543.9 476.9h0M588.9 425.5h0M556.8 455.9h0M545.8 479.2h0M538.8 477.8h0M572.4 450.4h0M598.8 419.9h0M546.2 467.5h0M585.4 422.8h0M510.8 494.7h0M500.3 501.2h0M589.1 431.8h0M603.8 413.3h0M528.4 480.2h0M572.8 442.7h0M564.3 443.2h0M582.5 439.3h0M529.2 480.1h0M540.3 471.5h0M594.4 417.4h0M606.6 411.2h0M573.7 433.1h0M538.9 471.5h0M537.3 475h0M515.6 489.5h0M572.5 436.7h0M569.3 443.1h0M513.4 492.2h0M583.9 430.2h0M573.2 439.6h0M590.1 427.2h0M577.3 436.4h0M504.5 501.4h0M598.9 413.8h0M584.9 427.4h0M590.3 421.6h0M580.5 432.6h0M603.5 415.3h0M606.1 417h0M532.7 476.5h0M545.5 459.6h0M530.4 483.3h0M560 456.1h0M531.6 472.9h0M596.9 425.8h0M591.6 420.5h0M563.9 437.7h0M547.8 468.3h0M584.4 432.6h0M591.9 427.8h0M543.8 470.4h0M531.6 474.9h0M526.2 477.1h0M553.9 454.3h0M520.3 488.2h0M553.7 456.3h0M544.1 464.3h0M552.7 460.7h0M564.2 449.3h0M587.3 426.8h0M503.7 499.3h0M528.3 479.1h0M536.5 455.3h0M511.8 496.3h0M606.4 407.8h0M594.8 418.6h0M572.9 435.4h0M584.2 426.5h0M522.3 488.3h0M583.7 425.8h0M565.5 446.7h0M538.8 471.6h0M557.2 455.9h0M586.7 428.1h0M594.7 421.9h0M593.9 422.1h0M562.9 451.6h0M556.3 455.3h0M539 471.8h0M564.8 443.8h0M516.4 491.8h0M515.3 495.1h0M539.5 472.6h0M556.9 448.6h0M587.6 427.9h0M581.3 430.5h0M514.3 491.3h0M560.6 448.8h0M592.7 415.2h0M580.8 440.6h0M529.7 478.3h0M548.4 455.7h0M597.3 415.8h0M561.9 449.3h0M510 500.2h0M552 453.6h0M567.6 441.2h0M567.1 439.9h0M546.3 467.6h0M542.5 465.5h0M570.1 439.3h0M573.4 439.7h0M552.4 459.4h0M595.5 422.2h0M575.2 440.1h0M540.2 466.7h0M611.6 403.8h0M561.9 453.5h0M534.4 470.7h0M565.3 450.6h0M593.5 415h0M602.7 402.9h0M529.5 480.4h0M586.5 433.2h0M536.1 480.2h0M593 422h0M551.6 463h0M572.4 442h0M570.3 442.2h0M506.7 487.2h0M595.7 415.7h0M520.6 486.9h0M559 456.7h0M597.5 421h0M563.2 448h0M565.1 449.8h0M551.9 458.3h0M590.2 420.6h0M555.4 453.7h0M607.2 414.9h0M564 444.5h0M550.1 458.6h0M561.2 449.2h0M549.6 469h0M609.1 411.7h0M610.1 411.9h0M544.9 466.3h0M531 480.2h0M594.5 414.1h0M559.7 454.7h0M537.9 472h0M578.8 439.2h0M595.9 413.4h0M611.6 402.7h0M560.9 452.8h0M578.9 427.6h0M524.4 487.8h0M561.5 451.8h0M565.4 451.8h0M564.2 445.7h0M583.6 428.3h0M559.3 451.1h0M584.1 429.2h0M575.5 434.4h0M597.9 420.8h0M541.7 467.8h0M573.8 437.7h0M493.5 513.8h0M586.1 428.2h0M565.1 450.7h0M574.7 437.3h0M598.3 416.8h0M608.6 409.7h0M574.7 430.4h0M549.6 455.7h0M501.3 502h0M560.4 451.2h0M538.7 469.5h0M551.6 455.6h0M558.2 455.7h0M585.3 427.6h0M550.9 456h0M609.5 404.6h0M557.3 464.2h0M584.7 426.4h0M588.5 422.4h0M507.5 498.7h0M591.7 423.8h0M548 466.6h0M547.5 464.7h0M554.5 458.2h0M539.2 468.5h0M547.6 463.4h0M596.5 415.5h0M523.7 480.7h0M596 417.3h0M580.6 432.9h0M582.4 428.6h0M523.6 489h0M561.3 451h0M493.7 507h0M549.9 462.4h0M583.4 434.4h0M554.6 454.8h0M501.9 500.9h0M538 475.4h0M527.5 483.4h0M574.7 436h0M563.9 444.6h0M582.2 430.5h0M571.2 451.4h0M544.7 467.5h0M539.7 471.5h0M607.4 401.7h0M574.1 445.3h0M571.2 436.6h0M569.4 454.6h0M585.4 419.7h0M611.5 414.9h0M598.5 416.4h0M552.5 460.3h0M541.1 466.2h0M593.6 418.4h0M591.8 423.8h0M545.7 464.6h0M533.1 472.8h0M583.8 430.3h0M516.9 491.8h0M561.4 447.6h0M542.9 463.7h0M562.1 458.6h0M581.5 431.9h0M573.3 438.7h0M595 415.6h0M511.7 497.4h0M588.4 424.7h0M524.6 487.6h0M511.6 495h0M595.9 418h0M576.1 431.4h0M570.5 443.3h0M563.4 446.7h0M540.1 474.1h0M596.9 418.5h0M542 462.5h0M583.6 423.5h0M553.2 456.4h0M567.6 443.3h0M552.8 462.3h0M501.8 502.1h0M557.2 466h0M561 444.2h0M575.4 441.9h0M601.9 418.5h0M569.9 438.7h0M577.1 436.6h0M559 451.6h0M565.2 451.5h0M586 430.4h0M609 410.4h0M597.3 420h0M591.2 419.9h0M542.5 467.5h0M520.5 480.5h0M579.1 427.5h0M554.5 457.3h0M533.4 471.3h0M534.7 477.3h0M577.6 435.2h0M542.5 457.5h0M541.7 467.2h0M549.4 465.6h0M568.3 450.3h0M572.4 444.4h0M580.2 436.2h0M530.8 476.1h0M593.5 420.5h0M588.5 424.6h0M503.8 503.8h0M593.2 415.8h0M584.8 423.1h0M545.8 463.6h0M540 469.1h0M543.6 463.4h0M593 423.7h0M587.2 426.9h0M531.2 478.7h0M513.9 494.6h0M567 447.5h0M610.7 411.6h0M587.4 431.9h0M561.6 456.2h0M504.3 506.7h0M566.4 446.4h0M556 454.5h0M556.2 457.8h0M600.7 409.5h0M548.5 460.1h0M568.5 448.5h0M585.1 428.9h0M587 417h0M581.5 433.6h0M570.1 446h0M581.2 424.5h0M606.4 420h0M553.8 461h0M584.9 425.2h0M562 446.3h0M560.3 450.8h0M587.2 432.6h0M573.6 437.1h0M612.2 414.1h0M550.9 465.3h0M559.7 450.2h0M493.7 507.2h0M527.1 483.8h0M599.7 412.5h0M578.1 441.4h0M534.1 475.6h0M527 482.6h0M529.4 484.9h0M567.8 447.3h0M559.1 455.6h0M563.8 450.2h0M600.8 418.8h0M529.5 480.1h0M570.7 436h0M605.2 411.7h0M602.5 411.3h0M494.9 510.1h0M593 422.8h0M519.6 485.6h0M577.9 433.3h0M577.1 435.6h0M526.3 482.6h0M593.2 425.1h0M511.8 488.6h0M559.6 451.4h0M496.3 507.8h0M514.9 492h0M579.3 438.1h0M570.3 438.5h0M590.6 425.3h0M564.6 451.8h0M575.9 438.8h0M544.8 462.8h0M592.3 429.1h0M583.5 435.9h0M540.5 467.7h0M493.1 501.4h0M565.5 441.6h0M565 441.7h0M539.1 478.5h0M581.5 435h0M513.6 493.6h0M502.5 504.9h0M534.6 473.2h0M525.9 477h0M536.4 476.6h0M587.4 428h0M574.9 431.1h0M498.4 506.2h0M554.1 456.7h0M576.7 443.6h0M561.2 452.4h0M578.2 429.8h0M605.9 414.6h0M523.3 481.2h0M578.6 443.1h0M589 427.8h0M580.8 430.4h0M562.6 446.2h0M543.2 473.8h0M527.4 483.2h0M569.6 444.1h0M593.6 422.2h0M500.3 497.7h0M564.1 455.5h0M564.1 450.8h0M584.9 428.3h0M558.2 451.7h0M580.1 430.8h0M573 438h0M571.5 440.7h0M587.5 430.9h0M541.1 465.2h0M552.1 455.9h0M564.7 444h0M524.4 481.2h0M553 459.8h0M541.2 473.6h0M605 406.9h0M568 451.7h0M565.2 446.8h0M545.6 462.6h0M524.2 477.4h0M583.5 436.3h0M566.1 447.9h0M548.4 463.4h0M496.8 504.9h0M572.9 443h0M580.7 436.8h0M602.1 413.1h0M533.8 472.3h0M533.5 477.4h0M565 447h0M595.2 419.5h0M573.6 437.5h0M578.3 430.9h0M512.6 491.6h0M584.5 430.6h0M584 426.8h0M529.5 484.1h0M563.9 445.1h0M566.2 449h0M587.3 420.1h0M573.3 435.6h0M560.6 452.8h0M581.4 435.1h0M568.3 447.8h0M563 446h0M512.7 495.2h0M525.1 483.2h0M604.7 408.6h0M541.9 467.7h0M515.9 486.8h0M550.1 455h0M566.3 446.8h0M587.7 424.7h0M551.5 456.1h0M585.6 433.3h0M550.9 462.5h0M519.2 492.8h0M569.8 437.9h0M532.5 482.1h0M528.9 486.6h0M552.5 455.1h0M573.1 437.8h0M556.8 451.8h0M599.6 410.8h0M540.1 469.5h0M549.2 455.7h0M585 428.6h0M592.8 421.9h0M527.8 475.8h0M532.7 479.9h0M552.2 459.2h0M572 437h0M498.3 504.9h0M539.9 475h0M577.8 439.8h0M521.2 483.1h0M496.7 510.3h0M590.2 420h0M573.6 433.3h0M601.8 416.4h0M602.3 410.9h0M582.7 426.2h0M528 479.1h0M571.2 444.4h0M559.6 454h0M556.7 450.9h0M561.8 448.6h0M568.4 439.3h0M534.8 472.7h0M578.4 433.5h0M548.4 466.6h0M529.9 484.3h0M541.4 463.4h0M594 423h0M612.5 401.1h0M527.2 479.8h0M586.5 429.6h0M592.7 426.3h0M602.4 410.8h0M596 416.9h0M493.3 509.5h0M565.7 448.4h0M534 474.7h0M583.3 433h0M587.3 433h0M596.3 427.9h0M548.5 463.3h0M582.8 430.8h0M574.2 437.8h0M576.5 439.4h0M528 477.2h0M540.4 469.4h0M548.1 455.3h0M562.6 448.4h0M572.4 438.2h0M512.3 495.9h0M559 460.7h0M550.1 461.2h0M508.5 492.7h0M552.1 458h0M545.4 459.7h0M596.8 423.2h0M562.7 453.8h0M586.4 423.5h0M558.6 451.1h0M528.5 482.9h0M579.8 433.7h0M592.2 413.8h0M595.9 421.2h0M548.8 461.3h0M521.8 476.9h0M581.1 433.3h0M540.7 469.1h0M512.6 491.2h0M554.1 453.8h0M564.6 445.4h0M608.1 419.7h0M495 504.9h0M567 447.3h0M571.1 437.6h0M554.8 455.7h0M545.1 461.1h0M585.6 429.4h0M505.3 500.5h0M559.3 454.2h0M567.9 446.2h0M588.5 425.2h0M554.4 459.9h0M581.2 432.5h0M608.7 404.3h0M584 426.1h0M562.3 451.7h0M536 479.9h0M577.2 432.4h0M584.5 419.2h0M612.6 401.1h0M515.3 489.8h0M524.9 485.3h0M599.6 410.2h0M577.3 433.7h0M572.7 439.7h0M577.9 435h0M595.4 416.4h0M560.2 451.4h0M495.2 502.5h0M589.7 425.9h0M575.4 438.2h0M541 470h0M535.9 477.6h0M502.2 502.7h0M513.5 493.9h0M523.5 488.1h0M575.1 433.2h0M603.6 406.1h0M559.1 455.8h0M512.7 493.4h0M499.3 406.7h0M505.2 403.7h0M504.1 403.1h0M496.1 405.4h0M502.2 406.9h0M495.8 404.3h0M502.1 405.9h0M501.7 403h0M495 405.1h0M504 404.5h0M495.1 405.1h0M495.5 404.3h0M502.2 404.8h0M499.4 404.3h0M609 511.7h0M608.2 507.6h0M609.9 512.4h0M610.7 511.4h0M610.5 512h0M609.5 511.6h0M614.3 508.4h0M607.7 510.7h0M613.2 508.2h0M611.2 507.6h0M611.2 507.3h0M612.4 512h0M611.9 508.7h0M609.1 512.3h0" stroke="#d5d5d5" stroke-width="2.1" stroke-linecap="round" fill="none"/>
<path d="M560.3 432.7h0M562.9 430.1h0M579.5 414.3h0M570.6 424.6h0M561.1 429.2h0M566.8 431.1h0M568.3 428h0M562.8 436.7h0M548.4 449.9h0M547.2 455.1h0M566.6 433.6h0M579.8 419.5h0M577.3 421h0M576.8 417.8h0M578.5 405.6h0M569.8 434.7h0M555.8 437.5h0M556.9 437.5h0M560.6 437.7h0M561.6 440.3h0M551.8 445.7h0M558.5 440.8h0M553.6 439.3h0M546.7 447.1h0M570.9 428.6h0M579.2 417.2h0M554.6 437.8h0M568.5 428.7h0M561.5 435.5h0M568.8 423.3h0M567.2 431.1h0M546.3 453.2h0M551.9 449h0M573.3 431.2h0M547.1 443.8h0M552.9 448.5h0M572.2 425.6h0M546.8 444.2h0M571.6 425.8h0M574.1 426.5h0M574.4 420.8h0M565 429.6h0M548.5 447.4h0M566.9 433.4h0M562.3 438.1h0M551.2 446h0M572.6 422.6h0M557.2 442.7h0M551.1 453.9h0M562.6 432.6h0M569.2 424.9h0M574 421h0M566.5 431.7h0M559.2 439.4h0M566.2 438h0M554.4 440.7h0M546.9 446.8h0M549.6 443.3h0M571.2 431.2h0M567.4 425.8h0M574.6 430.4h0M570.9 427.5h0M562.8 426.5h0M574.4 421.7h0M554.1 443.9h0M555.3 442.9h0M553.9 446.3h0M546.4 447.6h0M572.5 429.2h0M566.5 441.2h0M559.8 436.5h0M573.5 419.4h0M578.4 425.2h0M561 433.1h0M555.8 434.9h0M578.2 429.5h0M577.2 427.1h0M569 434.6h0M559.4 441h0M546.8 447.9h0M553.6 439.3h0M579.3 421.7h0M546.1 448.6h0M557.9 437h0M571.2 430.5h0M564.9 438.4h0M564.4 437h0M547.5 443.4h0M558.7 432.8h0M556.3 436h0M571.3 425.9h0M571.9 421.1h0M546.2 449.6h0M577 428.1h0M571.2 428.5h0M564.4 428.6h0M555.9 447.3h0M560.4 439.2h0M561.3 434.2h0M566 433.2h0M557.7 439.7h0M558.4 436.8h0M546.4 449.3h0M557.6 443.2h0M545.1 451h0M546.2 449.8h0M576.1 425.3h0M547.5 450.9h0M567.2 433.2h0M553.1 447.3h0M574.5 421.8h0M570.7 423.7h0M559.7 433.8h0M552.1 439.5h0M577.3 418.4h0M546.6 452.6h0M560.9 437h0M576.8 425.5h0M568 433.3h0M562.8 436.7h0M546.6 455.5h0M555.7 439.7h0M569.3 427.8h0M568.2 430.3h0M560.4 430.4h0M564.8 441.3h0M576.3 425.5h0M579.7 423.9h0M560.7 439.4h0M560.8 424.9h0M569.1 420.6h0M577.7 426.7h0M578.9 424.4h0M573.9 423.5h0M552.6 448.9h0M594.9 404.6h0M586 416.9h0M595.6 409.3h0M590.6 413.5h0M588.8 415.4h0M602.6 402.2h0M596.4 410.4h0M588.4 414.8h0M586.1 415.6h0M579.4 418.9h0M595.6 403.5h0M595.4 407h0M582.8 419.8h0M596 412.2h0M593.3 403.3h0M595.4 411.7h0M590 413.9h0M593.9 410.5h0M600.3 408.2h0M585.8 415h0M602.3 401.1h0M594.6 416.9h0M589.4 414.7h0M592.7 407.8h0M580.9 421h0M597.2 407.6h0M581.7 417.3h0M582.2 425.3h0M601.4 405.5h0M578.4 429.5h0M596.3 407.2h0M591.1 416.4h0M593.1 406.2h0M602.4 402.5h0M582.3 416.8h0M599 403.8h0M599.1 405.8h0M586.6 416.2h0M592.1 411.3h0M590.7 416.6h0M596.3 406.3h0M585.3 413.6h0M584.7 412.2h0M587.3 415.7h0M587.5 416.5h0M521.6 465.1h0M548.6 437.5h0M547.7 449.5h0M548.6 449.9h0M533.8 453.9h0M523.1 465.6h0M534.5 450.6h0M527.4 458.7h0M546.8 439h0M526.3 457.7h0M521.4 464.9h0M542.8 444.1h0M526 465.8h0M543.4 444.5h0M521.7 476.9h0M539.7 451.3h0M548.7 441.1h0M530.4 454.8h0M542.4 446.9h0M536.3 448.6h0M520.9 474.1h0M524.2 454.4h0M542.4 445.1h0M542.4 448.7h0M522.4 467.6h0M520 472h0M530.9 458.6h0M538 469h0M543.7 453.2h0M546.8 446.2h0M526.2 469.1h0M527.5 455.1h0M537.7 451.9h0M540.3 449.7h0M534.2 455.7h0M521.5 471.9h0M537.1 445.7h0M528.7 458.7h0M545.4 449.4h0M530.6 454.4h0M533.8 452.5h0M540.7 446.1h0M520.6 469.7h0M547.4 451.2h0M548 446h0M523.5 472.7h0M527.9 454.8h0M534.2 461.3h0M531.7 458.6h0M546.3 431.6h0M549.7 437.6h0M519.9 475.6h0M526.7 469.1h0M532 460.8h0M539 446.8h0M546.1 447.6h0M541.6 449.4h0M546.9 432.9h0M541.3 451.9h0M529.7 464.5h0M532.5 451.4h0M548.3 448.2h0M525.2 459.7h0M546.2 444.4h0M529.1 455.8h0M534.7 456.2h0M541.7 448.6h0M542 448.3h0M544.4 451.9h0M521 467.7h0M514.2 472.1h0M520.2 469.3h0M511.3 480.4h0M510 476h0M517.9 471.8h0M519.7 466.6h0M512 474.4h0M518 476.1h0M516.8 473.1h0M518.8 474.7h0M512.6 479.1h0M513.5 477h0M516.7 470.8h0M514.7 473.4h0M516.1 476.3h0M519.7 463.2h0M518.3 478.4h0M517.7 470.2h0M518.3 468h0M512.5 475.3h0M500.2 492.3h0M504 483.4h0M497.6 490.4h0M498.8 493.9h0M497.6 500.7h0M499.7 492.7h0M506 488h0M499.4 493h0M498.4 490.4h0M504.9 489.5h0M493.4 501.2h0M497.4 490h0M508.6 485.3h0M505.5 483.6h0M508 485.7h0M503.8 494.9h0M496 500.7h0M505.1 482h0M493.6 499.1h0M499.2 489.9h0M502.2 491.8h0M506.6 481.3h0M507.9 489.4h0M495.4 493h0M497.4 502.2h0M498.7 497.2h0M493.2 497.2h0M505.2 481.2h0M501.5 497.2h0M495.3 493.7h0M498.7 491.5h0M500.6 490.8h0M501.7 485.1h0M507.8 482.5h0M495.3 492.3h0M501.3 493.1h0M508.4 488.4h0M507.9 483.4h0M493.4 502.5h0M497.1 501h0M563.1 461.9h0M565.8 448.7h0M544.5 473h0M551.3 472.3h0M557.4 447h0M548.4 467.8h0M562.7 463.4h0M566.8 455.1h0M564.1 453.5h0M545.3 469h0M555.8 467h0M547 472h0M544.5 470.4h0M552.2 464.6h0M557.2 463h0M493.7 419.5h0M494.7 415h0M500.2 406h0M594.3 508.8h0M599.3 507.5h0M604.4 509.7h0M606.9 506.1h0M609.4 499.8h0M609.9 496.7h0M610.4 493.5h0M611.9 498.5h0M608.9 503.9h0M612.9 509.3h0M540 403.3h0M513.8 442.1h0M525.4 441.2h0M550 496.7h0M524.4 509.7h0M509.3 508.4h0M517.4 500.7h0" stroke="#2e5aa0" stroke-width="2.3" stroke-linecap="round" fill="none"/>
<line x1="486" y1="516.5" x2="619" y2="397.3" stroke="#2b2b2b" stroke-width="1.3" stroke-dasharray="3 1.8"/>
<path d="M486 397.6V516.5H618" fill="none" stroke="#6b6b6b" stroke-width="0.95"/>
<path d="M492.2 516.5v5.6M486 511.1h-5.5M512.3 516.5v5.6M486 493.1h-5.5M532.4 516.5v5.6M486 475h-5.5M552.6 516.5v5.6M486 457h-5.5M572.7 516.5v5.6M486 438.9h-5.5M592.8 516.5v5.6M486 420.9h-5.5M612.9 516.5v5.6M486 402.9h-5.5" stroke="#6b6b6b" stroke-width="0.95" fill="none"/>
<text x="492.2" y="532.9" font-size="9" fill="#4a4a4a" text-anchor="middle" stroke="#4a4a4a" stroke-width="0.08">0</text>
<text x="475.4" y="514.4" font-size="9" fill="#4a4a4a" text-anchor="end" stroke="#4a4a4a" stroke-width="0.08">0</text>
<text x="512.3" y="532.9" font-size="9" fill="#4a4a4a" text-anchor="middle" stroke="#4a4a4a" stroke-width="0.08">4</text>
<text x="475.4" y="496.4" font-size="9" fill="#4a4a4a" text-anchor="end" stroke="#4a4a4a" stroke-width="0.08">4</text>
<text x="532.4" y="532.9" font-size="9" fill="#4a4a4a" text-anchor="middle" stroke="#4a4a4a" stroke-width="0.08">8</text>
<text x="475.4" y="478.3" font-size="9" fill="#4a4a4a" text-anchor="end" stroke="#4a4a4a" stroke-width="0.08">8</text>
<text x="552.6" y="532.9" font-size="9" fill="#4a4a4a" text-anchor="middle" stroke="#4a4a4a" stroke-width="0.08">12</text>
<text x="475.4" y="460.3" font-size="9" fill="#4a4a4a" text-anchor="end" stroke="#4a4a4a" stroke-width="0.08">12</text>
<text x="572.7" y="532.9" font-size="9" fill="#4a4a4a" text-anchor="middle" stroke="#4a4a4a" stroke-width="0.08">16</text>
<text x="475.4" y="442.2" font-size="9" fill="#4a4a4a" text-anchor="end" stroke="#4a4a4a" stroke-width="0.08">16</text>
<text x="592.8" y="532.9" font-size="9" fill="#4a4a4a" text-anchor="middle" stroke="#4a4a4a" stroke-width="0.08">20</text>
<text x="475.4" y="424.2" font-size="9" fill="#4a4a4a" text-anchor="end" stroke="#4a4a4a" stroke-width="0.08">20</text>
<text x="612.9" y="532.9" font-size="9" fill="#4a4a4a" text-anchor="middle" stroke="#4a4a4a" stroke-width="0.08">24</text>
<text x="475.4" y="406.2" font-size="9" fill="#4a4a4a" text-anchor="end" stroke="#4a4a4a" stroke-width="0.08">24</text>
<text x="513.2" y="387.8" font-size="9.5" fill="#2a2a2a" stroke="#2a2a2a" stroke-width="0.1">n = 324 : 1060</text>
<text x="550.5" y="545.6" font-size="9.5" fill="#4a4a4a" text-anchor="middle" stroke="#4a4a4a" stroke-width="0.08">Mesophyll Cell</text>
<text x="550.5" y="556.6" font-size="9.5" fill="#4a4a4a" text-anchor="middle" stroke="#4a4a4a" stroke-width="0.08">(Cluster S7)</text>
<text transform="translate(445,457.5) rotate(-90)" font-size="9.5" fill="#4a4a4a" text-anchor="middle" stroke="#4a4a4a" stroke-width="0.08">Mesophyll Cell</text>
<text transform="translate(456.5,457.5) rotate(-90)" font-size="9.5" fill="#4a4a4a" text-anchor="middle" stroke="#4a4a4a" stroke-width="0.08">(Cluster S0)</text>
<path d="M165.4 649h0M162.8 653.8h0M197.7 617.8h0M190.2 625.2h0M102.5 707.2h0M178.6 637.2h0M185.1 629.5h0M160 657.7h0M166.6 648.2h0M192.3 620.3h0M180.3 637.7h0M120.2 689.2h0M132.5 678.7h0M208.3 612.8h0M184 633.4h0M161.1 647.8h0M180.6 636.3h0M191.1 625.2h0M175.6 643.7h0M160 650.2h0M156.9 659.1h0M170.5 635.7h0M201.3 622.1h0M164.2 641h0M178.9 639.5h0M92.8 706.4h0M140.9 672.4h0M177.6 629.6h0M120.1 692.9h0M186.1 626.7h0M183.7 635.6h0M197 625.6h0M116.9 692.2h0M190.2 621.6h0M211 610h0M203.1 615.6h0M184.8 630.2h0M142.2 672.1h0M183.1 635.6h0M177.3 637.6h0M203.7 610.3h0M179.3 634h0M165.7 645.4h0M185.7 629.4h0M174.7 642.9h0M102.5 703.2h0M144.6 667.9h0M128.9 677.9h0M138 674.7h0M167.1 650.1h0M187.1 629.9h0M180.8 635.7h0M176.3 639.2h0M197.4 631.7h0M102.8 701.8h0M92.8 716.6h0M158.6 655.4h0M187 620.4h0M144.5 665h0M115.9 694.4h0M173.8 654.9h0M153.8 657.2h0M164.7 653.1h0M150.8 666.8h0M176.4 638.6h0M161.7 650.1h0M170.9 641.8h0M119 689.9h0M130.4 670.3h0M114 698.8h0M179.7 634.5h0M153.3 656.9h0M138 679.3h0M172.6 636.1h0M134.3 681.6h0M178.1 633h0M186.4 631.3h0M173.8 638.5h0M172.3 646.5h0M162.5 651.5h0M154.3 658.9h0M194.2 633.6h0M200.3 616h0M186 627.6h0M122.1 692h0M181.6 640.5h0M197 621.5h0M189.2 634.6h0M160.9 653.5h0M161.3 652.9h0M91.9 718h0M191.8 631h0M138.5 672.7h0M157.8 656.9h0M109 703.9h0M157.8 646.7h0M168.9 640.8h0M179 637.4h0M206.6 608.5h0M140.9 666.6h0M144.2 667.2h0M175.3 649.5h0M136.9 674.8h0M178.8 636.9h0M166.7 655.1h0M131.5 681.1h0M159 654.8h0M201.3 618.2h0M145.8 659.5h0M161.5 650h0M197.7 622.8h0M102.3 705.4h0M152.7 662.3h0M191.9 619.6h0M181.4 637h0M168.8 646.6h0M154.3 662h0M154.1 655.4h0M120.6 686.4h0M171.8 644.4h0M113.6 700.9h0M124.4 685.8h0M161.5 650.8h0M115.9 696.9h0M165.2 647.9h0M103.3 699.7h0M125.1 685.7h0M137.8 674.8h0M151.1 663.6h0M122.9 692h0M118.2 691.3h0M202.4 614.1h0M141.2 671.7h0M194.9 628h0M197.6 617.9h0M159.5 652.1h0M196 613.2h0M165.1 654.1h0M116.7 685.3h0M100.6 704h0M98.9 710.1h0M136.7 666h0M194.8 622.5h0M155 664.2h0M119.5 689.6h0M164.9 649.8h0M172.9 640.7h0M181.4 635.2h0M153.9 658.8h0M173.9 645.9h0M166.7 653.2h0M116 696.6h0M91.8 714h0M129.2 693.5h0M105.9 702.1h0M157.2 655.8h0M108.9 698.9h0M151.4 659.7h0M89.5 715.7h0M138.8 669.5h0M176.2 646.9h0M151.5 662h0M160.9 653.5h0M177.7 632.1h0M118 693h0M195.4 618.9h0M182.2 626.6h0M167.1 644.2h0M167 645.5h0M161.2 653.6h0M186.6 625.7h0M199.4 612h0M134.5 684.4h0M150.4 665h0M176.1 633.1h0M207.2 610.3h0M144.2 658.8h0M178.4 640.1h0M142.7 669.8h0M135.9 678.9h0M205.2 613.3h0M183.4 632.8h0M124.6 687.9h0M184.6 633.3h0M191 612.7h0M165.7 651.8h0M169.8 638.6h0M206.7 612h0M149.6 660h0M110.8 698.6h0M160.7 651.9h0M196.5 629.3h0M164.4 655.1h0M140.1 674.9h0M195.9 622.6h0M103.9 701.7h0M157.4 651.9h0M116.8 699.7h0M139.3 675.5h0M185.6 626.3h0M101.4 708.8h0M182.5 638.5h0M109.7 700.5h0M152.2 665.6h0M142.3 671.2h0M104.3 705.4h0M157.3 659.9h0M163.5 645.9h0M152.4 657.9h0M127.2 679.2h0M107.1 706.9h0M167.5 644.8h0M177.3 643.1h0M160.8 650.8h0M198.6 616.1h0M177 643.6h0M135 683.6h0M157.5 657.4h0M172.3 644.3h0M160.3 654.8h0M140.3 668.9h0M208.4 607.3h0M106.5 705.8h0M167.5 644.8h0M160.7 651.9h0M102.4 706.9h0M157.5 652.8h0M168.7 642.3h0M139.9 676.8h0M107.8 701.1h0M191.7 630.2h0M156.2 658.1h0M124.9 688.1h0M108.8 696h0M180.6 637.1h0M151.1 657.1h0M193.5 625.9h0M190 629.4h0M160.6 653.4h0M161.7 654.9h0M205.1 623.1h0M124.4 687.8h0M118.2 702.9h0M195.4 622.3h0M177.3 640.1h0M170.9 638h0M122.3 688.4h0M199.9 611.3h0M119.8 694.2h0M185.4 632.5h0M192.1 626.2h0M187.3 629.5h0M139.1 673.1h0M185.6 639.2h0M174.4 641.2h0M147.4 664.3h0M195 624.1h0M168.2 643.2h0M188.3 636.3h0M138.4 673.2h0M164.6 652.9h0M178.7 640.6h0M99.6 706.7h0M107.3 704.2h0M198.6 619.5h0M134.5 672.3h0M143.9 666.1h0M185.1 636.6h0M174.3 647.1h0M96.5 709.6h0M159.3 649.9h0M174.7 636h0M199.1 616.4h0M202.1 622.8h0M147.1 669.1h0M189.6 625.2h0M180.1 628.5h0M124.5 689.2h0M182.1 634.9h0M129.6 684.7h0M169.1 640h0M169.5 641.8h0M156 667.7h0M200.7 624h0M188.3 632.6h0M171.5 649h0M91.8 709.1h0M206.6 610.9h0M116.2 692h0M157.1 657.7h0M137.1 669.6h0M143 673.6h0M183.2 630.3h0M187 637.1h0M163 656h0M133.8 681.5h0M133.7 677h0M134.1 674.7h0M165.6 648.9h0M173.8 648.3h0M114.7 698.2h0M109.9 700.9h0M165.7 638.5h0M90.8 714.1h0M205.1 610.4h0M119.3 691.5h0M133.3 679.1h0M119.5 689.6h0M113 695.9h0M120.3 686.3h0M190 628.6h0M148.2 661.2h0M113.2 692.4h0M167.3 651.5h0M168.2 643.9h0M169 648.3h0M204.9 618.5h0M187.3 627h0M158.8 653.3h0M142.3 671.3h0M172.1 644.6h0M114.7 693.7h0M205.7 615.9h0M97.3 707.6h0M133.4 678.7h0M146.6 669.1h0M175.7 636.4h0M125.3 678.7h0M171 645.3h0M181.5 632.4h0M170.7 643.5h0M197.2 617.4h0M188.1 637.5h0M101.7 710.7h0M139.3 673.2h0M173.9 640.9h0M149.5 657.4h0M176.6 644.8h0M165.5 656.1h0M133.8 677.2h0M118 691.1h0M193.4 613.4h0M157.3 657.2h0M162.5 641.1h0M204.1 611.7h0M157.1 658h0M163.1 643.3h0M207 624.9h0M149.4 661.2h0M186.3 634.7h0M170.7 638.9h0M164.6 645h0M144.2 671.9h0M189 627.4h0M155.7 647.3h0M140.6 673.1h0M207.2 612.8h0M111.8 690.8h0M168.2 647.8h0M156.2 650.7h0M169.1 640.3h0M148.8 659.1h0M90.4 711.8h0M174.2 637.8h0M140.7 674h0M107.6 700h0M136.4 678.9h0M129.5 680.7h0M152.5 661.3h0M198.2 617.5h0M149.2 669.2h0M140.3 673.1h0M135.8 670.3h0M158 653.8h0M157.8 657.9h0M161.9 650.2h0M202.1 613.5h0M157.7 655.6h0M191.2 623.4h0M93 719.4h0M132.3 682.4h0M210.1 609.4h0M194.8 616.7h0M207.8 622.3h0M184.5 635.5h0M162.9 654.4h0M130.9 679.4h0M206 614.9h0M200.6 622.5h0M91.8 718.7h0M120.9 685.9h0M122.8 689.1h0M167.9 642.1h0M139.6 668.5h0M111.5 694.1h0M151.8 657.1h0M138.7 670.6h0M171 642.2h0M191.5 630.4h0M204.3 614.2h0M108.3 701.3h0M152.1 662.3h0M119.1 691.9h0M191.4 620h0M153.2 662h0M164 653.7h0M173.1 640.4h0M187.7 631.5h0M200.7 607.3h0M170.6 638.6h0M176.5 638.3h0M207.1 613.7h0M166.1 651.7h0M190.8 618.9h0M161.7 646.8h0M154.6 652.9h0M194.4 619.6h0M132.1 676h0M168.6 652.1h0M200.5 621.9h0M109.1 696.4h0M136.8 679.7h0M170.8 643.9h0M176.5 643h0M157.9 658.2h0M181.1 632.9h0M108.4 699.5h0M205.2 612.5h0M160.4 652.6h0M163.7 642.2h0M131.3 691.5h0M94.7 711.9h0M206 622.5h0M179.6 643.4h0M125 682.6h0M165.3 641.9h0M156.7 661.3h0M182.2 644.2h0M117.5 692.7h0M183.1 628.3h0M190.6 629.8h0M199 625.8h0M165 648.6h0M146.2 657.5h0M145.2 665.9h0M181.8 638.4h0M198.6 607.3h0M188.2 610.8h0M115 696.5h0M206.9 608.3h0M170.4 649.8h0M134.5 673.5h0M186.8 629.6h0M205.5 622.1h0M164.1 650.4h0M190.7 631.2h0M195.2 621.5h0M154 663.3h0M170.6 642.7h0M167.2 640h0M125 684.9h0M206.2 611.9h0M153.3 659.2h0M175.1 636.3h0M122.5 687.5h0M114.8 694.1h0M178.4 639.6h0M178.6 640.6h0M137.3 675.3h0M121.2 688.8h0M196.1 609.1h0M162.3 645.3h0M200.9 617.4h0M151.8 657.4h0M186.7 629.9h0M177 636.2h0M200.4 614.7h0M113.9 694.4h0M113.9 699.4h0M178.4 634.6h0M135.2 677h0M181.7 636.7h0M199.5 620h0M177.4 637.8h0M156.7 656h0M206.1 622.1h0M166.8 650h0M202.1 619.2h0M112.2 696.9h0M173.6 647.1h0M196.1 619.1h0M171 644.6h0M194.5 621.1h0M139.5 675.2h0M173.2 644.3h0M175 631.6h0M135.1 672.4h0M192.7 626h0M149.2 662.2h0M168.5 647.9h0M201.9 613.8h0M119.7 682.7h0M171.7 643.7h0M115.6 695.9h0M193.9 620.5h0M164.5 648.6h0M106.3 699.8h0M156 659.5h0M94.4 716h0M116.4 692.9h0M124.3 692.6h0M141.3 666.3h0M167.8 661.8h0M93.6 716.5h0M178.2 641.6h0M133.5 672.8h0M176.5 639.1h0M112.3 695.4h0M187.3 634.6h0M144 665.1h0M176.3 643.5h0M155.6 658.4h0M103.3 700.8h0M171.9 645h0M173.8 646.8h0M165.1 656.1h0M165.3 649.3h0M143.5 673.5h0M122.6 681.6h0M113.9 696.9h0M199.2 615.4h0M141.4 668.8h0M124.5 683.1h0M151.8 663.8h0M194.2 626.7h0M190.9 625.3h0M113.5 698.3h0M149.6 668.1h0M193.2 621.9h0M140.9 666.1h0M134.7 678.8h0M114.6 695h0M160.5 660.1h0M174.1 646.8h0M188.4 628.7h0M155.4 656.2h0M130.4 679h0M187.8 624.4h0M134 676.9h0M162.3 654.2h0M118 693.8h0M142.1 670.2h0M186.2 634.1h0M134.4 678.8h0M144 668.6h0M131.3 680.1h0M169.2 647.6h0M133.4 678.5h0M146.9 665.4h0M185.7 627h0M156.3 653.2h0M181.2 631.5h0M147.1 664.9h0M204.4 614.7h0M168.5 645.4h0M206.4 622.5h0M148.7 656h0M180.6 634.4h0M154 665.3h0M176.4 636.4h0M180 636.7h0M195.4 615.9h0M184.8 630.6h0M131.1 680.9h0M187.5 626.9h0M121 688.6h0M210.6 615.6h0M167.3 648.3h0M189.6 632.5h0M115 696.1h0M202.7 618h0M171.5 644.7h0M192.9 624.7h0M117.1 696.4h0M130.8 684.7h0M137.7 671.4h0M114.8 692.8h0M143.7 672.4h0M106.6 704.8h0M200.1 623.7h0M192.3 625h0M145.6 667.1h0M170.3 638.7h0M184 635.9h0M194.4 624.5h0M178.9 644.3h0M197.4 627.4h0M197.1 616.6h0M185 632h0M143.4 661.9h0M203.1 621.4h0M160.5 656.2h0M110.2 695.8h0M151.6 653.5h0M190 624.8h0M145.4 668.6h0M151.1 662.5h0M163 646.7h0M171.5 643.9h0M186.8 627.3h0M129.4 683.7h0M188 627.8h0M120.2 684.6h0M186.3 625.6h0M179.4 634.4h0M140.8 668h0M169.4 641.7h0M151.3 666.8h0M147.3 675.7h0M176 631h0M178.3 636.7h0M187.3 633.1h0M175.7 636.8h0M142.7 673.7h0M102.6 706.2h0M174.7 643.9h0M117.7 692.5h0M144.3 676.5h0M126.4 691.6h0M157.2 656.2h0M183.5 631h0M178.1 645.9h0M153.5 660.5h0M186.1 632.2h0M157.4 662.1h0M196 626.2h0M144.1 671.3h0M190.7 624.1h0M172.1 643.1h0M146.1 666.1h0M181.6 630.3h0M206.4 610.1h0M151.5 665h0M111 707.7h0M116.1 704.4h0M129.8 674.3h0M166.6 650.5h0M162.4 644.5h0M197.3 623h0M113.1 696.2h0M98.5 708.7h0M125.9 681h0M176.3 634.2h0M121.7 687.8h0M145.8 666.5h0M182.5 635.6h0M115.8 691.4h0M123.4 687.8h0M142.1 673.8h0M205.9 610.9h0M119.9 691.6h0M188.3 625.3h0M153.7 656.2h0M205.2 612.3h0M208.1 607.3h0M185.3 628.6h0M191.7 626.6h0M172.8 636.4h0M188.6 630.7h0M168.6 647.2h0M165.5 646.5h0M99.1 706h0M121.1 688.4h0M199.1 613.9h0M143.6 666.5h0M164.7 645.4h0M107.2 700h0M188.8 631.7h0M124.1 690.3h0M186.3 630.2h0M197.3 611.3h0M208 607.3h0M210.2 607.3h0M179.9 636.4h0M103.9 701.4h0M191 624.1h0M172.2 644.7h0M209.4 612.9h0M200 616.9h0M104.8 699.8h0M179.1 637.2h0M206.3 613.7h0M157.5 650.9h0M150.4 660.7h0M146.8 667h0M167.3 654.8h0M119.8 686.9h0M178.1 634.7h0M125.8 683.1h0M195.8 621.4h0M120.4 690.5h0M153.6 660.7h0M171.2 638.5h0M130.8 676.5h0M164.3 652.7h0M211 607.3h0M152.3 658.2h0M200.3 617.4h0M154.1 661.9h0M124.9 685.3h0M173.8 643.5h0M187.5 623.4h0M116.8 693.6h0M119.4 687h0M178.8 647.1h0M181.4 639.9h0M119.5 685.5h0M193.9 622.8h0M181.3 641.1h0M190.5 629.7h0M149.1 663h0M131.1 684.2h0M176.5 636.2h0M160.2 652.9h0M179.1 638.3h0M187.2 623.1h0M157.3 660.1h0M202.6 613.7h0M179.9 637.8h0M195.9 621.8h0M190.1 627.4h0M179.4 630.2h0M171.1 636.9h0M162.1 651.6h0M196.4 628.6h0M162.1 647.8h0M166.3 644.8h0M156.8 651.5h0M194.5 619.4h0M137.3 682.4h0M147.1 662.8h0M182 633.8h0M167.8 649.1h0M146.7 670.8h0M165.8 649.1h0M186.6 631.9h0M153.8 655h0M159.9 650.3h0M143.7 669.9h0M183.6 628.4h0M179.2 636.4h0M177.8 633.5h0M89.5 717.7h0M180.4 635.7h0M170.9 646.9h0M145.7 672.2h0M166.7 639.3h0M174.6 633h0M175.6 641.2h0M188.9 627h0M169.2 640.8h0M101 707h0M130.5 677.5h0M140 664.9h0M103.8 706.9h0M189.3 625.4h0M149.7 662h0M174.6 641.5h0M153.5 662.6h0M192.2 630.7h0M155.5 654.4h0M205.2 608.7h0M118 684.3h0M148.8 666.8h0M155.2 654.3h0M173.9 643.6h0M163.4 648h0M163.1 656.9h0M182.4 631.7h0M125.9 686.5h0M135.9 674.4h0M184 625h0M178.4 643.4h0M97 710.8h0M147.8 664.3h0M175.9 636.5h0M142.8 665.2h0M171.9 641.1h0M110 701.9h0M137 670.5h0M181.7 635.2h0M125.5 684.8h0M163.1 646.3h0M192.5 618.8h0M97.1 711.9h0M132.3 679.6h0M172.3 642.6h0M184.9 625.8h0M143.3 666.7h0M155.5 652.6h0M157.6 653.8h0M147.4 670.7h0M182.6 626.8h0M123.1 689.8h0M180.2 634.1h0M153.6 662.1h0M170 641.6h0M194.6 626.6h0M131.5 679.4h0M173.4 651.5h0M192.6 625.5h0M154.7 667.3h0M153.8 656.4h0M196.2 620.8h0M122.7 683.8h0M171.2 649.7h0M178.5 634.7h0M117.4 690.3h0M152.2 664.7h0M99.8 707.3h0M151 669.9h0M156.1 662h0M177.6 632.9h0M151.5 661h0M174.4 642.9h0M141.2 675h0M165.2 647.8h0M170.5 638.3h0M187.8 631.6h0M167.1 651.1h0M167.7 644.4h0M164.2 646.4h0M160.1 659.7h0M135.8 675h0M167.5 633h0M142 669.1h0M189.5 629.5h0M155.8 651.4h0M200.3 616.6h0M180.8 636.1h0M190.1 622.9h0M153.5 654h0M162 653h0M158.5 659h0M120.2 683.9h0M130.2 678.8h0M140.7 672.2h0M189.4 626.2h0M100.1 704.3h0M153.6 651.1h0M169.2 643.9h0M185.4 627.3h0M200.3 622.8h0M206.4 611.5h0M95 716.4h0M123.9 688.1h0M167.7 638h0M175.6 640.6h0M108.4 694h0M201.1 616.3h0M210.1 607.3h0M181.9 637.2h0M166.9 649h0M127.4 688.5h0M127.5 684h0M153.1 658.5h0M182.4 639.6h0M146.6 668.5h0M199.9 621.9h0M181.6 628.6h0M159.1 656.3h0M188.2 621.8h0M209.1 609.4h0M170.5 637.9h0M188.8 626.7h0M99.8 710.8h0M104.3 702.9h0M180.7 636.6h0M182.3 638.2h0M138.8 674.6h0M201.2 612.9h0M95.7 711.8h0M176.8 638.5h0M172.1 646h0M208.3 610.4h0M183.1 634.9h0M186.7 629.4h0M101.7 703.2h0M184.9 627.5h0M120.9 691.7h0M106.9 702.4h0M184.3 628.9h0M168.1 649.2h0M112.4 697h0M154.3 662.7h0M157 657.6h0M107.2 702.6h0M121.6 697.6h0M172.8 640.6h0M137.7 679.5h0M192.7 607.3h0M194.2 629.7h0M177.2 636.5h0M191.5 631.9h0M156.2 653.2h0M155.3 653.9h0M141.6 667h0M101.1 703h0M196.1 626.5h0M201.4 623.1h0M151.2 665h0M115.3 692.9h0M182.1 637.8h0M121.7 693.9h0M188.9 625.4h0M172 638h0M111.6 696.4h0M147.9 665.4h0M96.9 710.1h0M186.1 624.8h0M191.1 627.9h0M198.8 607.3h0M170.2 648.1h0M200.5 616.2h0M173.9 638.7h0M172 644.2h0M144.4 669.2h0M176.1 641.8h0M127.9 686h0M97.2 713h0M130.9 683.8h0M166.8 646.3h0M153.9 660.2h0M167.7 651.7h0M140.9 669.4h0M172 635.9h0M148 670.9h0M95.4 708.6h0M170.2 640.3h0M139.4 670.8h0M173.6 644.2h0M158.6 652.4h0M119.6 689h0M154.5 660.4h0M131.5 678.9h0M158.4 653.6h0M122.4 683.7h0M193.5 633.6h0M146 664h0M177 633.1h0M141.8 670.6h0M96.5 709.8h0M140.3 675.2h0M129 686.2h0M105.2 698.9h0M181.4 628.8h0M168.6 643.9h0M205.5 621.4h0M171.1 652.2h0M179.8 632.3h0M209.7 612.8h0M129.3 684h0M142.6 666.5h0M162.2 657.5h0M175.6 641.5h0M155.6 657.3h0M187.6 628.1h0M168 648.7h0M170.3 645.8h0M134 672.5h0M159.1 654.1h0M158.1 653.1h0M151.4 664.5h0M157.2 648.8h0M197 624h0M196.3 611.7h0M147.1 668.9h0M169.7 638.8h0M94.6 708.9h0M197.7 616.4h0M207.4 615.3h0M178.1 641.1h0M157.1 651h0M99.8 712.5h0M181.7 627.6h0M119.2 694.3h0M190.2 620.5h0M156.5 655.6h0M179.2 639.3h0M100.2 705.6h0M143.3 672.2h0M149 661.4h0M147.6 668.9h0M169.5 647.6h0M136.2 671.1h0M143.4 668.5h0M175.3 641.6h0M159.6 655.9h0M160.5 652.1h0M146.7 663.7h0M138.8 679.3h0M136.6 674.1h0M191.7 629.1h0M155.7 653.2h0M139.2 671.9h0M200.4 617.1h0M135.3 678.2h0M140.2 672.1h0M185 629.4h0M141.2 670.6h0M117.2 684.8h0M188.1 629.2h0M195.6 623h0M169.9 648.2h0M94 716.8h0M184.5 627h0M199.9 620.2h0M135 671.8h0M183.1 631h0M147.9 663h0M118.1 690.8h0M156 658h0M170.7 648h0M178 639.9h0M186 635.5h0M120.5 689.5h0M99.5 707.4h0M166.8 650.7h0M117.5 689.9h0M136.8 671.1h0M160.3 655.9h0M148.4 666.7h0M148.1 666.4h0M202.8 612.4h0M122 677.8h0M164.7 638.1h0M137.9 673.9h0M184.8 629.4h0M204.7 614.2h0M186 628.9h0M169.2 651.7h0M204.9 611.8h0M167 651.1h0M98.5 710h0M205.2 609.8h0M164.5 662.4h0M142.3 674.2h0M184.5 641.9h0M175.2 638.1h0M171.7 647.1h0M192 625.3h0M175.6 632.8h0M131.8 680.3h0M186.7 625.8h0M188.2 635.6h0M130 675.8h0M136.7 670.1h0M117.5 694h0M161.3 654.8h0M171.1 642.6h0M182.9 635.2h0M114 696h0M180.4 637.9h0M125.3 687.9h0M189.7 635h0M182.3 628.9h0M122.1 687.2h0M181.6 633.3h0M134 678.9h0M189.5 638.6h0M198.3 610.1h0M181.9 637.5h0M145.1 663.3h0M158.5 651.6h0M181.4 629.6h0M178.8 634.6h0M203.3 618h0M167.2 651.1h0M197.4 625.6h0M145.1 667h0M206.6 608.3h0M163.3 651.7h0M160.1 662.3h0M174.3 638.4h0M191.3 624.7h0M94.4 714.2h0M146.6 668.5h0M154.5 656h0M194 621.2h0M163.9 643.5h0M97.6 713.5h0M210.6 607.3h0M193.3 632.3h0M193.5 615.6h0M197.9 620.7h0M183.8 645.2h0M150.1 651h0M139.1 668.9h0M184.4 633h0M172.9 639.3h0M172.3 638.1h0M183.5 631h0M134.3 677.1h0M91.8 717h0M122.4 687.7h0M145.1 662.6h0M109.6 699h0M121.2 685.5h0M167.9 644.7h0M93.9 709h0M185.3 628.3h0M182 631.5h0M140.2 677.2h0M128.5 680.6h0M146.4 669.3h0M158.9 650.2h0M117.4 685.1h0M181.1 633.3h0M108.5 698.3h0M160.7 652h0M145.2 668.2h0M105.3 701.6h0M186.5 631.6h0M192.9 627h0M115 691.8h0M187.8 629.6h0M122.6 686.6h0M171.2 645.1h0M209.2 613.2h0M178.8 632.1h0M137.9 673.9h0M140.3 665h0M198.7 623.1h0M180.5 631.3h0M184.9 627.4h0M200.8 611.4h0M138.8 675.4h0M199 614h0M91.9 711.2h0M174.3 634.3h0M175 640.2h0M200.9 618.6h0M127.8 684.9h0M171.2 644.8h0M158.6 653.7h0M146.8 662.1h0M97.8 699.9h0M157 664.4h0M174.3 633.2h0M195.5 616h0M197.6 614.6h0M172.9 641h0M137.3 680.1h0M149.1 663.9h0M91 715.5h0M129.8 680.6h0M162.7 651.6h0M143.4 674.2h0M189 626.8h0M164.9 649.7h0M142.9 671.7h0M101 708.9h0M161.2 654h0M148.7 664.2h0M115.6 693.2h0M196.9 621.9h0M133.3 676h0M170.5 644.1h0M163.9 640.6h0M167.4 643.3h0M169.2 643.5h0M179 639.4h0M203.8 612.1h0M130.6 682.8h0M189.2 621.3h0M118.7 686.5h0M144.2 669.3h0M99.6 701.1h0M184.4 630.4h0M182.7 630.1h0M170 649.4h0M182 629.8h0M181 631.4h0M182 633.8h0M175.3 639.5h0M154 660.6h0M158 652.3h0M194.3 618.2h0M180.9 637.2h0M156.8 654h0M200.4 619.5h0M109.1 700h0M179.7 635.5h0M149.1 672.7h0M210.2 611.7h0M147.7 654.7h0M183.5 626.6h0M126.3 680.7h0M140 673.7h0M162.3 652.1h0M132.7 679.3h0M94.1 710.9h0M110.9 692.1h0M130.4 682.9h0M193.8 620.8h0M115.7 691.9h0M191.2 622.6h0M103.5 702.5h0M133.4 674.5h0M98.2 711.9h0M180.1 635.8h0M151.9 663.8h0M178.5 638.1h0M211 607.3h0M148.3 668.2h0M187.3 625.2h0M92.7 719.3h0M183.3 633.3h0M180.8 629.8h0M130.5 683.7h0M184.2 630.5h0M113.3 698h0M177.9 640.2h0M108.8 696.6h0M186.1 635.8h0M201.5 610.9h0M133.6 677.7h0M206.4 617.4h0M160.7 651.6h0M199.3 626.4h0M175.5 641.6h0M175.2 643.9h0M147.5 663.3h0M165.8 646.8h0M168.3 647.7h0M156 651.2h0M167.5 642.7h0M170.9 646.9h0M179.1 642.3h0M202.8 617.1h0M196.9 627.5h0M97.9 720h0M150.5 664.9h0M148.5 664.3h0M147.8 666.5h0M163.2 653.4h0M203.9 615.1h0M191.2 634.5h0M107.3 697h0M117 692h0M210.8 608.3h0M203.1 608.3h0M199 617.5h0M166.8 656.3h0M196.9 623.5h0M150.3 663.9h0M155.2 658.8h0M180.2 632.5h0M196.6 616.7h0M164.8 655.1h0M160.3 653.7h0M112.4 699.4h0M158.9 652.7h0M122.4 683.7h0M141.8 666.7h0M102.1 703.4h0M133.7 673.1h0M151.9 658.6h0M161.4 645.9h0M153.6 653.3h0M101.5 704.1h0M197.9 624.7h0M126.8 679.5h0M159.3 660.6h0M149.6 666.2h0M120.6 687.6h0M183.2 639.8h0M202.1 610.6h0M161.1 661.5h0M159.3 657.2h0M144.2 670.7h0M168.8 648.4h0M145.9 665h0M152.1 658.8h0M184.6 623h0M177.9 627.4h0M115.9 703h0M176.7 631.9h0M146 671.3h0M158.4 656.9h0M144.2 669.1h0M169.7 632h0M180.5 634h0M127.4 682h0M170.2 650.8h0M189.4 631.7h0M190 620.8h0M155.9 658.9h0M187 625.8h0M152.1 664.6h0M134.8 684.7h0M162.5 656h0M179.4 637.5h0M186.6 630.2h0M151.7 664.8h0M182.4 635.7h0M111.3 699h0M156 666.2h0M169.5 643.1h0M98.8 707.8h0M179.9 642.4h0M182.4 633.4h0M116.7 692.6h0M147.7 664.7h0M139.1 681.7h0M179.2 635.5h0M139 677h0M184.6 627.1h0M158.6 652.9h0M199.8 609.4h0M196.5 626.8h0M136.7 683h0M130.9 676.9h0M198.3 608.1h0M186.8 630.1h0M180.1 638.7h0M159.6 659.9h0M206.9 614.7h0M171.8 639.3h0M177 641.1h0M184.8 627.4h0M173.1 642.6h0M130.4 682.2h0M161.4 650h0M148.1 664.6h0M183.4 634.2h0M196.1 609.5h0M93 711.7h0M179.5 638.8h0M93.3 711.2h0M161.7 652.9h0M191.3 626.5h0M132.5 678h0M205.3 615.2h0M119.1 689.5h0M201.9 613.9h0M136.6 675.4h0M107.3 703.5h0M171.5 646.2h0M198.3 619.4h0M119.2 693.4h0M176.9 634.3h0M146.3 667.6h0M176.1 629.8h0M154 656.4h0M168.9 641.4h0M115.9 695.5h0M182.9 633.2h0M131.4 678.8h0M164.1 647.9h0M172.4 639.8h0M137.7 671.9h0M148.4 658.4h0M187.5 621.9h0M192.5 617.4h0M149.7 668h0M203.7 613.2h0M180.8 638.5h0M168.1 647.9h0M180.7 630.2h0M182.9 634.3h0M181.9 628.1h0M160.3 649.2h0M112.7 695.2h0M186.6 633.2h0M194.2 625.7h0M164.3 655.2h0M134.7 684.5h0M177.1 639.4h0M132.1 679.6h0M178.2 640.1h0M207.5 622.5h0M141.2 674.4h0M189.6 629.2h0M173.6 639.2h0M191.8 634.6h0M142.3 668h0M142.5 669.5h0M167 660.4h0M159.9 656.2h0M103.4 704h0M202.7 610.2h0M173.8 631.9h0M146.3 659.6h0M146.5 669h0M164.9 652.3h0M144.6 660.8h0M108.2 699.4h0M165.4 647.8h0M136.9 677.8h0M168.4 642.8h0M121.8 689.2h0M154.7 660.9h0M157 665.4h0M95.9 710.5h0M132.4 682.6h0M160.1 653h0M137.8 672.5h0M150.9 663.9h0M197 623.2h0M185.8 636.7h0M176.2 644.1h0M134.5 675.9h0M192 624.1h0M125 680.9h0M135.5 672.3h0M139.7 676.8h0M163 652.9h0M191.2 632h0M183.8 633h0M89.8 612.3h0M89.8 611.4h0M95.8 614.4h0M97.6 609.1h0M98.5 610h0M89.5 611.3h0M98.5 612.5h0M97.4 611.5h0M94.8 608.6h0M97 614.1h0M90.9 611.1h0M100.4 611h0M95.6 607.3h0M93.9 609.6h0M208.8 717.2h0M209 713.5h0M210.3 717.3h0M209.3 714.2h0M209 713.5h0M209.4 716.6h0M207.9 717h0M210.6 716.7h0M212.1 716.2h0M210.5 714h0M208 715.3h0M207.3 717.1h0M207.8 717.6h0M209 717.9h0" stroke="#d5d5d5" stroke-width="2.1" stroke-linecap="round" fill="none"/>
<path d="M154.5 638.6h0M152.1 655.3h0M148 644.9h0M150.8 658.5h0M159.4 651h0M159.2 640.7h0M166.1 640.7h0M189.4 614.8h0M165.5 639h0M141.8 661.7h0M182.3 620.9h0M144.1 661h0M168.9 639.1h0M149 647.4h0M150.4 657.4h0M174.5 628.8h0M151 650.4h0M155.1 647.6h0M168.1 638.1h0M170.8 640.1h0M157.2 646.8h0M161 649.9h0M155.2 647.5h0M144.5 650.8h0M144.1 652h0M170.5 636h0M157.8 650.2h0M145.4 652.7h0M187.8 619h0M189.3 616.8h0M157.8 647h0M157.3 644h0M172.6 634.1h0M181.3 624.3h0M181.4 622.9h0M153.1 654.1h0M174 628.8h0M185.8 623.6h0M191.3 614.8h0M143.7 661.8h0M161.4 646.3h0M125.7 682.1h0M161.9 642h0M188.7 621.7h0M190.2 619.7h0M151.4 651.4h0M162.5 644.4h0M151.1 657.4h0M156.8 647.3h0M144.5 654h0M182.1 621.6h0M136.7 665.1h0M150 653h0M157.2 640h0M169 633.2h0M155.2 656.4h0M155.9 646.7h0M175.2 627h0M130.1 671h0M179.8 627.5h0M154.6 646.9h0M171.1 636.4h0M181 622.7h0M176.7 628.7h0M158.3 644.1h0M149.3 655.6h0M168.8 637.3h0M172 636.9h0M162.4 646.4h0M154.2 652.8h0M173.6 632.5h0M141.8 660.7h0M157.6 644.2h0M158.9 644h0M183 622.6h0M148.8 656.5h0M148.2 657.3h0M177.7 631.6h0M147.1 655.4h0M142.4 661.6h0M175.3 632.1h0M163.2 640.8h0M178.4 622.5h0M156.2 647.1h0M171.4 637.4h0M166.9 640.7h0M148.6 648.1h0M151.1 656.1h0M146.7 661.2h0M140.4 665.2h0M152 648.3h0M183.1 621.5h0M119.3 682.1h0M175.1 623.9h0M165.7 632.6h0M159.1 640.5h0M141.1 662.3h0M156.3 645.5h0M157.5 643.6h0M169.7 643h0M157.1 641.9h0M139.3 662.1h0M168.7 632.3h0M134.5 664h0M161.6 640.7h0M127.7 681.8h0M166.3 631.7h0M166.7 634.9h0M123.5 674.3h0M178.6 628.2h0M164.7 641.4h0M117.4 678h0M131.4 665.5h0M118.2 681.6h0M148.1 659.1h0M147.7 648.8h0M160.3 646.5h0M136.2 663.7h0M150.4 653h0M168.2 633.8h0M177 630.1h0M126.9 672.9h0M170 640.1h0M156.5 645.1h0M159.6 643.9h0M127.7 673.6h0M150.4 650h0M196.5 609.5h0M154 655.6h0M146.2 646.1h0M197.3 611.5h0M151 647.6h0M145.1 658.2h0M169 639.4h0M155.5 642.2h0M145.3 650.9h0M156.6 646.6h0M140.7 656.9h0M135.6 668.1h0M170.3 630.2h0M146.8 650.3h0M153 652.6h0M149.8 646.5h0M160.4 642.3h0M134.6 661.9h0M162 640.9h0M160.8 644.3h0M128.6 672.5h0M175.3 632.2h0M151.4 651.7h0M152.5 648h0M159.6 641.4h0M137.3 669.5h0M164.9 638.6h0M140.3 664.8h0M147.9 658.3h0M141.9 658.6h0M161.7 643.8h0M185.9 629.4h0M129.7 669.1h0M176.6 627.2h0M164.6 631.1h0M176.1 629.9h0M181.9 629.3h0M150.3 653.3h0M159.7 646.8h0M157 644.4h0M159.9 644.1h0M148.2 657.3h0M158 648.1h0M169 637.6h0M178.4 628.3h0M177.4 626h0M128.2 681.2h0M179.8 624.4h0M166.8 633.7h0M200.1 611.9h0M186.6 623.2h0M160.2 641.6h0M149.1 655.9h0M179.8 623.8h0M155.1 651.2h0M147.2 652.1h0M161.7 648.9h0M186.1 621.2h0M171.5 630.4h0M120.3 678.9h0M126.6 679.3h0M160.8 647.2h0M141.9 659.6h0M159.5 647.8h0M174.3 629.6h0M141.7 656h0M182 622.6h0M158.7 640.8h0M165.6 641h0M160.4 644.1h0M197.1 608.7h0M162.1 643.9h0M192.5 608.7h0M130.9 670.1h0M133.3 665.5h0M156.1 644.2h0M181.7 622.5h0M133.8 665.4h0M161.3 637.7h0M180.7 625.3h0M181.3 630.6h0M152 644.9h0M151.6 648.7h0M185.2 625.3h0M172.9 632.3h0M181.6 622.6h0M167.5 635.3h0M162.7 639.5h0M158.9 644.5h0M173.3 633.4h0M175.3 632.4h0M169 637.7h0M148.7 652.5h0M166.6 647.7h0M134.8 663.2h0M135.1 667.4h0M153 652.9h0M157.1 646.4h0M158.7 649.9h0M178.8 629.1h0M178.9 621.9h0M186 621.5h0M175.2 631.2h0M176.7 629.7h0M160.6 645.3h0M187.6 612h0M163.6 642.4h0M133.1 665.8h0M169.5 633.7h0M162.1 646.5h0M182.9 623.1h0M160.2 639.7h0M168.3 637.2h0M170.9 633.2h0M144.8 655.4h0M161.7 647h0M175.1 626.6h0M169.6 631.1h0M145.8 660.2h0M188.8 617.2h0M188.8 618.3h0M156.1 649h0M183 620.9h0M174.5 635.4h0M173.8 628.5h0M175.4 630.8h0M155.4 641.5h0M133.9 672.9h0M188 617.9h0M179.3 628.3h0M148.1 655.1h0M159.1 640.1h0M184.9 612.2h0M191.4 617.4h0M126.1 671.8h0M176.4 634.7h0M182.1 625.9h0M190.4 621.7h0M145.9 651.2h0M144.8 656.7h0M144.2 656.1h0M138.7 661.4h0M160.3 649.9h0M99.2 699.1h0M99.1 699.9h0M95 699.2h0M93.5 701.7h0M91.2 709.3h0M98.2 704.6h0M98.8 701.2h0M92.3 708.4h0M138.2 691.2h0M165 665.1h0M129.5 695.2h0M169.6 661.4h0M173.4 658h0M140.9 684.7h0M139.3 683.7h0M170.3 658h0M142.1 688.5h0M146.4 690.8h0M126.4 699.8h0M154.8 668h0M90.9 622.6h0M191.5 715.9h0M196 715.9h0M201.1 708.7h0M205.1 708.3h0M209.1 708.7h0M206.1 714.6h0M203.1 712.8h0M207.6 711.9h0" stroke="#2e5aa0" stroke-width="2.3" stroke-linecap="round" fill="none"/>
<line x1="83.4" y1="722.6" x2="216.2" y2="603.6" stroke="#2b2b2b" stroke-width="1.3" stroke-dasharray="3 1.8"/>
<path d="M83.4 603.8V722.6H215.2" fill="none" stroke="#6b6b6b" stroke-width="0.95"/>
<path d="M89.4 722.6v5.6M83.4 717.3h-5.5M109.5 722.6v5.6M83.4 699.3h-5.5M129.6 722.6v5.6M83.4 681.2h-5.5M149.8 722.6v5.6M83.4 663.2h-5.5M169.9 722.6v5.6M83.4 645.1h-5.5M190 722.6v5.6M83.4 627.1h-5.5M210.1 722.6v5.6M83.4 609.1h-5.5" stroke="#6b6b6b" stroke-width="0.95" fill="none"/>
<text x="89.4" y="739" font-size="9" fill="#4a4a4a" text-anchor="middle" stroke="#4a4a4a" stroke-width="0.08">0</text>
<text x="72.8" y="720.6" font-size="9" fill="#4a4a4a" text-anchor="end" stroke="#4a4a4a" stroke-width="0.08">0</text>
<text x="109.5" y="739" font-size="9" fill="#4a4a4a" text-anchor="middle" stroke="#4a4a4a" stroke-width="0.08">4</text>
<text x="72.8" y="702.6" font-size="9" fill="#4a4a4a" text-anchor="end" stroke="#4a4a4a" stroke-width="0.08">4</text>
<text x="129.6" y="739" font-size="9" fill="#4a4a4a" text-anchor="middle" stroke="#4a4a4a" stroke-width="0.08">8</text>
<text x="72.8" y="684.5" font-size="9" fill="#4a4a4a" text-anchor="end" stroke="#4a4a4a" stroke-width="0.08">8</text>
<text x="149.8" y="739" font-size="9" fill="#4a4a4a" text-anchor="middle" stroke="#4a4a4a" stroke-width="0.08">12</text>
<text x="72.8" y="666.5" font-size="9" fill="#4a4a4a" text-anchor="end" stroke="#4a4a4a" stroke-width="0.08">12</text>
<text x="169.9" y="739" font-size="9" fill="#4a4a4a" text-anchor="middle" stroke="#4a4a4a" stroke-width="0.08">16</text>
<text x="72.8" y="648.4" font-size="9" fill="#4a4a4a" text-anchor="end" stroke="#4a4a4a" stroke-width="0.08">16</text>
<text x="190" y="739" font-size="9" fill="#4a4a4a" text-anchor="middle" stroke="#4a4a4a" stroke-width="0.08">20</text>
<text x="72.8" y="630.4" font-size="9" fill="#4a4a4a" text-anchor="end" stroke="#4a4a4a" stroke-width="0.08">20</text>
<text x="210.1" y="739" font-size="9" fill="#4a4a4a" text-anchor="middle" stroke="#4a4a4a" stroke-width="0.08">24</text>
<text x="72.8" y="612.4" font-size="9" fill="#4a4a4a" text-anchor="end" stroke="#4a4a4a" stroke-width="0.08">24</text>
<text x="119.3" y="587.7" font-size="9.5" fill="#2a2a2a" stroke="#2a2a2a" stroke-width="0.1">n = 344 : 1578</text>
<text x="147.2" y="754.4" font-size="9.5" fill="#4a4a4a" text-anchor="middle" stroke="#4a4a4a" stroke-width="0.08">Mesophyll Cell</text>
<text x="147.2" y="765.4" font-size="9.5" fill="#4a4a4a" text-anchor="middle" stroke="#4a4a4a" stroke-width="0.08">(Cluster S2)</text>
<text transform="translate(43,659) rotate(-90)" font-size="9.5" fill="#4a4a4a" text-anchor="middle" stroke="#4a4a4a" stroke-width="0.08">Mesophyll Cell</text>
<text transform="translate(54.5,659) rotate(-90)" font-size="9.5" fill="#4a4a4a" text-anchor="middle" stroke="#4a4a4a" stroke-width="0.08">(Cluster S1)</text>
<path d="M392.1 620.4h0M387.3 621.4h0M399.4 616.7h0M391.3 625h0M329.6 679.3h0M371.5 642.5h0M359.6 655.8h0M350.8 661.9h0M358.8 647.1h0M371.7 631.9h0M377.2 630.4h0M323.5 682.6h0M309.9 693.4h0M389.4 622.1h0M366 647.8h0M382 634h0M380.6 622h0M370.6 645.1h0M320.5 682.9h0M333 670.2h0M387.7 626.9h0M377.4 629.1h0M374.3 635h0M300.8 701h0M320.8 683.2h0M352 655.7h0M349.4 660.6h0M373.1 637.9h0M399.6 616.7h0M384.6 625.8h0M399.8 619h0M366.6 638.4h0M364.4 650.6h0M312.1 687.9h0M355.5 654.1h0M304.9 699.8h0M360.2 648.9h0M329.7 678h0M342.4 673.1h0M349.1 667.8h0M361.5 645.4h0M347.8 662h0M390.7 622.4h0M319.4 690.3h0M337.7 666.9h0M344 664.1h0M353.8 658.5h0M322.4 692.8h0M350.1 658.9h0M400 620.6h0M336.4 674.5h0M365 658.2h0M327.2 679.8h0M325 676.5h0M387.4 633.5h0M388.1 617.6h0M338.2 668.1h0M399.3 614.4h0M384 629.5h0M357.3 647.8h0M309 696.1h0M359.2 649.7h0M312.3 694h0M410.4 603.9h0M312.1 691.1h0M406.1 602.6h0M293.7 708.2h0M382.3 624.5h0M405.8 608.4h0M377.4 631.5h0M330.9 676.6h0M394.9 621.7h0M384.4 623.5h0M348.3 667.3h0M345.6 660.2h0M308.8 690.1h0M364 647.2h0M374.5 640.7h0M381 629.7h0M355.6 650.6h0M323.4 684.2h0M357.6 663.7h0M305.6 698.5h0M327.7 679.6h0M300.7 699.8h0M407.1 609.2h0M305.5 695.8h0M371.8 641.7h0M332.3 670h0M398 612.3h0M350.9 657.4h0M396.2 617.8h0M328.4 677.6h0M385.2 632.7h0M403.3 612.5h0M379.3 629.9h0M380.4 627.2h0M372.8 644.4h0M386.2 629.6h0M328.7 675.4h0M335 667h0M370.8 642.9h0M394 625.9h0M361.2 647.4h0M379.1 632.7h0M320.2 682.5h0M366.3 641.1h0M332.8 677.7h0M310.3 692.7h0M365.6 639.7h0M384.5 625.9h0M352.8 654.9h0M373.2 643.7h0M371.9 640.8h0M382.4 628.6h0M363.2 649.6h0M368.6 639h0M362.8 648.9h0M315.8 696.8h0M356.4 658.2h0M376.1 643.4h0M397.1 612.2h0M407.9 611.6h0M390.4 623.4h0M389 625.4h0M359.6 652h0M378.9 640.8h0M372.1 637.9h0M362.8 643.9h0M367.2 639.1h0M345.3 663.1h0M344.4 666.1h0M400.4 610.6h0M408.5 607.6h0M298 706.1h0M395.9 617.1h0M324.6 683.7h0M298.4 708.6h0M337.8 669.6h0M410.4 609.2h0M340.3 671.7h0M366.2 643.5h0M384.7 624.6h0M312.3 690.6h0M334.4 678.2h0M348.5 658.9h0M384.9 633.4h0M346.9 658.3h0M389.5 624.4h0M400.3 607.8h0M324.1 682h0M364.1 646h0M366.6 642h0M352.9 657.4h0M406.5 610.3h0M365.7 650.9h0M372.3 644.4h0M363.8 639.7h0M376.5 630.2h0M338.8 669.3h0M393.8 615.4h0M382.5 623.8h0M347.5 669.7h0M337.7 672.2h0M354 665.3h0M326.7 686.2h0M403.3 606.9h0M383.3 628.9h0M351.6 657.9h0M384.6 634.7h0M378.7 638.7h0M327.9 676.7h0M333.2 672.2h0M344.8 666h0M377.5 640.1h0M339.9 675.4h0M374.2 638.3h0M319.1 691.6h0M354.7 645.6h0M393.8 621.1h0M329.9 677.8h0M410.3 605.3h0M373.3 637.9h0M334.7 673.2h0M345.4 663.2h0M309.1 699h0M409.4 608h0M387 632.4h0M330.3 674h0M356.1 652.4h0M370.4 639.5h0M356.8 653.2h0M333.3 678.3h0M325.9 681.9h0M346.7 663.7h0M376.3 630.9h0M316 688h0M410.6 603.6h0M291.6 706.4h0M321.9 675.6h0M374.3 634h0M345.5 662h0M359.1 646.1h0M387.6 613.4h0M333.8 677.2h0M351.3 652.5h0M365.5 648h0M412 604.1h0M340.8 665.7h0M380.7 626.6h0M297.4 715.3h0M322.8 689.5h0M364.9 640.8h0M396.2 616.2h0M372.6 642.8h0M358.9 654.8h0M357.4 657.4h0M329.8 673.6h0M363.4 650.6h0M375.1 644.2h0M384 630.7h0M340.5 668.9h0M334.5 674.3h0M398.6 616.9h0M332.6 672.1h0M325.5 685.9h0M377.3 633.1h0M400 617.6h0M352.4 658.1h0M358.4 643.5h0M316.6 684.5h0M370.4 644.1h0M367.7 633h0M402.1 604h0M337.4 669.1h0M336.2 667h0M382.8 629.5h0M311.1 690.1h0M400.5 610h0M387.9 631.9h0M376.4 634.6h0M334.6 679.2h0M333.2 675.4h0M370 644.1h0M388.7 625.5h0M320.2 685.6h0M363.3 649.6h0M405.9 605.1h0M291.6 714.4h0M404.1 615.5h0M342.2 660.1h0M314.1 692.9h0M303.6 697.2h0M344.9 660.7h0M392 617.4h0M384.6 632.5h0M371.2 635.7h0M364.6 655.7h0M305.8 700.9h0M391.2 616.9h0M380.4 629.1h0M355.8 657.5h0M382.8 622.4h0M360 646.6h0M295.1 706.5h0M316.4 684.6h0M404.7 615.7h0M373.7 635.3h0M340.6 684.6h0M363.6 650.8h0M351.3 661.7h0M330.1 675.4h0M392.7 620.5h0M344.8 659.4h0M408.6 605.6h0M348.2 663.4h0M408.4 610.2h0M357.1 649.3h0M302.3 696.2h0M388.1 612.4h0M358.6 659.2h0M389.5 624.3h0M411.1 611.2h0M327.2 680.5h0M327.3 681.3h0M359 656.6h0M373 632.7h0M369.9 633.1h0M368.9 643.8h0M309.6 698.7h0M326.2 683h0M353.3 658.9h0M363.2 639.3h0M357.1 649.4h0M397.9 612.7h0M333 677h0M370.3 637.4h0M336.1 670.5h0M344.3 662.8h0M361.4 648.1h0M374.3 642.9h0M407.9 605.2h0M323.3 682.4h0M300.3 702.1h0M371.8 637.6h0M350.4 670.7h0M379.5 637h0M326.8 670.2h0M355.5 653.3h0M320.1 678.7h0M369 635.5h0M377.8 624h0M342.8 667.7h0M384.6 626.4h0M403.6 613.4h0M374.8 631.7h0M371.6 635.3h0M366.4 644.6h0M353.9 655.5h0M350 653.7h0M348.8 657.3h0M387.9 629h0M294.5 710.4h0M345 659.1h0M292.8 715h0M405.1 619h0M325.8 681.6h0M404.5 608.9h0M405.8 602.7h0M349.4 656.4h0M326.3 684h0M353.5 652.3h0M377.9 634.6h0M380.8 637.3h0M397.8 616.5h0M398.2 618.1h0M331.1 662.6h0M342.2 665.7h0M383.3 624.2h0M326.8 683.8h0M379.2 630.5h0M355 654.4h0M294.3 707h0M366 651h0M365.8 644.9h0M390.4 623.1h0M354.5 658h0M366.6 646h0M350.2 661.6h0M345.2 666.1h0M343.9 667.6h0M304.2 701.5h0M352.6 655.7h0M347.5 667.1h0M354.5 657.4h0M327.6 681.4h0M368.6 639.4h0M350.3 655.1h0M355.3 641.7h0M388.5 624.8h0M383.2 627.5h0M375.6 630.3h0M330.3 683.9h0M354.3 643.2h0M363.6 647.9h0M373.4 628.8h0M332 670.8h0M350.6 657.6h0M410.3 602.6h0M376.6 646h0M370.7 637.2h0M369.5 643.4h0M316.6 694.2h0M362.5 649.9h0M393.4 621.6h0M401.2 613.6h0M374.2 642.7h0M382.2 622h0M364.3 645.3h0M375 631.5h0M332.4 663.1h0M345.9 658.3h0M386.4 628h0M397.8 616.9h0M390.4 620.6h0M389.6 623.4h0M373.4 641h0M344.5 661.4h0M331.3 674.1h0M338.8 666.6h0M406.8 602.6h0M393.2 620.7h0M363.9 638.8h0M308 707.3h0M370.9 635.3h0M375.4 627.9h0M399.2 620.6h0M321.2 683.1h0M375.7 637.9h0M301.7 701.7h0M384.2 630.1h0M340.9 664.1h0M332.5 682h0M386.3 629.5h0M334.5 671.1h0M328 680.7h0M298 707.3h0M396.7 616h0M341.8 673.8h0M355.7 651h0M330.5 674.4h0M375.6 639.3h0M399.7 611.9h0M363.5 646.3h0M359.6 646.9h0M353.5 654.9h0M319.5 682h0M361.1 650.4h0M363.6 647.8h0M370.8 642.1h0M355.2 649.5h0M339.1 663.7h0M332.5 676.5h0M343.4 666.7h0M372.9 638.5h0M371.1 638.7h0M394.6 609.5h0M363.5 649.5h0M389.9 617.8h0M322.5 689h0M344.6 660.7h0M339.3 661.6h0M389.9 615.7h0M365.6 645h0M397.4 614.5h0M345.6 666.6h0M397.2 619h0M392.5 626.8h0M321.6 687h0M375.4 637.7h0M368 639.2h0M382.5 637.4h0M378 632.8h0M336.9 671.2h0M378.6 637.4h0M386.9 627.2h0M387 626.9h0M351.1 656.3h0M355.7 660.1h0M310.6 695.2h0M358.1 651.1h0M341.3 661.9h0M343.6 668.8h0M406.5 613.1h0M402 616.9h0M392.5 626.1h0M370.7 639.1h0M374.5 632.7h0M391.9 618.4h0M373.9 648.3h0M299.1 702.3h0M330.5 684.1h0M306 701.3h0M368.9 636h0M376.1 632.3h0M397.8 618.1h0M361.2 653.6h0M328.3 677.4h0M390.6 619.2h0M399.1 613.3h0M407.5 609.9h0M321.6 691.7h0M372.1 634.9h0M356.6 644.8h0M308.8 692.9h0M389.1 617.8h0M403.6 607.6h0M367.3 642.7h0M370.2 635.8h0M311.3 692.4h0M379.8 631h0M305.4 696.8h0M319 686h0M360 644.7h0M396.4 618h0M345.1 663.3h0M412.3 602.6h0M376 640.6h0M352.2 660h0M349.6 656.6h0M373.4 633.2h0M388.5 623.5h0M329.2 681.7h0M380.2 627.5h0M331.3 676.8h0M297.4 707.9h0M407.5 603.4h0M334.8 669.5h0M368.1 639.5h0M373 642.5h0M384.7 624h0M306.9 700.8h0M325.4 679h0M411.9 613.8h0M375.1 640.7h0M300 702h0M347.7 660.2h0M385 632.4h0M380.3 640.5h0M353.1 658.5h0M376.8 628.9h0M305.7 700h0M381.9 634.6h0M377.2 639.1h0M322.9 685.7h0M402.8 613.3h0M371.1 641.5h0M375.2 628.1h0M382.6 629.6h0M349.6 660.1h0M372.1 638.1h0M380.6 628.1h0M349.3 660.2h0M323.2 682.4h0M349.9 662.7h0M374.1 633.6h0M357.6 650.7h0M376.2 645.2h0M338.6 670.1h0M336.6 668.9h0M367.9 635.9h0M341.2 670.8h0M356.2 653.9h0M375.7 633.9h0M295.6 705.6h0M352.6 647.1h0M326.7 675.8h0M295.8 711.6h0M358 652.3h0M354.4 637.6h0M397 609h0M374.1 639h0M402.5 605.9h0M349.2 659.3h0M377.5 638.3h0M329.8 672.8h0M390.3 621.6h0M354.8 654.7h0M329.1 677.5h0M342.9 652.2h0M392.2 622.3h0M390.4 620.6h0M400.9 610.2h0M372.8 638.4h0M376.2 639.6h0M378.6 632.2h0M359.9 645.5h0M339.7 666.7h0M394.7 620.5h0M391 614.2h0M375.7 633.4h0M406.7 609h0M375.7 632h0M307.8 696.4h0M361.2 649.9h0M407.6 609.9h0M402.2 605.5h0M330.4 676.5h0M330.5 673.8h0M387.6 625.6h0M346.3 655.3h0M373.2 637.5h0M358.2 654.1h0M345 663.3h0M357.7 655.1h0M368 646.3h0M397.5 611.6h0M328.8 673.3h0M367.1 644.8h0M328.9 678.3h0M383 631.8h0M321.6 680.9h0M376.2 638h0M353.6 658.1h0M399.2 616.6h0M323.7 681.3h0M362.3 648.7h0M315.2 689.9h0M336.3 669.4h0M405.4 610.5h0M314.8 687.2h0M326.9 683.8h0M291.1 709.4h0M323.1 683.5h0M340.1 667h0M364.8 648.7h0M317.6 692.1h0M376.3 637.3h0M380.5 636.5h0M378.1 634.3h0M315.8 685.4h0M343.5 662.1h0M321.6 689.1h0M395.9 622.2h0M357 653.4h0M348.1 660.2h0M314.8 693.1h0M334.4 667h0M364.5 641.7h0M403.2 608.3h0M378.1 632.4h0M347.4 662.6h0M339 660.6h0M353.5 658h0M363.3 657.9h0M388.9 623.6h0M354.7 659.7h0M355.7 651.1h0M386.1 627.8h0M317.8 689.8h0M330.1 679.5h0M341.3 661.9h0M368.7 635.5h0M305.9 698.7h0M405.5 602.6h0M346.2 660.9h0M364.5 641.6h0M345.4 664.5h0M401.6 612.2h0M371.6 640.5h0M404.9 616.6h0M387.5 620h0M294.7 709.8h0M345.7 655.9h0M358.4 652.6h0M308.5 697.3h0M399.9 612.8h0M326.9 677.4h0M355.8 650h0M377.9 630.3h0M335.8 673.1h0M380.7 634.5h0M302.1 703.8h0M371 643.3h0M393.9 625.2h0M374.3 639.7h0M342.1 659.6h0M367.6 646.8h0M355.5 662.2h0M352.6 650.4h0M306.6 696.1h0M366.2 641.5h0M351.6 657.7h0M318.3 683.5h0M324.4 677.8h0M400.2 603.3h0M331 675.5h0M357.3 648.2h0M350.7 657.4h0M374.2 636.3h0M358.5 640h0M361.8 653.6h0M337.5 656.8h0M384.4 620h0M304.1 696.2h0M353.8 659h0M374.2 640.6h0M389.6 626.4h0M358.4 649.8h0M358.2 656h0M376.5 627h0M378.2 642h0M395.6 621h0M388.2 625.6h0M343.9 664.2h0M346.3 658.4h0M375.7 640.1h0M308.9 700.1h0M398.7 617.6h0M340.3 665.5h0M398.5 611.9h0M392.7 622.9h0M365.4 645.2h0M345.8 655.5h0M358.4 653.1h0M351.5 656.7h0M394 620h0M401.2 619.5h0M374.9 654h0M364.2 643.6h0M299 696h0M367.7 641h0M405.3 604.3h0M331.1 677.9h0M369.8 644.3h0M380.3 636.7h0M391.5 617.9h0M356.2 656h0M336.8 667.1h0M362 650.2h0M317.4 688.9h0M337.2 669.4h0M352.5 661h0M369.6 638.2h0M331.5 680.6h0M333.2 675.3h0M388.9 620.2h0M372.6 637.1h0M373 640.9h0M329.9 677.4h0M390.3 623.9h0M382.4 626h0M344 660.1h0M392.4 619.7h0M384.7 631.2h0M368.1 650.4h0M322.4 685.3h0M358.8 648.9h0M325.6 679.4h0M370.2 637.8h0M378 629.6h0M337.4 671.6h0M372.1 634.4h0M312.4 688.6h0M402 613.2h0M354.1 657.7h0M402.8 608.1h0M354.2 658.9h0M377.2 637.4h0M366.6 644.8h0M313.8 695.7h0M369.7 643.4h0M404.1 607.2h0M359.4 650.3h0M389.9 617.9h0M359.8 655h0M300.8 706.6h0M367 644.5h0M337.1 666.4h0M369.3 637.6h0M379.4 632.6h0M368.5 642.7h0M342.8 660.3h0M341.3 667.6h0M377.5 636.7h0M340.7 665.7h0M307 691.2h0M335 675.8h0M361.2 643.1h0M360 646.4h0M358.1 659.1h0M336.7 670.8h0M352.5 660.8h0M372.1 635.3h0M291.8 709.1h0M362.4 652.8h0M325 683.6h0M320.8 686.1h0M365.5 645.8h0M392.3 615.3h0M317.7 686.3h0M330.4 676.6h0M393.5 622.2h0M305.4 696.3h0M398.2 616.5h0M391.6 622.5h0M356.2 656.3h0M321.9 685.7h0M365.5 644.2h0M393 618.1h0M391.6 607.5h0M403 612.4h0M317 678.1h0M371.7 636.5h0M369.2 648h0M349.6 660.4h0M349.1 661.4h0M290.5 715.3h0M386.8 631.7h0M359.2 649h0M359.6 655.8h0M328 679.4h0M397.7 613.8h0M383 631.9h0M349.6 658.7h0M344.4 670.5h0M344.1 674.2h0M364.1 647.6h0M299.5 707.8h0M345.7 659.8h0M333.3 675.6h0M364.1 647.3h0M385.6 627.4h0M376.9 636.1h0M372.4 636.1h0M373.7 634.7h0M382.4 627.8h0M325.9 683.6h0M377.4 633h0M411.5 613.8h0M381.3 631.2h0M373.3 641.4h0M398.9 609.2h0M391.1 618.7h0M379.7 628.1h0M381.3 642.4h0M312.2 691.1h0M377.3 634h0M394.5 620.3h0M384.2 634.8h0M376.9 633.9h0M354.2 657h0M367.4 644.5h0M401.2 613.1h0M368.6 640.6h0M318.2 687.9h0M368.2 641.2h0M377.5 637.7h0M361 658.2h0M404.4 613.8h0M395.3 618.1h0M374.8 631.1h0M393.9 612.7h0M341.7 671h0M372.6 634.1h0M369.8 646.3h0M357.4 643.7h0M317.3 685.1h0M362 640.7h0M398.3 622.8h0M393.2 609.4h0M400.8 607h0M314 689.7h0M337.3 669.8h0M385.7 623.4h0M381.6 629.5h0M372.2 641.6h0M373.8 644.6h0M395.9 619.9h0M295.3 707h0M351.8 648.9h0M386 622.2h0M326.7 678h0M368.4 648.8h0M303.3 705.6h0M371.5 640.6h0M297.5 704.8h0M396.3 614.7h0M334.6 668h0M380.7 639.4h0M350.3 660.5h0M371 648.9h0M343.3 663.3h0M378.4 623.2h0M349.5 665.2h0M394.8 620.3h0M332.3 674.5h0M382.9 632.6h0M371.7 644.2h0M357.2 653.8h0M379.4 639.2h0M317.2 690.3h0M329.7 677h0M366.2 638.3h0M346.9 664.3h0M389.9 615.5h0M382.3 626.9h0M340.4 664.3h0M338 672h0M332.1 671.3h0M296.5 687.4h0M377.1 644.6h0M379.5 629.6h0M345.2 660.1h0M313.5 684.8h0M396.1 614.6h0M338.7 670.7h0M336 671.9h0M320.3 687.5h0M407.8 615.1h0M386.9 623.2h0M328.7 681.1h0M391 628.9h0M379.4 629.4h0M321.4 687.3h0M344.2 656.4h0M301.4 704.5h0M394.8 616.8h0M374 637h0M318 692.4h0M346.8 662.5h0M356.2 652.4h0M411.5 606.3h0M365.9 634.2h0M352.2 652.2h0M406.9 602.6h0M324.8 681.6h0M331.2 671.8h0M394.6 623.5h0M355.2 654.7h0M364.6 647.8h0M362.4 647.1h0M327.2 679h0M382.3 636.4h0M352.4 647.2h0M367.4 642.9h0M396.7 617.9h0M313.9 688.8h0M378.7 640.2h0M393.4 618.1h0M386 628.7h0M338.2 665.4h0M297.6 708.7h0M297.1 703.5h0M370.7 636.7h0M385.7 630.1h0M354.9 649.2h0M355.8 651.8h0M395.3 625.1h0M383.8 635.4h0M391.8 626.8h0M345.4 656.6h0M325.6 677.8h0M371.9 641.7h0M294.8 715.3h0M383.9 628.9h0M369.9 641.4h0M365 643.7h0M382.2 623.6h0M365.1 644.6h0M366.1 649.2h0M336.6 674.2h0M370.5 635.9h0M404.3 607.1h0M389.7 621.6h0M319.7 686.2h0M356.5 650h0M382.7 616h0M382.2 635h0M388.4 623.7h0M334.8 673.7h0M408 602.6h0M352.9 653.6h0M370.9 640.3h0M379.5 641.3h0M366.8 636.4h0M314.9 690.1h0M400.2 610.7h0M369.4 639.2h0M396.4 615.4h0M318.7 687.9h0M396.8 617.8h0M324.6 681.4h0M376.9 638.1h0M365.1 643h0M388.7 616.8h0M357.3 662.2h0M325.8 684.9h0M293.5 706.1h0M371.8 638.1h0M297.4 709.5h0M369.2 646.8h0M361.4 646.3h0M325.6 680.5h0M386.8 624.1h0M307.7 701.7h0M356.2 649.6h0M369.7 644.4h0M386.1 624.8h0M343.7 666.5h0M379.2 632.9h0M382.3 636.4h0M323.6 679.6h0M395.3 617.4h0M367.6 644h0M391.2 626.6h0M399.2 617.7h0M373.4 636.8h0M389.6 626.4h0M357.5 645.4h0M346.3 664h0M292.7 713.1h0M326.8 675h0M376.4 634h0M336 676.6h0M350.7 656.9h0M381.8 625h0M303 603.3h0M292.1 607.4h0M290.9 605.3h0M297.6 606.6h0M302.5 604h0M302.9 604.8h0M291.1 606.9h0M292.4 604.5h0M297.2 604.9h0M299.8 604.8h0M299.8 603.7h0M296.6 606.3h0M296.2 606.3h0M290.9 606.8h0M409 710.1h0M413.1 711.1h0M407.1 710.1h0M408.9 709.4h0M411.7 708.9h0M407.3 711.5h0M410.9 710.7h0M410.3 713h0M409 709.4h0M408.6 712.2h0M407.3 711.7h0M407.1 711h0M410 711.5h0M411.5 711.9h0" stroke="#d5d5d5" stroke-width="2.1" stroke-linecap="round" fill="none"/>
<path d="M382.1 619h0M370.9 625.8h0M370.8 626h0M374.8 626.7h0M374 623.7h0M373.4 631.5h0M379.2 622.6h0M372.1 632.1h0M381.2 624h0M381.2 618.7h0M371.2 625.8h0M373.5 631.6h0M374.5 628.4h0M377 618.7h0M379.8 620.1h0M382.4 621.5h0M373.7 626.3h0M383.1 618.7h0M378.9 617h0M375.7 625.9h0M378.4 622.2h0M368.7 631.1h0M376.8 620.6h0M375.9 622.8h0M380.8 617.9h0M377.6 623.9h0M383.1 615.1h0M377.3 620.3h0M377.8 628.2h0M371.8 627.7h0M382.1 619.9h0M377.1 619.4h0M373.6 628.7h0M381.4 618.1h0M379.5 620.5h0M378.7 622.3h0M382.9 616.4h0M379.6 621.8h0M378.9 622.4h0M370.6 627.6h0M374.8 626.9h0M373.8 627h0M369.3 628.6h0M372.2 621.8h0M377.7 623.9h0M371.5 633.5h0M374.7 629.1h0M373 628.8h0M374.3 624.1h0M371.8 624.3h0M361.9 638.3h0M358 644.7h0M364.5 637.8h0M354.2 646.6h0M360.6 637.4h0M361.6 638.6h0M358.1 634.8h0M365.9 639.6h0M365.7 636.6h0M363.4 635.1h0M357.4 643h0M354.3 641.8h0M360 640.8h0M360.4 639.4h0M355.7 647.1h0M353.3 643.8h0M366.2 628.8h0M366 632.3h0M366.2 631.3h0M354.6 638.3h0M354 642.4h0M357.8 641.3h0M366.3 638.3h0M355.9 646.2h0M364.8 637.2h0M358.7 644.6h0M366.2 630.2h0M366.2 635.6h0M355.7 648.7h0M357.4 640.2h0M363 633.5h0M361.9 632.2h0M362.5 634.5h0M354.7 645.1h0M364.6 640.5h0M353.3 649.3h0M364.9 629.1h0M356.8 644.4h0M366.8 631.9h0M356.5 643.6h0M391.7 612.2h0M391.8 611.1h0M386.4 617.7h0M397.9 607.5h0M383.5 617.5h0M395.8 608.9h0M397 612.3h0M391.2 620.1h0M391.8 611.3h0M395.9 607.7h0M396.6 612.9h0M385.4 614.9h0M393.5 609.8h0M391.9 613.3h0M384 619.2h0M392.5 614.8h0M390.8 616.8h0M391.4 610.2h0M390.7 617.1h0M398.2 605.3h0M395.6 612.2h0M386.3 619.8h0M395.1 609h0M387.1 614h0M393.4 613.6h0M343.8 652.6h0M322.1 675.6h0M316.9 679.6h0M345.2 643.3h0M346.8 648.7h0M323.4 670.1h0M325.7 672.9h0M335 659.2h0M313.5 681h0M325.4 666.4h0M337.2 659.9h0M333.5 656.9h0M310.8 685.5h0M337.8 659.2h0M329.3 665.9h0M323.5 666.6h0M345.2 645.5h0M330.9 668h0M316.7 681.1h0M342.8 651.1h0M320.5 662.4h0M322 670.8h0M312.6 678.4h0M349.9 647.5h0M323.4 671.6h0M313.3 673.1h0M349.6 646.2h0M325.2 672.9h0M338.6 649.2h0M334.4 665.4h0M315.2 677.3h0M313.4 680.4h0M319.7 672.3h0M344.4 650.7h0M311.5 681.7h0M328.4 665.6h0M318.4 675.2h0M326.9 677.9h0M323.2 671.5h0M341.5 650.5h0M333.3 655.6h0M349.4 646.2h0M326.8 665.7h0M344.1 656h0M328.7 663.8h0M336 658.4h0M334.8 651.2h0M334.4 663.3h0M318.5 675.1h0M349.9 651.7h0M296.7 697.9h0M294.9 695.5h0M301.8 687.3h0M295 698h0M300.2 690.7h0M294.8 701.8h0M295.7 692.8h0M300.3 693.1h0M300.7 691.3h0M293.2 701.7h0M299.5 685.5h0M294.7 687h0M297.8 691.8h0M299.5 693.3h0M303.4 690.2h0M358.6 658.5h0M371.7 652.1h0M365 659.9h0M350.3 674.3h0M371.1 650.4h0M375.6 650.6h0M356.7 672.5h0M345.1 676.7h0M350.7 668.8h0M368.1 655.6h0M372.1 653.2h0M349.7 663.1h0M302 608.4h0M303.5 663.9h0M353.3 618.3h0M409.1 643.1h0M392.5 710.3h0M406.1 709.1h0M405.9 705.6h0M409.2 708.4h0M410.3 705.4h0M403.2 703.2h0M408.7 707.2h0" stroke="#2e5aa0" stroke-width="2.3" stroke-linecap="round" fill="none"/>
<line x1="284.5" y1="718" x2="417.1" y2="599.1" stroke="#2b2b2b" stroke-width="1.3" stroke-dasharray="3 1.8"/>
<path d="M284.5 599V718H416.1" fill="none" stroke="#6b6b6b" stroke-width="0.95"/>
<path d="M290.4 718v5.6M284.5 712.6h-5.5M310.5 718v5.6M284.5 694.6h-5.5M330.6 718v5.6M284.5 676.5h-5.5M350.8 718v5.6M284.5 658.5h-5.5M370.9 718v5.6M284.5 640.4h-5.5M391 718v5.6M284.5 622.4h-5.5M411.1 718v5.6M284.5 604.4h-5.5" stroke="#6b6b6b" stroke-width="0.95" fill="none"/>
<text x="290.4" y="734.4" font-size="9" fill="#4a4a4a" text-anchor="middle" stroke="#4a4a4a" stroke-width="0.08">0</text>
<text x="273.9" y="715.9" font-size="9" fill="#4a4a4a" text-anchor="end" stroke="#4a4a4a" stroke-width="0.08">0</text>
<text x="310.5" y="734.4" font-size="9" fill="#4a4a4a" text-anchor="middle" stroke="#4a4a4a" stroke-width="0.08">4</text>
<text x="273.9" y="697.9" font-size="9" fill="#4a4a4a" text-anchor="end" stroke="#4a4a4a" stroke-width="0.08">4</text>
<text x="330.6" y="734.4" font-size="9" fill="#4a4a4a" text-anchor="middle" stroke="#4a4a4a" stroke-width="0.08">8</text>
<text x="273.9" y="679.8" font-size="9" fill="#4a4a4a" text-anchor="end" stroke="#4a4a4a" stroke-width="0.08">8</text>
<text x="350.8" y="734.4" font-size="9" fill="#4a4a4a" text-anchor="middle" stroke="#4a4a4a" stroke-width="0.08">12</text>
<text x="273.9" y="661.8" font-size="9" fill="#4a4a4a" text-anchor="end" stroke="#4a4a4a" stroke-width="0.08">12</text>
<text x="370.9" y="734.4" font-size="9" fill="#4a4a4a" text-anchor="middle" stroke="#4a4a4a" stroke-width="0.08">16</text>
<text x="273.9" y="643.7" font-size="9" fill="#4a4a4a" text-anchor="end" stroke="#4a4a4a" stroke-width="0.08">16</text>
<text x="391" y="734.4" font-size="9" fill="#4a4a4a" text-anchor="middle" stroke="#4a4a4a" stroke-width="0.08">20</text>
<text x="273.9" y="625.7" font-size="9" fill="#4a4a4a" text-anchor="end" stroke="#4a4a4a" stroke-width="0.08">20</text>
<text x="411.1" y="734.4" font-size="9" fill="#4a4a4a" text-anchor="middle" stroke="#4a4a4a" stroke-width="0.08">24</text>
<text x="273.9" y="607.7" font-size="9" fill="#4a4a4a" text-anchor="end" stroke="#4a4a4a" stroke-width="0.08">24</text>
<text x="323.5" y="587.5" font-size="9.5" fill="#2a2a2a" stroke="#2a2a2a" stroke-width="0.1">n = 208 : 1097</text>
<text x="353" y="748.9" font-size="9.5" fill="#4a4a4a" text-anchor="middle" stroke="#4a4a4a" stroke-width="0.08">Mesophyll Cell</text>
<text x="353" y="759.9" font-size="9.5" fill="#4a4a4a" text-anchor="middle" stroke="#4a4a4a" stroke-width="0.08">(Cluster S7)</text>
<text transform="translate(244,655.4) rotate(-90)" font-size="9.5" fill="#4a4a4a" text-anchor="middle" stroke="#4a4a4a" stroke-width="0.08">Mesophyll Cell</text>
<text transform="translate(255.5,655.4) rotate(-90)" font-size="9.5" fill="#4a4a4a" text-anchor="middle" stroke="#4a4a4a" stroke-width="0.08">(Cluster S1)</text>
<path d="M560.5 647.6h0M559.4 653h0M583.6 632.5h0M544.6 668.2h0M594.6 617.7h0M603.1 602.2h0M552.4 649.4h0M592.4 622.4h0M605.9 610.8h0M571.3 645.5h0M590.4 634.1h0M599.5 622.6h0M543.2 666.6h0M550.8 657.7h0M604.3 608.5h0M597.9 617.2h0M567.8 640.8h0M569.5 647.8h0M553.9 653.3h0M589.1 628.4h0M544.1 668.2h0M599.5 613h0M536.5 670h0M554.1 656.8h0M581.8 636.7h0M512.4 694.9h0M575.8 637.4h0M585.5 637.3h0M536.3 674.7h0M550.7 662.5h0M526.3 678.2h0M575.6 646h0M606.6 613.2h0M549.5 654.2h0M521.8 686.9h0M561.4 646h0M517.8 693.4h0M547.1 668.5h0M567.7 651.9h0M577.9 628.1h0M575.6 634h0M581.3 636.8h0M556 660.6h0M566 653.6h0M548.7 667.2h0M606.2 610.6h0M535.8 671h0M613.3 605.4h0M565.6 649.8h0M500.3 700h0M566 649.2h0M535.6 672.8h0M563.9 647.3h0M562.6 649.2h0M567.7 645.8h0M612.6 602.2h0M578.6 634.5h0M507 702.6h0M497.3 706h0M545.6 663.5h0M568.1 643.2h0M575.4 633.9h0M600.1 619.4h0M577.3 632.5h0M561 646.7h0M563.6 645.5h0M560 645.4h0M545.7 659.1h0M515.2 696.8h0M559.3 657.9h0M563.9 645h0M539 668.9h0M605.8 604.7h0M512.3 694.3h0M589.5 634h0M543.9 669.2h0M591.1 623.1h0M494.7 708.5h0M598.6 614.5h0M575.4 639.5h0M493 714.5h0M598.8 622h0M534.2 675h0M594.6 620.6h0M571.9 642.8h0M543.7 669.9h0M585.2 608.6h0M536.9 667.1h0M548.1 656.1h0M524.7 686.8h0M537 671.2h0M586.6 622.7h0M540.4 667.5h0M588.5 623.8h0M553.7 663.7h0M579.4 635.9h0M583 631.2h0M519.2 683.2h0M588.9 632.3h0M572.5 636.8h0M494.7 711.3h0M564.9 645.3h0M567.9 645h0M589.1 622.1h0M524 681.4h0M610.6 602.2h0M511.5 693.8h0M566.1 647.9h0M613.8 602.2h0M505.5 705.7h0M500.2 706.5h0M542.1 668.7h0M508.3 700.8h0M524.3 677.7h0M556.3 656.9h0M570.7 633.8h0M549.7 657.4h0M564.1 644.1h0M612.9 602.2h0M553.3 659.9h0M564.1 648.7h0M584.9 627.6h0M566 646.8h0M553.3 655.5h0M578.4 635.1h0M607.7 612.8h0M568.7 649.9h0M493 714.9h0M553.1 655h0M575 635.2h0M555.2 658h0M597.3 618.9h0M576.9 640.4h0M584.7 626h0M525.5 674.2h0M557.2 656.3h0M561.3 649.3h0M530.9 674h0M579.3 636.6h0M523.8 683.7h0M581.2 631.8h0M533.7 678.8h0M539.8 676.2h0M552.8 658.2h0M498.3 709h0M548 664.2h0M574 642.1h0M581.1 633.2h0M591.6 626.1h0M562.1 652.8h0M532.6 672.2h0M556.6 649.1h0M574.9 638.2h0M558.2 647.6h0M545.8 660.4h0M540.6 667.2h0M547.1 656h0M568.5 652.2h0M569.8 641.5h0M566.2 629.1h0M549.5 657.1h0M565.1 645.1h0M589.3 627.2h0M584.6 632.2h0M528.1 681.1h0M552 659.4h0M548 659.5h0M610.2 610.4h0M584.4 630.6h0M496.8 710.3h0M521.6 685.3h0M497.1 703.8h0M532.6 679.9h0M502.4 705h0M563.1 649.8h0M546.9 664.1h0M533.6 673.6h0M575.2 639.6h0M542.1 674.1h0M563 649.7h0M568.4 634.7h0M527.3 688.5h0M529.9 677.5h0M535.2 675h0M565.6 654.6h0M591.2 624.5h0M554 655.9h0M577.1 631h0M542.1 668.9h0M560.6 657.5h0M596 619.2h0M581.2 627.2h0M509.8 700h0M593.8 621.8h0M525.2 682.8h0M547.7 660.6h0M591.2 621.1h0M540.1 668.9h0M540.4 671.6h0M503.3 703.6h0M596.6 611.8h0M511.6 694.2h0M553.6 654.7h0M556.4 652.3h0M612.9 602.2h0M557.2 656.4h0M602.5 612h0M536.4 677h0M553.4 658h0M513.6 693.8h0M580.1 629.1h0M574.7 640.4h0M582.5 634.8h0M563 655.1h0M588.2 631.3h0M549.3 661.1h0M525.3 692.3h0M570.7 636.5h0M539.2 670.5h0M550.2 652.5h0M494.6 709.6h0M590.4 623.6h0M567.7 639.9h0M579.8 630.2h0M592.8 618.3h0M607.7 614.9h0M587.8 626.8h0M552.6 660.6h0M560.2 654.7h0M586.3 636h0M542.1 661.2h0M543.8 670.2h0M586.8 628.2h0M542.6 669.3h0M555.2 658.4h0M578 633.5h0M571.6 637.2h0M522.2 686.3h0M539 665h0M555.8 652.8h0M579.3 634.4h0M584 626.8h0M597.8 612h0M578.2 632.7h0M605.5 611.3h0M549.1 656.2h0M555.4 654h0M576.5 637.1h0M596.9 617.2h0M538.1 666.9h0M588.9 623.1h0M593.2 625.3h0M582.7 632.7h0M494.1 709.5h0M589.2 628.9h0M493 713.6h0M531.1 680h0M611.5 606.4h0M584.5 628.5h0M583.8 629.6h0M556.8 651.9h0M588.8 623.4h0M563.3 652.4h0M573 642h0M552.3 654.7h0M599 618h0M609.1 609.3h0M568.7 645.5h0M539.7 672.3h0M586.4 624.3h0M544.1 663.6h0M527.3 683.9h0M493.5 709.2h0M547 664.3h0M510 702.3h0M495.9 708.2h0M550.9 662h0M554.3 659.6h0M571.5 642.2h0M555.6 652.3h0M500.4 702.5h0M571 634.3h0M519.8 688.4h0M589.1 625.3h0M568.3 640.2h0M570.4 640.9h0M565.5 646.4h0M565.2 643.4h0M533.2 673.9h0M539.4 672.4h0M574.6 638.9h0M532.2 681.5h0M536.5 674.7h0M530.9 679.5h0M588.3 630.3h0M558.2 652.8h0M591.7 627.4h0M571.7 642.7h0M534.4 674.4h0M604.9 606.6h0M526.6 680.4h0M575.5 639.4h0M556 660.6h0M610.4 606.8h0M602 619.4h0M518.8 691.2h0M584.3 626.9h0M536.5 671.9h0M598.8 615.9h0M552.4 657.1h0M548.5 662.7h0M587.8 629.4h0M553.5 658.8h0M594.5 618.3h0M509.6 693.2h0M562.4 648.9h0M584 626.4h0M613.4 602.2h0M581 630.3h0M521.7 687.6h0M577.7 638.7h0M568.7 647.3h0M579.6 636.4h0M541.5 666.6h0M597.6 621.4h0M561.7 649.7h0M566.4 642.4h0M563 645.1h0M581.7 631.7h0M573.2 636.9h0M566 652.5h0M600.8 619.9h0M580.1 626.3h0M536.4 670h0M511.1 696.9h0M556.6 665.9h0M598.1 620.1h0M577.6 635.7h0M498 708.3h0M523.1 679.4h0M503.6 705.9h0M504.1 695.6h0M595.9 616h0M580 628.9h0M591.6 624.3h0M530.4 676.5h0M543.9 665h0M591.2 626.7h0M591.5 619.4h0M573.4 645.2h0M567.4 648.6h0M560.6 655.7h0M531.5 678.7h0M584.8 629.4h0M566.4 653.9h0M546.6 660.8h0M559.6 644.9h0M512.9 697.6h0M503.3 701.2h0M574.2 641.4h0M580.1 629.4h0M498.6 706.8h0M581.7 629.9h0M595.4 627.2h0M579.7 636.3h0M543.8 662.3h0M563.7 652h0M591.5 626.4h0M602.1 615h0M580.1 627.8h0M561.8 647.8h0M525.4 677.5h0M606.1 605.7h0M605.6 609h0M566.2 645.8h0M494.3 705.6h0M571.7 637.1h0M610.9 604.7h0M523.9 675.1h0M590.2 620.6h0M580 638h0M542.8 661.9h0M553.1 657.8h0M610.5 606.3h0M529.4 679.4h0M607.1 618.1h0M552 650.4h0M508 699.3h0M578 639.3h0M569.2 644.7h0M581 636.4h0M610.6 602.2h0M518.4 689.1h0M574 630.7h0M536.2 666.4h0M572.4 643.4h0M591.7 623.4h0M499.2 699.4h0M592.1 614.8h0M556.9 654.1h0M565.4 643.5h0M548.6 662.1h0M589 618.4h0M547.9 669.2h0M562.3 652.2h0M581 635.2h0M548.1 659.8h0M541.8 669.1h0M543.3 667.3h0M544.2 663.1h0M550.2 669.1h0M575 636.9h0M553.5 656.9h0M591.2 620.5h0M555.2 669.6h0M581.1 630.9h0M591.7 625.5h0M584.4 633.2h0M587.8 626.7h0M498.2 710.4h0M591.6 617h0M556 662.1h0M604.7 618.9h0M536.3 658.2h0M560.7 656.1h0M562.4 650.1h0M494.7 709.8h0M574.8 640h0M560.3 638.8h0M554.4 655.3h0M590 622.4h0M554.2 656.8h0M596.7 628h0M608.4 610.5h0M598.9 613.9h0M595.1 618.3h0M580.5 631.2h0M572.6 638.5h0M604.4 611.4h0M540.6 672.4h0M517.9 689.2h0M592.5 613.3h0M495.2 708.6h0M551.7 652.6h0M509.2 693.8h0M575.4 638.8h0M529.4 680.2h0M553.6 660.5h0M540.1 667.5h0M582.5 640.5h0M572.5 645.6h0M514.2 687.2h0M547.3 654.3h0M588.1 628.3h0M569.1 650.8h0M596.3 620.7h0M542.5 673.6h0M572.8 634.6h0M549.6 657.6h0M583.5 624.8h0M555.4 662.2h0M605.5 610.4h0M572.8 637.7h0M514.8 696h0M577.2 635.9h0M539.4 670.8h0M519.6 694.9h0M565.5 647.5h0M605.2 602.2h0M526 680.3h0M593 621h0M586.2 634.5h0M498.7 706.7h0M529.3 674.3h0M609.7 609.4h0M595.7 625.2h0M597.2 622.8h0M539.7 664.3h0M578.4 637.1h0M571.7 642.1h0M588.8 615.1h0M597.8 612.4h0M543.5 661.8h0M547.8 661h0M564.9 644.2h0M564.1 651.3h0M495.8 708.1h0M495.7 703.1h0M506.6 700.6h0M563.1 648.4h0M494.3 711.1h0M598.1 607.8h0M526.9 684.7h0M558.1 652.2h0M567.1 644.9h0M578 629.1h0M532.9 684h0M573.1 630.5h0M553.4 656.5h0M521.7 688.7h0M561.6 648.5h0M552.4 665.6h0M503.4 706h0M551.3 651.1h0M560.1 652.2h0M530.5 677.5h0M547.4 661h0M543.3 651h0M545.2 666.5h0M506.1 701.2h0M493.2 714.1h0M587.5 627.9h0M578.3 630.3h0M508.9 699.4h0M546.3 666.1h0M570.9 646.8h0M517.4 682.9h0M557 652.7h0M564.2 650.2h0M500.1 705.1h0M581.8 633.2h0M563.9 646.3h0M561.4 647.8h0M613.2 604.2h0M512.8 679.8h0M543.9 666.2h0M605.6 613.3h0M574.5 643.1h0M604.4 615h0M563.6 642.6h0M515.4 695.4h0M533.7 679.4h0M545.5 667.6h0M512.9 690.2h0M602.7 606.6h0M494.5 706h0M552.9 653.4h0M584 633.1h0M571.3 643.4h0M552.2 660.4h0M568.6 646.1h0M582.3 628.5h0M556.8 648.3h0M601.4 604.7h0M605 607.6h0M576.4 637h0M574.5 630.3h0M526.6 680.7h0M529.5 680.1h0M568.2 646.4h0M524.1 686.5h0M526.3 684.7h0M549.5 660.2h0M517.7 693.4h0M563 647.7h0M563.7 646.5h0M608.3 608.2h0M494.1 708h0M580.9 631.1h0M564.4 647.6h0M582.4 629h0M604.8 614.8h0M578.2 646.9h0M595.6 618.7h0M501.9 702.9h0M526.8 682.5h0M562.7 649.8h0M504 695.2h0M574.2 642.3h0M611.8 609.4h0M527 677.9h0M606.6 615.9h0M579.6 637h0M530.3 675.9h0M574 633.7h0M510 696.9h0M577.8 632.1h0M601 620.8h0M555.9 654h0M547.2 662.2h0M541.3 665.7h0M558.9 643.3h0M596.5 619h0M516.7 691.5h0M592.7 619.3h0M536.4 676.1h0M564.6 653.5h0M577 636.2h0M593.4 626.5h0M590.6 634.7h0M518.1 687h0M580.8 630.3h0M566.7 648.5h0M566 648.3h0M578.4 633h0M609.3 602.2h0M512.3 692h0M554.2 657.1h0M579.5 636.3h0M586.4 628.8h0M517.9 691h0M542.4 670.8h0M498.5 706.6h0M509.1 697.8h0M563.6 650.9h0M536.4 667.9h0M501 701.2h0M569.5 640.1h0M550.5 658.6h0M516.2 690.4h0M557.6 651.7h0M558.8 652.4h0M520.9 686.8h0M596.5 619.8h0M567.5 647.9h0M572.8 644.1h0M516.8 694.5h0M580.4 629.2h0M521.6 690.8h0M542.7 662.9h0M542.2 670.4h0M508.7 700.8h0M554.3 660.3h0M547.8 660.9h0M598.5 603.4h0M521.3 685.1h0M529.5 682.3h0M510.2 694.3h0M544.7 660.7h0M555.2 652.4h0M572.7 640h0M606.6 611.2h0M553.4 654.1h0M585.7 626.9h0M580.8 630.2h0M562.5 649h0M517.6 693.9h0M541.4 666.1h0M599.9 611.6h0M544.6 669h0M507 702.7h0M549.5 661.5h0M557.8 649.3h0M540.4 664.5h0M605 613.4h0M537.4 663h0M515.8 691.6h0M570.1 647h0M578.2 640.3h0M547.9 661.2h0M584.8 626.7h0M560 645.6h0M558.8 655.4h0M564.5 648.1h0M494.8 710.4h0M570.8 640.9h0M558.5 651.2h0M558.2 655.5h0M509.6 695.8h0M548.9 660.6h0M502.7 698.3h0M548 662.4h0M579.4 633.1h0M578.1 633.6h0M557 653.2h0M564.9 635.4h0M537.9 672.2h0M544.5 668.2h0M544.3 663.2h0M502.2 702.4h0M565.3 653.1h0M569.5 643.6h0M572.7 648.5h0M590.1 624h0M542.5 667.6h0M531.2 675.9h0M583 635.4h0M568.1 647.7h0M565.6 640.6h0M589.2 621.1h0M568.6 641.1h0M567.7 646.9h0M503.4 704.9h0M587.8 631.3h0M560.5 661.4h0M492.7 711.4h0M543.4 672.8h0M578.2 636.9h0M515.9 686.6h0M582.7 632.7h0M576.6 632.5h0M571.9 636.6h0M545.3 665.4h0M496.4 711.3h0M572.6 640.4h0M581.5 637.4h0M524.5 683.5h0M586.4 625.9h0M541.7 675.4h0M587.1 627.5h0M568 648.7h0M541.9 666.6h0M531.8 675.6h0M594.2 621.2h0M578.5 637h0M596.2 623h0M541.1 672.8h0M607.2 613.7h0M552.6 656.4h0M542.8 669.6h0M598.3 609.4h0M592.7 625.2h0M581.9 629.3h0M570.4 640.1h0M563.7 647.5h0M556.5 659.5h0M550.4 653.8h0M527.2 683.3h0M553 654.6h0M610 606.4h0M557.9 657.7h0M593.9 614.9h0M518.2 687.8h0M608.8 616.5h0M504 700.7h0M563.8 652.6h0M569.7 651.6h0M513 693.4h0M585.1 633.1h0M551.1 660.5h0M564.4 647.7h0M595.8 621.9h0M583.2 629.6h0M572.6 632.3h0M572.6 634.3h0M607 611.8h0M596.9 624.9h0M507.9 689.5h0M502.7 700.7h0M585.5 629.4h0M589.8 630.6h0M605.4 618.6h0M559.8 641.4h0M522.6 685h0M501.6 704h0M560.5 648.4h0M566.7 645.6h0M508.7 694.8h0M573.3 638.7h0M583.1 627.6h0M503.5 701h0M601.3 626.2h0M574.2 638.5h0M587 628.9h0M544.5 665h0M527.2 676.8h0M532.2 674.9h0M575.6 637.8h0M589.9 630.4h0M561.8 652.9h0M555.2 657.9h0M551.6 659.6h0M520.4 691.7h0M547.3 659.3h0M550.4 664h0M578.3 641.9h0M578.4 632.7h0M575.1 635.5h0M564.7 651.2h0M565.6 644.6h0M594.6 614.8h0M586.5 628.8h0M569.4 646.1h0M520.1 694h0M562.5 664h0M613.2 613.3h0M553.1 665.9h0M563.8 642.5h0M522.6 688.6h0M556.4 658.3h0M591.8 624h0M511.2 695.5h0M542.3 665.1h0M563.6 650h0M606.1 610.9h0M551.4 656h0M541.3 672.2h0M564.8 639.4h0M540.6 664.6h0M566.9 646.2h0M526.6 690.8h0M576.5 631.6h0M594.2 625.3h0M566.1 649.6h0M501.7 699.2h0M603.3 623.3h0M547.9 662.2h0M610.1 606.8h0M589.4 616.4h0M530.8 678.7h0M531.1 681.3h0M554.8 657.3h0M569.9 645.5h0M556.4 655.1h0M572.2 648.2h0M532.4 670.5h0M558.7 651.2h0M575.8 631.8h0M548.4 655.4h0M588.3 632h0M503.8 701.6h0M579.2 636.9h0M567 650.4h0M568 639.9h0M559.7 656.3h0M565.5 642.3h0M551.2 655.5h0M501.5 704.9h0M573.6 644.4h0M588.1 623.8h0M566.3 654.4h0M567.5 643.9h0M596.4 616.9h0M522.5 682.2h0M499.8 703.6h0M574.4 638.6h0M584.2 623.3h0M545.7 665.1h0M569.7 643.3h0M588 637.2h0M593.3 618.6h0M594.7 619.5h0M520 682.5h0M550.2 660.5h0M501.8 711.1h0M559.4 647h0M565 648.2h0M497.2 709.1h0M593.5 620.1h0M552.5 651.5h0M540.7 669.8h0M584.1 621.7h0M524.1 681h0M579.4 645.2h0M567.3 648.5h0M582.3 633.4h0M564.7 649.2h0M586.9 625.3h0M548 669.1h0M583.8 632.5h0M524.4 686.5h0M577 637.6h0M584 628.8h0M599.4 619.4h0M496.8 712.1h0M573.6 648h0M518.3 684.9h0M568.9 639.4h0M603 604.6h0M586.2 625.6h0M518.7 691h0M517 683.5h0M571.6 639.8h0M573.5 639.9h0M554.7 665.3h0M568.4 641.3h0M570.3 642.1h0M564 641.7h0M609.8 606.5h0M593.4 626.7h0M590.8 622.5h0M560.1 649h0M579.2 633.6h0M501.4 701.6h0M519.4 687.9h0M531.4 672.5h0M563.3 649.2h0M570 639.5h0M585.5 627.8h0M552.5 651.5h0M581.7 641.3h0M548 666.8h0M570.9 643.6h0M598.8 609.6h0M541.8 663.3h0M551.2 660.9h0M561.2 653.2h0M543.3 668.4h0M579.8 640.1h0M525.2 676.4h0M552.2 664.5h0M575.2 635.2h0M561 650.3h0M591.7 624.9h0M591.6 619.2h0M607.6 609h0M576.5 637.4h0M560.1 646.3h0M524.1 685.2h0M547 667.1h0M567 643h0M512.3 698.4h0M576.1 637.8h0M574.4 636.3h0M580.1 626.9h0M568.9 641.1h0M554.9 662h0M551.8 655.8h0M585.2 629.1h0M506 693.5h0M526.5 682.3h0M512.6 695.7h0M580.9 633.9h0M520 692.6h0M580.1 632.9h0M606.7 607.5h0M579.4 635.4h0M540.6 670.8h0M606 613.8h0M509.1 697.2h0M502.3 703h0M576.4 633.6h0M586 631.9h0M516.1 690.5h0M578 632.2h0M565.5 642.7h0M500.2 704.6h0M562.8 650.4h0M581.2 629h0M501.4 704.8h0M574.4 635.5h0M579.4 636.3h0M568.4 640h0M572.9 635.1h0M577.9 641.3h0M594 625.4h0M593.6 622h0M552.4 659.7h0M573.7 632.2h0M605.6 608.6h0M515.8 693.4h0M521.4 690.3h0M581.3 630.9h0M561.3 650.6h0M588.2 623.9h0M602.9 617.5h0M537.3 676.7h0M546.2 667.5h0M608.7 608.3h0M495.6 705.6h0M588.3 622.6h0M534.6 673.1h0M579 632.1h0M599.1 610.1h0M569.4 645h0M579.8 632.3h0M535.7 676.3h0M593.8 621.1h0M505.6 699.5h0M594.8 620.3h0M554.6 661h0M527.7 678.9h0M565.2 651.5h0M579.5 637.9h0M537.5 672.4h0M555.2 659.1h0M509.6 691.1h0M553.8 658.6h0M598.9 627.2h0M567.3 646.1h0M552.5 657.5h0M537.3 671h0M589.1 624.2h0M538.6 677.3h0M563.6 655.2h0M496.6 710.5h0M598.2 617.1h0M602.3 618.5h0M533.9 673.8h0M557.7 658.2h0M592.7 619.5h0M590.9 619.6h0M595.7 619.6h0M529.1 685h0M555.2 651.9h0M575.6 636.3h0M548.3 668.8h0M514.2 691.3h0M581.3 632.5h0M566.4 654.5h0M551.9 662.2h0M573.3 639.8h0M513 690.6h0M549.7 663.9h0M566.9 646.9h0M586.2 626.7h0M559.6 653.6h0M533.6 669.9h0M544.6 661.8h0M553.2 657.6h0M611.1 604.8h0M535.5 667.7h0M570.7 642.3h0M563.9 649.7h0M555.2 657.3h0M550.9 661.9h0M582.7 629.6h0M586.5 628.5h0M544.2 659h0M587 625.6h0M595.2 619.7h0M543.8 663h0M572.9 635.1h0M603.8 615.8h0M584.8 630.7h0M543 665.4h0M529.9 674.6h0M596 622.8h0M609.9 602.2h0M569.9 640.9h0M573.6 644.8h0M535.6 680.5h0M519.7 686.8h0M523.7 679.5h0M497.3 707.1h0M561.7 647.2h0M559.8 659h0M575.9 641h0M556.6 659h0M573.6 633.5h0M493.5 705.1h0M600.7 619.1h0M560.3 645.6h0M583.3 630.2h0M546 664.7h0M552.9 657h0M588.3 623.1h0M569.1 647.1h0M565.4 646.9h0M544.3 663.3h0M579.1 634h0M551.2 652.7h0M575.2 637h0M496.6 703.3h0M597.3 620.3h0M603.4 618.8h0M583.6 635.3h0M587.7 632.6h0M608 610.7h0M545.2 669h0M562.8 651.1h0M602.6 608.8h0M548.1 659.9h0M602 614.5h0M523.4 686.4h0M544.5 662.6h0M604.2 605.5h0M585 624.2h0M586.6 620.4h0M600.8 628.1h0M578.7 635.5h0M578.8 638.1h0M566.3 652.8h0M579.4 634.3h0M563.9 653h0M497.8 703h0M579.6 630.4h0M558.6 652.1h0M530.5 677.6h0M609.8 611.1h0M606.6 615h0M517.2 684.1h0M559.5 654.2h0M599.6 623.6h0M560.3 653.2h0M580.9 636.9h0M583.9 630.5h0M493.9 710.1h0M547.5 664.9h0M551 658.2h0M561.9 653.9h0M601.3 616.2h0M525.8 683.4h0M570.2 641.8h0M530 685.4h0M498.4 709h0M574.5 642.2h0M577.1 632.7h0M573.3 642.5h0M580.2 639.1h0M592.2 624.7h0M576.6 638.6h0M581.4 636.7h0M613.6 602.2h0M519.7 687.9h0M531 678.6h0M565.3 651.2h0M577.8 631h0M574 641.6h0M580.5 631.9h0M576.7 638.3h0M605.7 608.7h0M502.3 701h0M611.2 606h0M601.2 609.4h0M592.6 622.5h0M565.9 647.2h0M546 665.3h0M542.6 671.9h0M584.1 631.2h0M523.4 683h0M567.4 644.7h0M574.2 638.1h0M599.6 622.3h0M585 617.8h0M598.6 623.1h0M552.6 654h0M547.7 660.8h0M498.3 704.5h0M548.5 660.8h0M571.8 632.5h0M565.8 646.1h0M598.4 617.4h0M608 605.9h0M508.4 692.8h0M593.9 619.3h0M606.2 614.8h0M551.3 661.7h0M530 676h0M547.7 662h0M604.3 615.9h0M544.3 669.9h0M589.6 630h0M577.1 630.3h0M545.2 661.8h0M583.8 638.4h0M538.9 669.9h0M565.8 640.9h0M558.9 653.1h0M503.6 704.3h0M501.6 703h0M503.6 705.2h0M521.5 682.7h0M564.7 647.6h0M577.2 634.6h0M514.3 686h0M584 639.4h0M571.7 638.5h0M577.5 637.7h0M595.3 617.1h0M597.3 608.2h0M591.5 621.5h0M596.5 625.3h0M516.8 684.6h0M501.5 704.3h0M513.4 696.8h0M557.8 652.9h0M507.7 699.7h0M587.1 630h0M580.9 631.5h0M583.5 633.5h0M575 638.5h0M544.9 664.8h0M558.1 648.6h0M580.2 632.4h0M606.9 607.1h0M585.4 628.9h0M545.5 667.3h0M592.8 620.9h0M500.5 699.2h0M564 647.3h0M548.6 660h0M494.3 708.7h0M590.5 622.8h0M581.4 625.7h0M525.9 673.4h0M517.9 690.3h0M565.1 647.1h0M560.4 653.2h0M541.5 666.8h0M544.5 667.5h0M536.9 676.7h0M571.6 641.5h0M552.7 651.3h0M594.8 617h0M498.8 708.2h0M559.4 647h0M561.9 645.5h0M509.7 697.1h0M593.3 619.2h0M557.8 652.7h0M561.4 652.9h0M578.9 632.4h0M589.7 620.5h0M568.7 643.3h0M560.2 647.7h0M580.5 635.1h0M595.3 623h0M558.1 648.4h0M580.3 639h0M577.9 633h0M518.9 691.7h0M568.6 651.5h0M588.4 619.9h0M598.4 607.1h0M581.6 631.7h0M579.8 630h0M575.2 642.7h0M546.5 666.6h0M493.8 714.7h0M577.5 631.5h0M588.3 627.4h0M506.7 698.9h0M592.6 618.4h0M504.8 700.5h0M587.2 636.1h0M516.5 696.5h0M562.6 648.9h0M517.3 691.6h0M610.6 604.4h0M577.5 635.6h0M566 647.2h0M554.5 659h0M556.5 657.9h0M577.4 644.7h0M557.2 654.8h0M599.4 604.7h0M598.8 619h0M608.6 605.1h0M577.9 619.2h0M575.5 637.2h0M582.5 626.2h0M546.6 662.5h0M496.4 714.9h0M547.7 661h0M570.8 645.4h0M589.2 623.4h0M518.9 690.4h0M539.6 669.9h0M560.7 647.8h0M602.1 618.4h0M518.5 687.6h0M508.2 697.5h0M589.6 630.2h0M602.2 612.1h0M585.8 625.5h0M586.1 634.7h0M601.2 603.7h0M533.3 676.3h0M512.6 694.1h0M598.9 616.3h0M556.5 648.7h0M535.6 666.7h0M497.7 706.5h0M559.5 645.5h0M568.2 645.9h0M532.1 682h0M588.3 633.1h0M544 663.2h0M515.8 693.4h0M588.1 626h0M563.4 646.7h0M493.7 712.6h0M564.2 647.6h0M590 623.5h0M537.6 664.9h0M565.8 648h0M533.8 674.8h0M600.9 604.2h0M585.7 627.7h0M563.8 640.3h0M544.3 670.9h0M522.2 686.9h0M601.8 616.9h0M590.2 633.5h0M601.1 617.8h0M559.1 650.5h0M495 707.8h0M576.9 633.9h0M590.3 619.8h0M543 663.7h0M522.5 691.2h0M605.9 612.5h0M568.1 640.6h0M538.5 669.8h0M541.6 673h0M575.5 640.3h0M554 650.1h0M583.7 629.4h0M580.7 630.3h0M523.6 680.8h0M594.4 621h0M540 665.3h0M588.3 608.7h0M557.5 654.6h0M557.2 654.5h0M609 608.6h0M589.4 623.7h0M565.3 643h0M540.5 672.6h0M512.7 686.4h0M492.4 711.7h0M585.7 628.8h0M557.6 656.4h0M536.2 671.3h0M573.8 644.4h0M562.1 650.9h0M581.9 632.5h0M564 655.5h0M536 673.1h0M579.6 631.1h0M532.6 675.7h0M542.7 665.1h0M550.8 658.7h0M556.8 654.1h0M584.6 624.9h0M575.9 637h0M584.1 627.2h0M512.2 697.2h0M551.1 659.6h0M605 614.2h0M597 616h0M590.6 629.4h0M526.2 682h0M548.5 661.1h0M566.2 655h0M600.4 618.7h0M560.4 649.4h0M608.9 602.2h0M598.8 615.2h0M565.8 647.8h0M591.7 622.1h0M557.8 650.4h0M574.7 636.1h0M572.4 638.7h0M562.3 650.8h0M560 652h0M599.4 622.9h0M537.1 671.6h0M574.2 637.5h0M594.1 627.8h0M582.2 637.5h0M562.2 652.3h0M546 659.6h0M559.5 648.9h0M586.1 619.7h0M592 620.4h0M582.1 630.9h0M541.2 668.6h0M578.8 632.5h0M564.5 647h0M519.5 685.1h0M527.7 680.4h0M584.5 630h0M560 652.4h0M560.5 658.2h0M577.6 649.5h0M594.8 616.2h0M547.1 665.3h0M576.7 637.9h0M521.8 687.7h0M572.7 641.9h0M524.7 680.9h0M573.6 634.1h0M570.8 636.6h0M521.8 681.4h0M548.1 665.7h0M541.9 668.7h0M569.4 644.6h0M572.8 640.4h0M557.5 655.9h0M546.2 671.3h0M604.9 614.6h0M588.6 620.3h0M560.3 650.1h0M559.5 655.8h0M570.5 649.1h0M593 618.3h0M572.8 642.2h0M538.9 671.6h0M533.7 674.7h0M570.7 635.9h0M596.7 621.4h0M575.8 633.4h0M608.6 604.9h0M518.2 690.6h0M586.3 629.3h0M571.1 642.9h0M536.9 671.8h0M593.5 630h0M581.3 637.7h0M545.6 666h0M577.1 634.8h0M575.5 638h0M556.2 662.1h0M557.6 668.3h0M513.9 695.7h0M529.1 675.6h0M577.3 635h0M588.7 628.6h0M584.2 630.8h0M588.4 620.6h0M584.8 626.5h0M567.6 640.1h0M567.2 651.4h0M548.7 663.7h0M551.3 657.9h0M501.9 700.1h0M602.4 602.2h0M506.9 699.5h0M602.1 610.2h0M596.9 626.3h0M517 685.7h0M541.2 670.5h0M547.8 665h0M582.2 631.4h0M584.6 631.5h0M581.8 627.5h0M539.7 671.2h0M547.9 667.3h0M566.2 650.5h0M576.8 646h0M544.9 656.8h0M545.3 661.3h0M569.2 633.1h0M584.3 632.1h0M612.4 609h0M557.9 650.3h0M493.6 707.4h0M537.8 671.9h0M541.2 666.6h0M587.8 634h0M530.2 678.4h0M525.7 682.5h0M528.1 680.4h0M563.8 640.4h0M552.5 663h0M535.8 662.8h0M575.7 637.9h0M521.9 686h0M603 610.6h0M539.1 674.7h0M535.5 671.1h0M580.2 637.6h0M586.1 626.5h0M600.8 610.6h0M575.1 640.4h0M531.9 672.5h0M578.1 637.1h0M549.7 657.9h0M544.2 665.9h0M556.4 651.8h0M559.6 651.8h0M551.5 655h0M557.4 649.3h0M520.7 688.3h0M507.8 695.4h0M533.4 675.5h0M507.2 705.5h0M568.8 649.5h0M594.7 618h0M556.3 647h0M545.5 662.4h0M545.1 665.1h0M604.2 615.3h0M561.1 652.5h0M550.5 662.8h0M576.3 633.6h0M574.2 641.2h0M503.6 699.3h0M571.5 636.5h0M500.9 606.3h0M500.4 607.2h0M500.1 608.9h0M504.1 606.7h0M492.9 604.7h0M494.6 604.9h0M502.3 605.3h0M502.2 606.5h0M500.3 604.5h0M492 605.3h0M499.6 604.3h0M494.9 605.1h0M492.7 607.2h0M498 606.1h0M608.4 710.4h0M610.7 708.3h0M609.3 712.7h0M609.2 713.3h0M612.8 709.6h0M611 710.4h0M609 710.9h0M609.6 711.9h0M607.3 708.7h0M611.5 708.7h0M612.6 712.8h0M610.6 713.1h0M613 709.5h0M611.1 712.5h0" stroke="#d5d5d5" stroke-width="2.1" stroke-linecap="round" fill="none"/>
<path d="M523.8 670.6h0M523.2 671.9h0M520.7 676.4h0M513 687.6h0M531.7 668.1h0M522.1 676.2h0M524.3 671.5h0M524.3 669.4h0M517 677.3h0M519.8 672.2h0M526.4 664.5h0M534 664.1h0M532.7 660.8h0M521.9 672.9h0M524.3 670.6h0M526.1 670.8h0M535.6 668.3h0M527.8 667.3h0M525.6 671.5h0M526.9 665.1h0M524.5 671.1h0M517.9 683.1h0M532.8 662.7h0M525.4 670.6h0M522.9 674.1h0M536.9 656.1h0M513.7 680.6h0M521.3 673.4h0M527.9 663.8h0M518.9 676.3h0M522.3 668.9h0M526 668.6h0M521.6 676.3h0M534.9 664.6h0M516.6 672.1h0M518.4 673.9h0M519.8 668.4h0M527.6 669.3h0M523.6 670.9h0M519.7 674.1h0M518.1 671.1h0M523.8 671.6h0M514.6 675.7h0M522.7 668.2h0M531.3 662.1h0M532.5 666.4h0M534 659.4h0M519.9 675.2h0M524.5 670.1h0M525.9 665.8h0M541.8 674.5h0M546.7 677.4h0M559.7 663.5h0M564.6 656.1h0M547.4 673.3h0M552.6 666.8h0M549.2 668.2h0M550.7 669h0M570 652.9h0M540.2 682.5h0M562.5 664.4h0M569.5 651.6h0M540.3 681.2h0M562.4 667.7h0M559.1 657.6h0M554 665.7h0M561.6 658.5h0M561.6 663h0M547.9 680.9h0M547 677.4h0M548.9 671h0M552 671.6h0M562.7 660.7h0M554.3 665.2h0M560.7 662.6h0M557.4 664.8h0M551.4 670.5h0M567.1 654.2h0M568.9 659.2h0M558 662.5h0M559.4 660.4h0M545.2 683.5h0M566.2 659.1h0M562.1 658.9h0M558.1 663.4h0M548.9 672.3h0M555.9 672.3h0M569.6 651.7h0M562.2 658.6h0M550 669.1h0M565.1 656.7h0M557.7 664.9h0M554 673.3h0M546 680.1h0M550.8 669h0M583.7 642.5h0M573.3 656.4h0M568.4 657.8h0M577.9 646h0M586.5 646.6h0M583.4 638.7h0M579.7 643.1h0M569.9 659.7h0M572.9 647.6h0M567.8 653.5h0M572.9 651.3h0M584.4 638.7h0M579.8 647.2h0M582.2 650.1h0M586.4 641.1h0M596.3 625.6h0M575.3 638h0M584.1 638.8h0M609.3 616.6h0M588.6 635.7h0M601.8 620.6h0M582.1 639.9h0M589.8 640h0M583.7 631.3h0M575.5 646.1h0M579 623.5h0M597.8 610.5h0M582.2 622.3h0M574.5 622.3h0M582.3 621.6h0M600.7 604.6h0M591.7 611.7h0M584.8 617.5h0M570.8 629.1h0M562.8 640.1h0M571.7 624.6h0M566.8 634.7h0M563.8 637h0M559.4 637.9h0M493.7 697.8h0M501.8 687.8h0M526.4 696h0M532.4 691h0M517.4 699.6h0M582.7 710.8h0M496.7 608.9h0M502.3 609.4h0M503.8 605.8h0" stroke="#2e5aa0" stroke-width="2.3" stroke-linecap="round" fill="none"/>
<line x1="486.3" y1="717.5" x2="619" y2="598.6" stroke="#2b2b2b" stroke-width="1.3" stroke-dasharray="3 1.8"/>
<path d="M486.3 598.4V717.5H618" fill="none" stroke="#6b6b6b" stroke-width="0.95"/>
<path d="M492.2 717.5v5.6M486.3 712.2h-5.5M512.3 717.5v5.6M486.3 694.2h-5.5M532.4 717.5v5.6M486.3 676.1h-5.5M552.6 717.5v5.6M486.3 658.1h-5.5M572.7 717.5v5.6M486.3 640h-5.5M592.8 717.5v5.6M486.3 622h-5.5M612.9 717.5v5.6M486.3 604h-5.5" stroke="#6b6b6b" stroke-width="0.95" fill="none"/>
<text x="492.2" y="733.9" font-size="9" fill="#4a4a4a" text-anchor="middle" stroke="#4a4a4a" stroke-width="0.08">0</text>
<text x="475.7" y="715.5" font-size="9" fill="#4a4a4a" text-anchor="end" stroke="#4a4a4a" stroke-width="0.08">0</text>
<text x="512.3" y="733.9" font-size="9" fill="#4a4a4a" text-anchor="middle" stroke="#4a4a4a" stroke-width="0.08">4</text>
<text x="475.7" y="697.5" font-size="9" fill="#4a4a4a" text-anchor="end" stroke="#4a4a4a" stroke-width="0.08">4</text>
<text x="532.4" y="733.9" font-size="9" fill="#4a4a4a" text-anchor="middle" stroke="#4a4a4a" stroke-width="0.08">8</text>
<text x="475.7" y="679.4" font-size="9" fill="#4a4a4a" text-anchor="end" stroke="#4a4a4a" stroke-width="0.08">8</text>
<text x="552.6" y="733.9" font-size="9" fill="#4a4a4a" text-anchor="middle" stroke="#4a4a4a" stroke-width="0.08">12</text>
<text x="475.7" y="661.4" font-size="9" fill="#4a4a4a" text-anchor="end" stroke="#4a4a4a" stroke-width="0.08">12</text>
<text x="572.7" y="733.9" font-size="9" fill="#4a4a4a" text-anchor="middle" stroke="#4a4a4a" stroke-width="0.08">16</text>
<text x="475.7" y="643.3" font-size="9" fill="#4a4a4a" text-anchor="end" stroke="#4a4a4a" stroke-width="0.08">16</text>
<text x="592.8" y="733.9" font-size="9" fill="#4a4a4a" text-anchor="middle" stroke="#4a4a4a" stroke-width="0.08">20</text>
<text x="475.7" y="625.3" font-size="9" fill="#4a4a4a" text-anchor="end" stroke="#4a4a4a" stroke-width="0.08">20</text>
<text x="612.9" y="733.9" font-size="9" fill="#4a4a4a" text-anchor="middle" stroke="#4a4a4a" stroke-width="0.08">24</text>
<text x="475.7" y="607.3" font-size="9" fill="#4a4a4a" text-anchor="end" stroke="#4a4a4a" stroke-width="0.08">24</text>
<text x="513.2" y="587.5" font-size="9.5" fill="#2a2a2a" stroke="#2a2a2a" stroke-width="0.1">n = 139 : 1635</text>
<text x="549.8" y="747.4" font-size="9.5" fill="#4a4a4a" text-anchor="middle" stroke="#4a4a4a" stroke-width="0.08">Mesophyll Cell</text>
<text x="549.8" y="758.4" font-size="9.5" fill="#4a4a4a" text-anchor="middle" stroke="#4a4a4a" stroke-width="0.08">(Cluster S7)</text>
<text transform="translate(445,658.8) rotate(-90)" font-size="9.5" fill="#4a4a4a" text-anchor="middle" stroke="#4a4a4a" stroke-width="0.08">Mesophyll Cell</text>
<text transform="translate(456.5,658.8) rotate(-90)" font-size="9.5" fill="#4a4a4a" text-anchor="middle" stroke="#4a4a4a" stroke-width="0.08">(Cluster S2)</text>
<text x="629.4" y="395.9" font-size="9.3" fill="#2a2a2a" stroke="#2a2a2a" stroke-width="0.1">n =</text>
<circle cx="650.2" cy="392.3" r="2.9" fill="#2e5aa0"/>
<text x="656.3" y="395.9" font-size="9.3" fill="#2a2a2a" stroke="#2a2a2a" stroke-width="0.1">:</text>
<circle cx="665.8" cy="392.2" r="2.9" fill="#d5d5d5"/>
<circle cx="635.5" cy="407.8" r="2.9" fill="#2e5aa0"/>
<circle cx="635.5" cy="421.8" r="2.9" fill="#d5d5d5"/>
<text x="652.8" y="410.9" font-size="9.3" fill="#2a2a2a" stroke="#2a2a2a" stroke-width="0.1">Sig</text>
<text x="653.3" y="426.2" font-size="9.3" fill="#2a2a2a" stroke="#2a2a2a" stroke-width="0.1">NS</text>
</svg>
</body></html>
